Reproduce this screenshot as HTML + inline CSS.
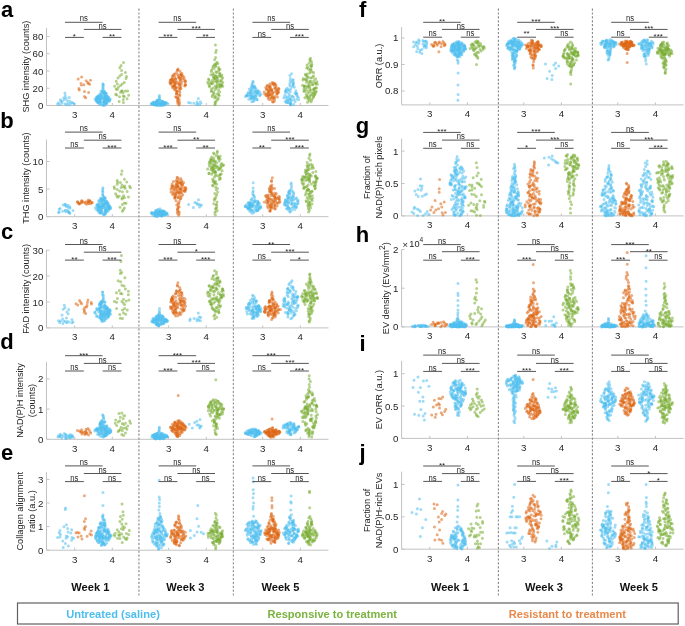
<!DOCTYPE html>
<html><head><meta charset="utf-8"><style>
html,body{margin:0;padding:0;background:#fff;width:685px;height:626px;overflow:hidden}
svg{display:block;filter:blur(0.3px)}
text{font-family:"Liberation Sans", sans-serif}
.t{font-size:9.2px;fill:#262626}
.s{font-size:8px;fill:#262626}
.k{font-size:9.7px;fill:#262626}
.L{font-size:22px;font-weight:bold;fill:#000}
.W{font-size:11.1px;font-weight:bold;fill:#111}
</style></head><body>
<svg width="685" height="626" viewBox="0 0 685 626">
<path d="M46.5 27.8V105.5H328.5" fill="none" stroke="#c2c2c2" stroke-width="1"/>
<path d="M46.5 105.5h3" stroke="#c2c2c2" stroke-width="1"/>
<text x="43.3" y="109" text-anchor="end" class="k">0</text>
<path d="M46.5 88.25h3" stroke="#c2c2c2" stroke-width="1"/>
<text x="43.3" y="91.75" text-anchor="end" class="k">20</text>
<path d="M46.5 71h3" stroke="#c2c2c2" stroke-width="1"/>
<text x="43.3" y="74.5" text-anchor="end" class="k">40</text>
<path d="M46.5 53.75h3" stroke="#c2c2c2" stroke-width="1"/>
<text x="43.3" y="57.25" text-anchor="end" class="k">60</text>
<path d="M46.5 36.5h3" stroke="#c2c2c2" stroke-width="1"/>
<text x="43.3" y="40" text-anchor="end" class="k">80</text>
<path d="M74.7 105.5v-2.5" stroke="#c2c2c2" stroke-width="1"/>
<text x="74.7" y="117.9" text-anchor="middle" class="k">3</text>
<path d="M112.3 105.5v-2.5" stroke="#c2c2c2" stroke-width="1"/>
<text x="112.3" y="117.9" text-anchor="middle" class="k">4</text>
<path d="M168.7 105.5v-2.5" stroke="#c2c2c2" stroke-width="1"/>
<text x="168.7" y="117.9" text-anchor="middle" class="k">3</text>
<path d="M206.3 105.5v-2.5" stroke="#c2c2c2" stroke-width="1"/>
<text x="206.3" y="117.9" text-anchor="middle" class="k">4</text>
<path d="M262.7 105.5v-2.5" stroke="#c2c2c2" stroke-width="1"/>
<text x="262.7" y="117.9" text-anchor="middle" class="k">3</text>
<path d="M300.3 105.5v-2.5" stroke="#c2c2c2" stroke-width="1"/>
<text x="300.3" y="117.9" text-anchor="middle" class="k">4</text>
<text transform="translate(29.1 66.65) rotate(-90)" text-anchor="middle" class="t">SHG intensity (counts)</text>
<path d="M69.9 101.2h0M70.5 103.8h0M62.0 103.2h0M69.6 104.7h0" stroke="#4DBEEE" stroke-opacity="0.55" stroke-width="3.0" stroke-linecap="round"/>
<path d="M67.3 100.6h0M58.5 103.0h0M59.7 104.4h0M64.3 99.4h0" stroke="#4DBEEE" stroke-opacity="0.55" stroke-width="3.0" stroke-linecap="round"/>
<path d="M73.1 103.0h0M57.6 104.1h0M60.8 101.2h0" stroke="#4DBEEE" stroke-opacity="0.55" stroke-width="3.0" stroke-linecap="round"/>
<path d="M65.2 95.4h0M69.3 97.4h0" stroke="#4DBEEE" stroke-opacity="0.55" stroke-width="3.0" stroke-linecap="round"/>
<path d="M63.8 97.7h0M60.5 99.7h0M74.3 104.1h0M66.7 104.7h0M71.9 102.4h0" stroke="#4DBEEE" stroke-opacity="0.55" stroke-width="3.0" stroke-linecap="round"/>
<path d="M64.9 93.0h0M66.1 98.0h0M62.3 101.2h0M65.2 103.8h0M68.1 103.0h0" stroke="#4DBEEE" stroke-opacity="0.55" stroke-width="3.0" stroke-linecap="round"/>
<path d="M81.6 77.0h0M86.2 80.8h0" stroke="#DD6410" stroke-opacity="0.55" stroke-width="3.0" stroke-linecap="round"/>
<path d="M87.7 82.5h0M89.7 84.3h0M85.7 97.7h0" stroke="#DD6410" stroke-opacity="0.55" stroke-width="3.0" stroke-linecap="round"/>
<path d="M81.0 83.4h0M81.3 85.1h0M83.9 84.8h0M88.3 83.4h0M84.5 96.5h0" stroke="#DD6410" stroke-opacity="0.55" stroke-width="3.0" stroke-linecap="round"/>
<path d="M78.2 78.9h0M79.2 90.1h0M84.5 91.6h0M88.6 92.4h0" stroke="#DD6410" stroke-opacity="0.55" stroke-width="3.0" stroke-linecap="round"/>
<path d="M90.5 80.2h0M78.9 88.4h0" stroke="#DD6410" stroke-opacity="0.55" stroke-width="3.0" stroke-linecap="round"/>
<path d="M103.5 104.9h0M103.6 104.8h0M104.9 103.7h0M105.4 103.7h0M98.4 102.9h0M97.9 102.6h0M99.4 102.3h0M103.7 102.2h0M108.2 100.6h0M96.1 100.6h0M96.9 100.4h0M104.9 100.3h0M107.5 100.3h0M105.2 99.8h0M109.0 99.3h0M98.2 99.0h0M110.3 98.9h0M105.5 98.6h0M98.4 98.0h0M105.5 96.4h0M105.7 96.3h0M106.3 93.5h0M101.1 92.4h0M100.9 91.3h0" stroke="#4DBEEE" stroke-opacity="0.55" stroke-width="3.0" stroke-linecap="round"/>
<path d="M106.9 103.0h0M97.5 102.1h0M104.0 102.0h0M105.1 101.3h0M96.2 100.8h0M100.4 100.5h0M100.0 100.2h0M107.6 100.1h0M109.0 99.9h0M105.5 99.6h0M108.2 99.5h0M106.6 99.3h0M95.0 99.1h0M96.4 98.5h0M100.9 98.5h0M103.5 98.0h0M102.2 97.8h0M96.5 97.7h0M99.9 97.5h0M104.5 96.7h0M107.8 96.5h0M101.3 96.5h0M98.2 95.7h0M103.1 95.5h0M103.2 94.8h0M105.1 93.1h0M104.3 92.0h0M103.3 84.5h0" stroke="#4DBEEE" stroke-opacity="0.55" stroke-width="3.0" stroke-linecap="round"/>
<path d="M104.8 103.6h0M106.3 103.2h0M98.2 102.8h0M100.5 101.6h0M104.4 101.1h0M100.1 100.4h0M108.6 100.2h0M97.0 100.1h0M98.0 99.9h0M109.4 99.2h0M104.0 98.9h0M100.9 98.2h0M97.6 97.1h0M99.7 96.9h0M102.1 96.6h0M97.9 96.3h0M99.9 94.3h0M100.5 94.2h0M104.6 92.9h0M102.6 91.7h0" stroke="#4DBEEE" stroke-opacity="0.55" stroke-width="3.0" stroke-linecap="round"/>
<path d="M98.8 101.9h0M105.1 101.9h0M100.0 99.3h0M105.4 99.0h0M98.8 98.7h0M96.9 98.4h0M108.3 98.3h0M106.8 97.6h0M106.8 97.4h0M97.6 97.2h0M97.0 97.1h0M106.2 96.2h0M106.1 94.5h0M105.1 93.9h0M102.3 92.8h0M104.3 92.2h0" stroke="#4DBEEE" stroke-opacity="0.55" stroke-width="3.0" stroke-linecap="round"/>
<path d="M102.8 105.2h0M101.1 104.5h0M99.7 103.5h0M105.5 103.3h0M100.3 102.6h0M103.4 101.5h0M104.0 101.0h0M109.8 100.7h0M107.2 100.0h0M104.1 99.8h0M97.3 99.1h0M98.9 97.9h0M104.1 97.6h0M96.6 97.4h0M97.5 97.3h0M107.4 96.8h0M105.5 95.4h0M100.8 95.0h0M105.0 94.6h0M104.4 93.6h0M105.8 93.3h0M104.3 91.1h0M103.0 90.5h0M102.6 89.6h0M103.2 87.7h0M103.2 85.6h0" stroke="#4DBEEE" stroke-opacity="0.55" stroke-width="3.0" stroke-linecap="round"/>
<path d="M104.5 105.4h0M100.1 104.2h0M102.3 104.0h0M106.4 103.4h0M103.1 103.0h0M100.2 102.5h0M96.9 101.7h0M108.6 101.5h0M107.1 101.3h0M98.5 101.0h0M107.4 100.7h0M104.7 99.7h0M96.3 99.6h0M105.1 99.5h0M107.9 99.4h0M100.9 98.8h0M102.2 98.7h0M105.5 98.3h0M100.8 98.1h0M100.2 97.8h0M108.6 97.0h0M100.3 96.8h0M98.8 96.6h0M106.7 96.1h0M104.9 96.0h0M101.4 95.9h0M100.0 95.1h0M103.9 93.8h0M103.7 92.5h0M104.0 91.8h0M102.3 91.6h0M102.5 91.4h0M103.0 89.1h0M102.8 86.7h0M102.8 83.8h0" stroke="#4DBEEE" stroke-opacity="0.55" stroke-width="3.0" stroke-linecap="round"/>
<path d="M126.0 78.6h0M124.3 82.4h0M127.6 90.9h0M116.7 94.9h0M119.1 101.4h0" stroke="#77AC30" stroke-opacity="0.55" stroke-width="3.0" stroke-linecap="round"/>
<path d="M121.6 74.6h0M119.8 75.9h0M126.5 76.4h0M116.2 88.9h0M120.5 92.2h0M115.7 94.3h0M128.7 95.2h0M123.5 102.5h0" stroke="#77AC30" stroke-opacity="0.55" stroke-width="3.0" stroke-linecap="round"/>
<path d="M125.4 72.6h0M122.2 84.0h0M119.5 96.7h0M127.1 98.7h0" stroke="#77AC30" stroke-opacity="0.55" stroke-width="3.0" stroke-linecap="round"/>
<path d="M114.6 86.2h0M125.4 91.1h0M123.0 92.7h0M124.3 96.5h0M121.6 91.1h0" stroke="#77AC30" stroke-opacity="0.55" stroke-width="3.0" stroke-linecap="round"/>
<path d="M123.5 62.5h0M121.1 65.5h0M121.6 70.4h0M118.0 78.0h0M116.2 81.3h0M123.3 99.6h0" stroke="#77AC30" stroke-opacity="0.55" stroke-width="3.0" stroke-linecap="round"/>
<path d="M119.8 67.7h0M117.3 84.0h0M120.5 85.4h0M118.4 87.3h0M117.3 89.5h0M122.2 91.1h0M123.3 96.0h0" stroke="#77AC30" stroke-opacity="0.55" stroke-width="3.0" stroke-linecap="round"/>
<path d="M163.0 104.5h0M157.1 104.5h0M155.8 104.4h0M153.9 104.0h0M157.8 103.7h0M162.0 103.5h0M167.2 103.1h0M166.4 103.0h0M156.7 102.9h0M156.9 102.7h0M156.2 102.5h0M164.6 102.4h0M162.2 101.6h0M157.5 100.3h0M159.4 97.3h0M159.2 96.7h0" stroke="#4DBEEE" stroke-opacity="0.55" stroke-width="3.0" stroke-linecap="round"/>
<path d="M156.6 105.0h0M155.6 104.8h0M157.0 104.8h0M161.4 104.6h0M158.4 104.4h0M161.4 104.2h0M153.7 104.2h0M166.6 104.1h0M155.5 103.8h0M154.1 103.8h0M164.6 103.7h0M166.3 103.6h0M165.8 103.6h0M162.1 103.5h0M166.8 103.4h0M166.0 103.2h0M158.1 102.1h0M156.8 101.5h0M157.4 101.3h0M159.6 100.5h0M159.4 95.6h0" stroke="#4DBEEE" stroke-opacity="0.55" stroke-width="3.0" stroke-linecap="round"/>
<path d="M160.5 105.4h0M156.5 105.3h0M162.7 104.8h0M159.1 104.7h0M162.8 104.5h0M155.9 104.1h0M154.3 104.0h0M151.4 103.9h0M158.6 103.9h0M153.8 103.9h0M163.8 103.4h0M154.6 103.4h0M165.7 103.3h0M161.0 103.0h0M162.2 102.8h0M163.1 102.7h0M154.8 102.6h0M161.7 102.3h0M153.5 102.0h0M161.0 101.5h0M157.5 101.2h0M160.7 101.0h0M161.3 100.9h0M160.9 100.4h0M159.6 98.4h0" stroke="#4DBEEE" stroke-opacity="0.55" stroke-width="3.0" stroke-linecap="round"/>
<path d="M161.8 104.9h0M154.0 104.3h0M164.1 103.8h0M161.2 103.7h0M153.7 103.6h0M164.7 103.2h0M161.1 103.1h0M162.0 103.1h0M162.1 103.1h0M160.4 103.0h0M154.0 102.6h0M163.7 102.2h0M162.5 101.9h0" stroke="#4DBEEE" stroke-opacity="0.55" stroke-width="3.0" stroke-linecap="round"/>
<path d="M159.5 105.4h0M163.8 105.2h0M154.4 105.0h0M158.4 105.0h0M154.8 104.8h0M164.9 104.7h0M161.0 104.6h0M158.4 104.3h0M154.2 104.1h0M151.8 103.5h0M161.0 103.5h0M153.0 103.3h0M162.7 102.8h0M158.1 102.8h0M164.6 102.8h0M156.6 101.8h0M155.7 101.7h0M162.8 101.3h0M157.0 100.8h0M158.9 99.1h0" stroke="#4DBEEE" stroke-opacity="0.55" stroke-width="3.0" stroke-linecap="round"/>
<path d="M157.1 105.2h0M157.2 105.1h0M162.5 104.9h0M159.1 104.3h0M153.7 104.2h0M151.7 104.0h0M158.9 104.0h0M157.9 103.7h0M156.3 103.3h0M151.7 103.2h0M159.5 102.9h0M151.9 102.9h0M153.1 102.7h0M156.5 102.6h0M158.6 102.5h0M165.3 102.5h0M156.8 100.9h0M159.4 100.7h0M156.8 100.6h0" stroke="#4DBEEE" stroke-opacity="0.55" stroke-width="3.0" stroke-linecap="round"/>
<path d="M179.0 105.0h0M177.7 103.2h0M176.7 90.8h0M179.2 90.3h0M174.3 89.2h0M176.9 87.5h0M176.2 87.0h0M173.7 85.4h0M174.9 84.9h0M170.5 83.0h0M171.0 82.3h0M175.1 80.4h0M171.8 79.6h0M175.6 79.0h0" stroke="#DD6410" stroke-opacity="0.55" stroke-width="3.0" stroke-linecap="round"/>
<path d="M179.2 99.8h0M178.0 99.3h0M179.8 94.8h0M176.5 93.4h0M175.4 90.0h0M174.5 85.5h0M179.7 84.8h0M178.9 82.9h0M173.2 81.6h0M181.6 81.5h0M171.5 80.5h0M170.5 80.0h0M180.2 79.7h0M184.3 79.2h0M179.2 77.2h0M178.3 76.4h0M173.2 75.7h0M181.9 73.5h0M177.4 69.9h0" stroke="#DD6410" stroke-opacity="0.55" stroke-width="3.0" stroke-linecap="round"/>
<path d="M179.2 103.8h0M177.8 101.5h0M179.9 92.0h0M180.2 88.6h0M173.5 86.5h0M184.7 85.9h0M185.6 84.7h0M171.1 82.7h0M175.3 82.4h0M170.3 82.1h0M170.0 81.4h0M173.9 81.2h0M184.6 80.9h0M170.5 80.2h0M173.6 80.1h0M178.8 78.0h0M181.3 74.9h0M177.7 74.4h0" stroke="#DD6410" stroke-opacity="0.55" stroke-width="3.0" stroke-linecap="round"/>
<path d="M177.8 97.9h0M176.2 97.2h0M177.2 91.4h0M179.7 87.9h0M179.0 87.4h0M175.0 87.2h0M179.5 86.8h0M179.3 86.6h0M185.4 85.2h0M179.7 84.0h0M170.0 83.1h0M180.3 80.7h0M172.2 79.8h0M172.7 79.4h0M182.5 78.5h0M172.5 77.7h0M182.2 76.8h0M172.4 76.0h0M175.2 74.1h0M176.5 72.3h0M177.7 70.3h0" stroke="#DD6410" stroke-opacity="0.55" stroke-width="3.0" stroke-linecap="round"/>
<path d="M179.6 102.2h0M177.6 100.5h0M177.9 98.7h0M177.5 98.3h0M176.5 94.1h0M175.8 88.1h0M172.6 87.7h0M185.1 84.4h0M175.5 83.6h0M173.2 82.6h0M185.2 81.9h0M175.6 79.0h0M171.9 78.7h0M180.7 78.4h0M180.9 74.6h0M181.0 73.7h0M180.0 71.3h0M178.1 68.9h0" stroke="#DD6410" stroke-opacity="0.55" stroke-width="3.0" stroke-linecap="round"/>
<path d="M175.8 96.7h0M179.5 96.3h0M178.5 95.6h0M179.1 95.0h0M176.7 93.1h0M176.8 92.6h0M180.9 88.4h0M180.9 86.3h0M172.3 86.1h0M173.8 85.7h0M170.9 84.3h0M178.4 84.0h0M181.4 83.7h0M175.3 83.4h0M177.0 81.8h0M185.7 81.0h0M179.8 77.8h0M174.9 77.3h0M184.0 77.0h0M179.8 76.4h0M182.6 75.8h0M174.1 75.3h0M180.1 75.1h0M174.0 74.1h0" stroke="#DD6410" stroke-opacity="0.55" stroke-width="3.0" stroke-linecap="round"/>
<path d="M196.7 104.4h0" stroke="#4DBEEE" stroke-opacity="0.55" stroke-width="3.0" stroke-linecap="round"/>
<path d="M200.3 101.7h0M201.1 103.0h0" stroke="#4DBEEE" stroke-opacity="0.55" stroke-width="3.0" stroke-linecap="round"/>
<path d="M190.5 103.1h0" stroke="#4DBEEE" stroke-opacity="0.55" stroke-width="3.0" stroke-linecap="round"/>
<path d="M188.5 102.4h0M193.8 103.3h0M197.0 101.9h0M199.6 104.6h0" stroke="#4DBEEE" stroke-opacity="0.55" stroke-width="3.0" stroke-linecap="round"/>
<path d="M198.3 98.4h0" stroke="#4DBEEE" stroke-opacity="0.55" stroke-width="3.0" stroke-linecap="round"/>
<path d="M197.8 103.7h0" stroke="#4DBEEE" stroke-opacity="0.55" stroke-width="3.0" stroke-linecap="round"/>
<path d="M217.0 93.9h0M218.3 92.8h0M213.6 92.3h0M219.7 91.8h0M218.6 90.2h0M215.1 89.8h0M215.9 88.8h0M221.4 85.4h0M211.9 83.5h0M221.8 79.5h0M213.9 78.3h0M221.2 76.4h0M211.7 70.1h0M219.9 69.6h0M215.6 66.5h0M214.1 65.0h0M215.6 57.6h0M215.7 52.6h0M215.4 45.1h0" stroke="#77AC30" stroke-opacity="0.55" stroke-width="3.0" stroke-linecap="round"/>
<path d="M218.3 98.4h0M212.2 96.6h0M218.7 94.7h0M211.3 91.3h0M213.0 87.9h0M215.1 86.0h0M219.8 85.8h0M217.0 85.1h0M214.3 77.0h0M221.8 75.1h0M219.7 73.2h0M211.4 71.5h0M214.1 68.5h0M212.8 67.9h0M218.6 67.4h0" stroke="#77AC30" stroke-opacity="0.55" stroke-width="3.0" stroke-linecap="round"/>
<path d="M216.1 101.3h0M214.7 98.0h0M220.7 87.1h0M221.8 84.9h0M208.6 84.1h0M212.8 83.2h0M213.4 81.9h0M208.9 80.1h0M217.3 79.2h0M217.0 77.9h0M212.9 74.9h0M216.9 72.6h0M216.5 63.5h0" stroke="#77AC30" stroke-opacity="0.55" stroke-width="3.0" stroke-linecap="round"/>
<path d="M215.0 102.3h0M219.2 95.5h0M212.7 95.0h0M209.6 85.6h0M210.8 83.7h0M207.6 82.3h0M216.5 81.4h0M214.8 78.8h0M217.4 76.8h0M218.6 76.3h0M215.2 64.1h0" stroke="#77AC30" stroke-opacity="0.55" stroke-width="3.0" stroke-linecap="round"/>
<path d="M214.9 104.8h0M216.2 97.2h0M211.6 90.9h0M211.4 89.3h0M216.4 87.4h0M219.2 84.0h0M217.2 83.0h0M217.8 82.8h0M221.0 81.5h0M208.6 79.0h0M217.0 78.1h0M222.6 77.7h0M215.5 75.4h0M219.8 74.1h0M215.8 71.8h0M218.5 70.7h0M213.1 66.2h0M217.9 63.4h0M217.1 62.2h0M214.6 59.7h0" stroke="#77AC30" stroke-opacity="0.55" stroke-width="3.0" stroke-linecap="round"/>
<path d="M215.3 103.6h0M217.4 99.7h0M214.8 96.0h0M213.9 93.6h0M219.1 87.3h0M209.4 86.8h0M217.0 86.6h0M222.8 86.3h0M220.2 84.7h0M221.6 84.4h0M222.8 82.5h0M210.6 82.1h0M215.9 81.1h0M220.0 80.7h0M218.3 80.7h0M212.2 80.4h0M215.1 79.8h0M213.3 77.3h0M215.3 76.0h0M220.0 75.8h0M210.9 74.7h0M213.3 73.6h0M218.9 68.9h0M215.7 65.4h0M216.3 50.3h0" stroke="#77AC30" stroke-opacity="0.55" stroke-width="3.0" stroke-linecap="round"/>
<path d="M257.1 99.4h0M255.6 98.7h0M259.8 95.1h0M248.3 92.5h0M259.7 91.9h0M254.7 91.8h0M259.2 91.4h0M250.1 90.9h0M253.2 82.2h0" stroke="#4DBEEE" stroke-opacity="0.55" stroke-width="3.0" stroke-linecap="round"/>
<path d="M251.8 101.7h0M253.2 98.3h0M251.6 97.4h0M253.3 96.5h0M246.3 96.0h0M246.7 95.5h0M255.3 95.4h0M256.8 92.7h0M254.5 85.9h0M252.1 83.8h0M252.9 81.3h0" stroke="#4DBEEE" stroke-opacity="0.55" stroke-width="3.0" stroke-linecap="round"/>
<path d="M250.9 97.1h0M250.9 95.6h0M247.1 95.0h0M251.0 94.9h0M247.1 94.6h0M249.7 94.4h0M256.7 94.2h0M251.2 93.8h0M247.8 93.5h0M257.9 92.8h0M257.9 91.6h0M251.4 87.7h0M254.4 87.1h0M253.1 86.8h0M252.1 84.8h0" stroke="#4DBEEE" stroke-opacity="0.55" stroke-width="3.0" stroke-linecap="round"/>
<path d="M254.1 100.4h0M251.9 98.6h0M251.1 98.4h0M252.7 96.9h0M245.5 96.5h0M248.7 96.3h0M255.9 95.9h0M259.8 95.8h0M252.3 93.1h0M250.5 92.2h0M257.6 92.2h0M249.2 89.0h0M255.6 88.1h0M254.4 87.5h0M251.5 86.4h0" stroke="#4DBEEE" stroke-opacity="0.55" stroke-width="3.0" stroke-linecap="round"/>
<path d="M253.5 101.3h0M257.1 99.7h0M256.2 99.1h0M255.9 98.0h0M255.2 97.8h0M255.9 97.6h0M256.0 97.2h0M255.0 97.0h0M254.3 96.7h0M251.4 96.2h0M253.2 94.7h0M257.8 93.6h0M254.5 93.3h0M255.0 91.1h0M251.9 90.7h0M254.6 90.4h0M257.5 90.0h0M252.3 89.5h0M254.9 88.7h0M252.9 88.4h0M252.8 86.2h0" stroke="#4DBEEE" stroke-opacity="0.55" stroke-width="3.0" stroke-linecap="round"/>
<path d="M248.7 99.2h0M250.7 98.9h0M253.7 98.0h0M247.1 95.2h0M250.4 94.5h0M261.0 94.1h0M250.2 93.0h0M256.1 91.2h0M251.4 89.8h0" stroke="#4DBEEE" stroke-opacity="0.55" stroke-width="3.0" stroke-linecap="round"/>
<path d="M272.5 101.7h0M273.4 98.0h0M271.7 96.5h0M270.9 94.7h0M276.9 93.8h0M268.3 90.4h0M271.5 89.1h0M275.3 88.3h0M270.0 86.3h0M270.2 86.0h0M267.1 85.3h0M275.3 84.6h0" stroke="#DD6410" stroke-opacity="0.55" stroke-width="3.0" stroke-linecap="round"/>
<path d="M269.1 99.6h0M268.2 98.5h0M274.8 96.4h0M268.6 95.6h0M266.1 95.3h0M266.0 93.9h0M278.0 92.7h0M277.0 91.3h0M277.3 89.7h0M267.0 89.3h0M272.6 84.0h0M274.6 83.4h0" stroke="#DD6410" stroke-opacity="0.55" stroke-width="3.0" stroke-linecap="round"/>
<path d="M274.5 99.0h0M273.5 98.7h0M271.6 97.5h0M277.4 96.9h0M272.5 96.0h0M266.6 95.8h0M267.8 95.0h0M276.9 94.3h0M272.8 93.0h0M267.6 92.8h0M269.2 92.2h0M278.5 92.0h0M276.3 89.9h0M278.8 88.9h0M278.5 88.7h0M274.6 88.2h0M270.4 87.6h0M267.2 86.5h0M272.2 82.6h0" stroke="#DD6410" stroke-opacity="0.55" stroke-width="3.0" stroke-linecap="round"/>
<path d="M274.4 100.9h0M271.1 99.4h0M271.2 98.3h0M269.5 94.6h0M268.4 93.1h0M271.8 90.3h0M266.5 89.6h0M270.3 89.3h0M269.0 87.9h0M274.4 85.6h0M275.8 84.9h0M273.6 83.0h0" stroke="#DD6410" stroke-opacity="0.55" stroke-width="3.0" stroke-linecap="round"/>
<path d="M274.0 97.8h0M267.8 95.1h0M270.1 94.4h0M264.7 94.0h0M272.6 93.5h0M271.1 93.4h0M277.4 92.5h0M264.2 92.1h0M278.0 91.5h0M278.1 91.1h0M271.9 90.9h0M277.7 90.7h0M269.5 90.1h0M278.8 88.5h0M265.7 87.4h0M269.4 86.7h0M273.2 84.3h0" stroke="#DD6410" stroke-opacity="0.55" stroke-width="3.0" stroke-linecap="round"/>
<path d="M273.2 102.1h0M268.7 97.2h0M268.8 91.8h0M274.7 91.7h0M271.5 90.5h0M276.2 87.0h0M269.5 85.1h0M270.0 83.8h0" stroke="#DD6410" stroke-opacity="0.55" stroke-width="3.0" stroke-linecap="round"/>
<path d="M290.7 105.0h0M288.1 102.5h0M287.3 102.1h0M285.1 101.5h0M287.9 100.8h0M283.8 97.8h0M289.5 96.3h0M296.7 95.3h0M296.1 93.9h0M287.9 89.7h0M289.9 86.0h0M290.3 78.4h0" stroke="#4DBEEE" stroke-opacity="0.55" stroke-width="3.0" stroke-linecap="round"/>
<path d="M290.9 103.7h0M286.4 102.7h0M286.4 101.3h0M286.7 100.5h0M290.9 100.1h0M298.7 99.5h0M296.7 99.3h0M298.3 97.9h0M293.5 97.3h0M292.3 97.1h0M289.4 94.3h0M285.4 91.9h0M295.9 90.7h0M286.2 89.0h0M287.1 88.2h0M292.4 86.5h0M289.9 75.6h0M291.5 73.7h0" stroke="#4DBEEE" stroke-opacity="0.55" stroke-width="3.0" stroke-linecap="round"/>
<path d="M295.1 101.7h0M288.9 100.3h0M290.1 98.8h0M289.5 98.6h0M295.0 92.9h0M286.0 91.2h0M289.1 90.1h0M294.3 87.3h0M293.5 82.2h0M291.6 81.9h0M293.0 79.8h0" stroke="#4DBEEE" stroke-opacity="0.55" stroke-width="3.0" stroke-linecap="round"/>
<path d="M293.7 104.5h0M290.3 103.2h0M291.3 101.0h0M297.7 96.4h0M296.2 93.4h0M287.6 92.4h0M285.6 90.6h0M293.0 84.6h0" stroke="#4DBEEE" stroke-opacity="0.55" stroke-width="3.0" stroke-linecap="round"/>
<path d="M290.7 103.5h0M289.7 103.1h0M289.7 99.1h0M287.4 96.7h0M296.8 93.6h0M290.3 91.6h0M293.2 83.3h0M290.1 80.9h0M292.9 80.2h0" stroke="#4DBEEE" stroke-opacity="0.55" stroke-width="3.0" stroke-linecap="round"/>
<path d="M290.5 104.2h0M287.6 102.2h0M293.8 99.8h0M286.6 98.4h0M286.1 97.5h0M292.4 96.0h0M284.8 95.7h0M285.2 94.8h0M290.9 88.7h0M293.4 85.0h0M289.7 83.7h0" stroke="#4DBEEE" stroke-opacity="0.55" stroke-width="3.0" stroke-linecap="round"/>
<path d="M311.2 101.8h0M309.4 98.4h0M312.8 98.3h0M313.6 96.0h0M307.2 95.5h0M306.2 93.7h0M308.0 92.9h0M315.8 92.0h0M315.8 87.7h0M312.9 84.7h0M314.4 82.7h0M313.9 81.0h0M307.0 80.6h0M314.4 80.3h0M305.3 79.4h0M315.6 78.8h0M308.3 76.9h0M305.8 75.0h0M309.6 72.9h0M313.6 72.5h0M311.5 65.5h0M310.5 58.3h0" stroke="#77AC30" stroke-opacity="0.55" stroke-width="3.0" stroke-linecap="round"/>
<path d="M311.7 99.7h0M315.0 94.1h0M304.4 91.0h0M309.7 89.8h0M313.9 89.3h0M308.8 86.8h0M302.5 85.3h0M309.2 85.1h0M312.2 84.4h0M315.9 84.0h0M311.8 83.5h0M306.4 82.3h0M317.0 81.8h0M303.5 78.5h0M312.2 77.5h0M313.0 77.3h0M311.6 72.0h0M310.2 71.1h0M309.9 70.4h0M310.6 69.1h0M309.1 63.3h0M311.5 61.8h0" stroke="#77AC30" stroke-opacity="0.55" stroke-width="3.0" stroke-linecap="round"/>
<path d="M307.5 102.2h0M313.7 96.7h0M311.7 94.9h0M311.7 93.0h0M313.8 92.5h0M303.9 91.3h0M304.0 89.6h0M303.9 88.8h0M304.1 85.9h0M307.7 85.7h0M306.6 76.1h0M311.5 66.6h0M311.9 64.3h0" stroke="#77AC30" stroke-opacity="0.55" stroke-width="3.0" stroke-linecap="round"/>
<path d="M309.5 100.8h0M307.5 97.4h0M310.4 95.2h0M314.8 94.5h0M313.9 90.6h0M306.6 90.5h0M305.7 88.5h0M316.5 88.0h0M305.2 86.0h0M308.8 82.9h0M309.8 81.2h0M313.5 75.7h0M305.4 74.3h0M307.1 73.9h0M308.5 68.9h0M307.7 67.3h0M307.0 65.0h0" stroke="#77AC30" stroke-opacity="0.55" stroke-width="3.0" stroke-linecap="round"/>
<path d="M308.0 99.3h0M309.6 97.1h0M307.0 96.4h0M306.6 95.9h0M313.2 93.6h0M311.1 90.1h0M314.7 88.3h0M310.1 82.0h0M311.2 81.5h0M302.9 80.1h0M306.1 79.6h0M306.5 79.1h0M307.2 78.1h0M311.2 69.9h0M306.8 68.1h0M310.6 66.1h0M310.1 60.7h0" stroke="#77AC30" stroke-opacity="0.55" stroke-width="3.0" stroke-linecap="round"/>
<path d="M304.9 97.8h0M309.4 91.7h0M316.2 91.4h0M313.7 89.1h0M309.7 87.5h0M307.5 87.3h0M304.3 86.6h0M309.6 86.5h0M317.4 84.2h0M316.0 83.2h0M310.6 77.9h0M309.9 59.6h0" stroke="#77AC30" stroke-opacity="0.55" stroke-width="3.0" stroke-linecap="round"/>
<path d="M65 22.3H102.6" stroke="#555" stroke-width="1"/>
<text transform="translate(83.8 21.4) scale(0.96 1.2)" text-anchor="middle" class="s">ns</text>
<path d="M83.8 29.4H121.4" stroke="#555" stroke-width="1"/>
<text transform="translate(102.6 28.5) scale(0.96 1.2)" text-anchor="middle" class="s">ns</text>
<path d="M65 37.4H83.8" stroke="#555" stroke-width="1"/>
<text x="74.4" y="39.4" text-anchor="middle" class="s">*</text>
<path d="M102.6 37.4H121.4" stroke="#555" stroke-width="1"/>
<text x="112" y="39.4" text-anchor="middle" class="s">**</text>
<path d="M158.6 22.3H196.2" stroke="#555" stroke-width="1"/>
<text transform="translate(177.4 21.4) scale(0.96 1.2)" text-anchor="middle" class="s">ns</text>
<path d="M177.4 29.4H215" stroke="#555" stroke-width="1"/>
<text x="196.2" y="31.4" text-anchor="middle" class="s">***</text>
<path d="M158.6 37.4H177.4" stroke="#555" stroke-width="1"/>
<text x="168" y="39.4" text-anchor="middle" class="s">***</text>
<path d="M196.2 37.4H215" stroke="#555" stroke-width="1"/>
<text x="205.6" y="39.4" text-anchor="middle" class="s">**</text>
<path d="M252.4 22.3H290" stroke="#555" stroke-width="1"/>
<text transform="translate(271.2 21.4) scale(0.96 1.2)" text-anchor="middle" class="s">ns</text>
<path d="M271.2 29.4H308.8" stroke="#555" stroke-width="1"/>
<text transform="translate(290 28.5) scale(0.96 1.2)" text-anchor="middle" class="s">ns</text>
<path d="M252.4 37.4H271.2" stroke="#555" stroke-width="1"/>
<text transform="translate(261.8 36.5) scale(0.96 1.2)" text-anchor="middle" class="s">ns</text>
<path d="M290 37.4H308.8" stroke="#555" stroke-width="1"/>
<text x="299.4" y="39.4" text-anchor="middle" class="s">***</text>
<path d="M46.5 139.6V216.7H328.5" fill="none" stroke="#c2c2c2" stroke-width="1"/>
<path d="M46.5 216.7h3" stroke="#c2c2c2" stroke-width="1"/>
<text x="43.3" y="220.2" text-anchor="end" class="k">0</text>
<path d="M46.5 189.1h3" stroke="#c2c2c2" stroke-width="1"/>
<text x="43.3" y="192.6" text-anchor="end" class="k">5</text>
<path d="M46.5 161.5h3" stroke="#c2c2c2" stroke-width="1"/>
<text x="43.3" y="165" text-anchor="end" class="k">10</text>
<path d="M74.7 216.7v-2.5" stroke="#c2c2c2" stroke-width="1"/>
<text x="74.7" y="229.1" text-anchor="middle" class="k">3</text>
<path d="M112.3 216.7v-2.5" stroke="#c2c2c2" stroke-width="1"/>
<text x="112.3" y="229.1" text-anchor="middle" class="k">4</text>
<path d="M168.7 216.7v-2.5" stroke="#c2c2c2" stroke-width="1"/>
<text x="168.7" y="229.1" text-anchor="middle" class="k">3</text>
<path d="M206.3 216.7v-2.5" stroke="#c2c2c2" stroke-width="1"/>
<text x="206.3" y="229.1" text-anchor="middle" class="k">4</text>
<path d="M262.7 216.7v-2.5" stroke="#c2c2c2" stroke-width="1"/>
<text x="262.7" y="229.1" text-anchor="middle" class="k">3</text>
<path d="M300.3 216.7v-2.5" stroke="#c2c2c2" stroke-width="1"/>
<text x="300.3" y="229.1" text-anchor="middle" class="k">4</text>
<text transform="translate(29.1 178.15) rotate(-90)" text-anchor="middle" class="t">THG intensity (counts)</text>
<path d="M59.2 211.9h0M68.4 211.4h0M73.0 210.6h0M66.3 206.0h0M63.2 205.1h0" stroke="#4DBEEE" stroke-opacity="0.55" stroke-width="3.0" stroke-linecap="round"/>
<path d="M69.1 212.4h0M65.7 211.7h0M65.4 210.9h0" stroke="#4DBEEE" stroke-opacity="0.55" stroke-width="3.0" stroke-linecap="round"/>
<path d="M62.6 211.2h0M69.8 206.8h0M68.3 205.2h0" stroke="#4DBEEE" stroke-opacity="0.55" stroke-width="3.0" stroke-linecap="round"/>
<path d="M69.3 212.8h0M58.5 212.6h0M65.3 210.2h0M60.2 208.6h0" stroke="#4DBEEE" stroke-opacity="0.55" stroke-width="3.0" stroke-linecap="round"/>
<path d="M59.1 209.3h0M70.0 208.3h0M68.5 207.5h0M65.0 204.2h0" stroke="#4DBEEE" stroke-opacity="0.55" stroke-width="3.0" stroke-linecap="round"/>
<path d="M69.8 213.2h0M68.4 212.1h0M67.4 210.2h0M66.4 206.3h0M65.7 205.6h0M65.3 204.6h0" stroke="#4DBEEE" stroke-opacity="0.55" stroke-width="3.0" stroke-linecap="round"/>
<path d="M90.6 203.8h0M80.2 203.3h0M88.3 203.0h0M83.9 202.2h0M89.9 200.8h0M81.5 200.7h0" stroke="#DD6410" stroke-opacity="0.55" stroke-width="3.0" stroke-linecap="round"/>
<path d="M79.3 204.0h0M86.2 201.7h0" stroke="#DD6410" stroke-opacity="0.55" stroke-width="3.0" stroke-linecap="round"/>
<path d="M77.5 201.8h0" stroke="#DD6410" stroke-opacity="0.55" stroke-width="3.0" stroke-linecap="round"/>
<path d="M86.7 204.3h0M88.4 203.6h0M92.3 202.5h0M88.3 202.4h0M81.8 202.0h0M90.3 201.4h0" stroke="#DD6410" stroke-opacity="0.55" stroke-width="3.0" stroke-linecap="round"/>
<path d="M85.3 203.2h0M78.4 202.9h0M89.2 200.4h0M88.3 200.1h0" stroke="#DD6410" stroke-opacity="0.55" stroke-width="3.0" stroke-linecap="round"/>
<path d="M78.8 203.5h0M91.7 202.7h0M81.6 202.6h0M77.5 201.9h0M88.3 201.5h0M82.2 201.0h0" stroke="#DD6410" stroke-opacity="0.55" stroke-width="3.0" stroke-linecap="round"/>
<path d="M104.0 214.9h0M103.4 214.7h0M105.3 213.8h0M105.3 211.9h0M105.6 210.2h0M96.6 209.8h0M109.5 208.6h0M95.2 208.0h0M99.0 206.9h0M109.1 206.8h0M107.7 206.7h0M102.0 205.9h0M99.1 205.5h0M96.6 205.4h0M103.7 204.6h0M98.2 204.0h0M99.2 203.6h0M105.0 203.3h0M106.5 202.7h0M99.1 200.4h0M105.1 200.2h0M104.9 199.1h0M104.2 198.6h0M102.7 194.0h0M102.6 190.9h0" stroke="#4DBEEE" stroke-opacity="0.55" stroke-width="3.0" stroke-linecap="round"/>
<path d="M105.3 213.5h0M102.0 212.7h0M100.5 211.6h0M107.5 211.6h0M108.3 210.8h0M105.4 210.5h0M101.4 210.3h0M100.3 210.1h0M107.1 208.6h0M102.4 208.2h0M107.2 207.9h0M97.3 207.7h0M102.4 207.4h0M104.5 207.2h0M99.4 206.5h0M109.0 206.3h0M97.4 204.9h0M107.7 204.2h0M103.6 204.2h0M102.5 203.9h0M105.6 203.8h0M106.9 203.7h0M107.2 203.4h0M107.3 203.2h0M101.7 203.1h0M106.6 200.9h0M101.0 200.5h0M100.7 199.6h0M104.0 198.9h0M104.9 198.1h0M105.2 197.9h0M103.8 197.4h0M103.2 196.0h0M102.9 187.8h0" stroke="#4DBEEE" stroke-opacity="0.55" stroke-width="3.0" stroke-linecap="round"/>
<path d="M103.7 214.0h0M99.9 213.2h0M102.4 211.3h0M97.9 210.6h0M102.0 208.7h0M110.5 208.5h0M102.3 208.1h0M110.0 207.5h0M109.0 207.1h0M100.7 206.2h0M101.0 206.0h0M104.0 205.8h0M99.1 205.7h0M107.3 205.2h0M102.7 200.8h0M103.7 199.5h0M100.5 198.3h0M103.6 197.8h0" stroke="#4DBEEE" stroke-opacity="0.55" stroke-width="3.0" stroke-linecap="round"/>
<path d="M104.4 214.4h0M101.2 212.9h0M106.1 212.3h0M100.1 212.1h0M100.3 211.7h0M107.8 209.6h0M108.3 209.5h0M98.5 209.1h0M100.8 209.0h0M99.8 208.5h0M110.5 207.2h0M101.4 207.0h0M109.8 206.3h0M103.1 205.4h0M97.8 205.2h0M97.4 204.4h0M107.5 203.0h0M101.5 202.6h0M104.7 201.2h0M102.2 199.2h0M102.9 191.9h0M102.8 189.2h0" stroke="#4DBEEE" stroke-opacity="0.55" stroke-width="3.0" stroke-linecap="round"/>
<path d="M101.0 212.6h0M100.2 212.4h0M98.8 212.2h0M105.6 211.4h0M99.0 211.2h0M106.4 209.2h0M105.3 208.4h0M99.4 208.0h0M106.1 207.8h0M108.4 207.8h0M98.6 207.6h0M109.5 207.0h0M101.1 206.6h0M102.0 205.0h0M105.1 205.0h0M101.5 204.8h0M103.9 204.7h0M108.7 204.5h0M105.4 204.1h0M108.0 203.0h0M103.0 199.8h0M101.4 198.4h0M104.9 197.6h0" stroke="#4DBEEE" stroke-opacity="0.55" stroke-width="3.0" stroke-linecap="round"/>
<path d="M100.4 211.0h0M106.3 210.7h0M98.2 210.0h0M100.2 209.7h0M105.5 209.4h0M108.8 208.9h0M110.1 208.8h0M101.2 208.3h0M104.5 207.5h0M98.0 207.3h0M108.7 206.7h0M98.6 206.4h0M109.1 206.1h0M98.4 205.8h0M99.2 205.6h0M107.1 204.4h0M107.0 203.6h0M103.8 203.4h0M103.2 202.4h0M99.4 202.2h0M105.6 202.1h0M106.8 201.8h0M99.6 201.6h0M105.2 201.4h0M98.8 201.0h0M101.7 199.9h0M102.7 195.2h0" stroke="#4DBEEE" stroke-opacity="0.55" stroke-width="3.0" stroke-linecap="round"/>
<path d="M117.2 189.4h0M126.0 203.3h0M120.0 207.3h0M123.2 209.7h0" stroke="#77AC30" stroke-opacity="0.55" stroke-width="3.0" stroke-linecap="round"/>
<path d="M122.0 171.0h0M124.4 179.2h0M114.2 186.7h0M125.2 188.2h0M119.6 191.0h0M122.4 191.8h0" stroke="#77AC30" stroke-opacity="0.55" stroke-width="3.0" stroke-linecap="round"/>
<path d="M120.4 182.4h0M130.4 187.8h0M116.8 195.8h0M124.4 197.7h0M124.4 202.9h0" stroke="#77AC30" stroke-opacity="0.55" stroke-width="3.0" stroke-linecap="round"/>
<path d="M121.4 174.2h0M121.2 187.4h0M114.4 188.6h0M127.2 191.4h0M115.6 193.8h0M117.6 197.3h0M122.4 197.7h0" stroke="#77AC30" stroke-opacity="0.55" stroke-width="3.0" stroke-linecap="round"/>
<path d="M117.2 180.6h0M126.8 181.9h0M117.2 184.2h0M122.0 185.0h0M124.8 185.9h0M119.2 196.2h0M123.6 195.8h0M122.0 198.9h0M122.4 204.5h0M122.4 211.3h0" stroke="#77AC30" stroke-opacity="0.55" stroke-width="3.0" stroke-linecap="round"/>
<path d="M117.6 182.2h0M129.6 186.2h0M123.6 187.0h0M128.4 197.1h0M124.4 208.1h0" stroke="#77AC30" stroke-opacity="0.55" stroke-width="3.0" stroke-linecap="round"/>
<path d="M156.4 216.4h0M156.2 216.2h0M157.6 216.1h0M159.9 215.5h0M156.0 215.1h0M158.3 215.1h0M164.1 215.0h0M155.9 214.8h0M158.4 214.7h0M166.8 214.5h0M164.1 214.0h0M162.9 213.9h0M158.8 213.8h0M164.7 213.2h0M152.7 213.1h0M152.4 212.9h0M155.3 212.7h0M155.3 212.4h0M156.6 212.2h0M164.0 211.9h0M160.1 211.8h0M155.5 211.4h0M155.3 211.0h0M160.9 210.8h0" stroke="#4DBEEE" stroke-opacity="0.55" stroke-width="3.0" stroke-linecap="round"/>
<path d="M157.6 216.2h0M161.3 216.0h0M161.2 215.7h0M162.5 215.3h0M161.7 214.7h0M164.8 214.3h0M158.9 214.1h0M161.0 214.1h0M152.1 214.1h0M166.5 213.9h0M151.2 213.0h0M154.9 212.4h0M161.2 212.3h0M158.8 212.1h0M159.2 211.6h0M163.9 211.1h0" stroke="#4DBEEE" stroke-opacity="0.55" stroke-width="3.0" stroke-linecap="round"/>
<path d="M161.0 215.7h0M161.7 215.7h0M154.0 215.4h0M159.7 215.1h0M161.9 214.5h0M160.1 214.4h0M162.7 214.3h0M152.7 214.2h0M166.1 213.7h0M158.0 213.6h0M153.7 213.3h0M152.0 213.1h0M154.5 212.7h0M162.3 212.6h0M160.3 212.5h0M156.9 212.2h0M165.2 212.1h0M161.6 211.7h0M163.0 211.2h0M160.1 211.1h0M162.5 210.7h0M156.0 210.4h0" stroke="#4DBEEE" stroke-opacity="0.55" stroke-width="3.0" stroke-linecap="round"/>
<path d="M154.9 215.8h0M161.9 215.6h0M161.6 214.9h0M158.5 214.9h0M165.0 214.6h0M162.3 214.6h0M165.7 214.4h0M157.2 213.8h0M157.8 213.6h0M156.6 213.5h0M155.6 213.4h0M166.3 213.0h0M156.2 212.8h0M151.8 212.6h0M164.9 212.5h0M161.6 212.3h0M159.8 212.0h0M157.2 211.4h0M163.6 211.3h0M159.2 210.6h0M157.0 209.9h0M159.6 209.1h0M160.0 208.8h0" stroke="#4DBEEE" stroke-opacity="0.55" stroke-width="3.0" stroke-linecap="round"/>
<path d="M155.2 215.8h0M161.2 215.6h0M155.1 215.2h0M164.9 213.6h0M162.2 212.9h0M162.1 211.5h0M158.1 211.2h0M161.8 210.9h0M157.4 210.8h0M158.1 209.6h0" stroke="#4DBEEE" stroke-opacity="0.55" stroke-width="3.0" stroke-linecap="round"/>
<path d="M162.3 215.4h0M155.5 215.3h0M163.9 214.8h0M154.6 213.4h0M158.2 213.3h0M167.1 213.2h0M161.2 211.8h0M159.2 211.7h0" stroke="#4DBEEE" stroke-opacity="0.55" stroke-width="3.0" stroke-linecap="round"/>
<path d="M179.1 214.1h0M177.8 208.9h0M178.8 203.8h0M176.0 200.7h0M174.7 198.2h0M182.8 194.8h0M179.2 193.6h0M179.0 193.0h0M177.2 191.5h0M184.9 190.5h0M180.4 188.4h0M171.8 187.7h0M177.6 186.8h0M181.3 186.5h0M172.9 186.2h0M182.3 185.4h0M181.0 184.0h0M181.6 182.0h0M177.4 181.8h0" stroke="#DD6410" stroke-opacity="0.55" stroke-width="3.0" stroke-linecap="round"/>
<path d="M179.3 212.1h0M178.3 197.3h0M175.2 196.4h0M176.2 195.4h0M180.9 192.6h0M173.5 191.2h0M173.9 190.3h0M176.2 188.8h0M176.1 188.6h0M174.9 188.0h0M184.3 187.8h0M176.9 187.4h0M177.2 187.0h0M176.9 186.6h0M177.1 186.1h0M176.6 185.0h0M180.0 182.5h0M178.6 182.3h0M178.9 181.1h0M181.7 180.6h0M178.9 180.0h0M176.7 179.7h0" stroke="#DD6410" stroke-opacity="0.55" stroke-width="3.0" stroke-linecap="round"/>
<path d="M178.0 211.6h0M178.2 206.3h0M175.2 197.5h0M181.5 196.6h0M173.0 193.3h0M181.2 192.9h0M175.4 192.4h0M180.0 191.8h0M182.9 191.1h0M181.5 190.9h0M179.7 189.5h0M179.7 189.1h0M185.5 187.6h0M178.0 185.6h0M182.7 184.3h0M181.4 183.3h0M178.4 183.1h0M177.1 177.2h0" stroke="#DD6410" stroke-opacity="0.55" stroke-width="3.0" stroke-linecap="round"/>
<path d="M177.2 213.0h0M177.7 208.3h0M180.3 199.1h0M179.7 196.1h0M179.6 195.7h0M172.7 194.5h0M171.0 192.1h0M178.6 191.9h0M181.0 189.8h0M186.0 188.5h0M180.1 182.9h0M173.4 181.5h0" stroke="#DD6410" stroke-opacity="0.55" stroke-width="3.0" stroke-linecap="round"/>
<path d="M178.5 215.2h0M179.2 206.9h0M176.8 205.1h0M177.9 197.8h0M175.0 195.2h0M176.0 193.9h0M176.4 193.3h0M184.4 190.7h0M176.5 190.1h0M185.5 189.7h0M179.5 189.3h0M171.0 189.2h0M173.8 188.9h0M172.7 188.1h0M174.6 186.4h0M177.3 185.8h0M172.4 185.2h0M182.0 184.7h0M175.9 184.5h0M172.1 183.9h0" stroke="#DD6410" stroke-opacity="0.55" stroke-width="3.0" stroke-linecap="round"/>
<path d="M177.3 210.3h0M178.1 203.0h0M179.3 201.6h0M180.7 198.5h0M174.7 197.0h0M175.2 194.3h0M178.0 192.4h0M185.0 191.5h0M184.9 190.2h0M181.8 188.2h0M176.3 187.2h0M178.3 187.1h0M171.8 186.0h0M176.7 183.5h0M183.6 182.6h0M176.0 181.3h0M180.7 178.6h0M177.7 178.0h0" stroke="#DD6410" stroke-opacity="0.55" stroke-width="3.0" stroke-linecap="round"/>
<path d="M194.9 202.5h0M199.2 204.3h0M193.4 207.6h0" stroke="#4DBEEE" stroke-opacity="0.55" stroke-width="3.0" stroke-linecap="round"/>
<path d="M196.7 203.0h0" stroke="#4DBEEE" stroke-opacity="0.55" stroke-width="3.0" stroke-linecap="round"/>
<path d="M198.5 199.7h0M199.6 207.0h0M200.3 205.9h0" stroke="#4DBEEE" stroke-opacity="0.55" stroke-width="3.0" stroke-linecap="round"/>
<path d="M197.4 204.5h0M201.4 204.9h0M188.6 204.5h0" stroke="#4DBEEE" stroke-opacity="0.55" stroke-width="3.0" stroke-linecap="round"/>
<path d="M216.3 211.2h0M217.3 210.4h0M216.2 208.5h0M213.8 203.7h0M212.6 185.3h0M213.1 181.7h0M215.3 175.3h0M212.8 172.4h0M222.0 171.1h0M222.2 170.7h0M207.6 168.9h0M209.6 166.2h0M223.5 164.9h0M221.0 164.4h0M215.5 161.3h0M210.6 158.9h0M213.7 158.0h0M218.4 157.9h0M213.5 152.9h0" stroke="#77AC30" stroke-opacity="0.55" stroke-width="3.0" stroke-linecap="round"/>
<path d="M215.4 214.9h0M214.9 214.1h0M214.9 212.2h0M214.4 200.2h0M213.0 185.7h0M214.4 182.5h0M219.4 179.6h0M212.6 179.3h0M214.4 177.2h0M221.2 173.9h0M215.2 171.5h0M213.3 170.5h0M218.2 169.8h0M219.5 168.5h0M214.5 161.9h0" stroke="#77AC30" stroke-opacity="0.55" stroke-width="3.0" stroke-linecap="round"/>
<path d="M215.5 208.8h0M216.3 204.5h0M215.5 172.7h0M212.5 166.9h0M214.3 166.0h0M209.8 161.6h0M213.0 160.7h0M218.6 158.4h0M218.7 157.4h0M214.3 154.0h0" stroke="#77AC30" stroke-opacity="0.55" stroke-width="3.0" stroke-linecap="round"/>
<path d="M216.7 207.1h0M216.4 205.3h0M216.7 194.5h0M214.8 193.5h0M216.7 184.3h0M215.2 183.8h0M219.6 177.6h0M218.9 176.5h0M216.7 175.5h0M220.1 174.4h0M220.1 168.7h0M213.8 168.3h0M211.5 168.0h0M221.0 167.4h0M215.5 165.8h0M211.4 162.6h0M209.5 162.3h0M211.4 159.4h0M217.2 152.4h0" stroke="#77AC30" stroke-opacity="0.55" stroke-width="3.0" stroke-linecap="round"/>
<path d="M214.5 198.8h0M217.6 191.9h0M216.3 189.7h0M217.5 188.4h0M215.5 181.3h0M220.5 178.5h0M219.7 174.9h0M208.8 173.2h0M214.6 172.0h0M212.3 170.2h0M219.2 169.1h0M216.4 167.8h0M212.3 167.5h0M217.2 167.2h0M214.9 165.0h0M214.5 164.6h0M214.0 164.0h0M219.0 160.9h0M211.7 157.1h0M218.4 156.7h0M220.2 156.2h0" stroke="#77AC30" stroke-opacity="0.55" stroke-width="3.0" stroke-linecap="round"/>
<path d="M217.1 201.9h0M215.7 198.0h0M216.0 196.5h0M215.6 187.3h0M215.3 183.1h0M213.5 180.6h0M211.7 174.2h0M209.2 173.4h0M215.4 171.9h0M210.9 169.6h0M214.1 169.3h0M220.8 166.6h0M217.5 166.4h0M223.0 165.6h0M212.8 165.3h0M209.2 164.2h0M210.6 163.8h0M221.8 163.5h0M216.5 163.0h0M211.1 160.2h0M213.8 160.0h0M220.1 159.1h0M216.3 155.8h0M217.0 155.3h0M217.4 151.3h0" stroke="#77AC30" stroke-opacity="0.55" stroke-width="3.0" stroke-linecap="round"/>
<path d="M253.9 212.2h0M257.0 210.6h0M249.5 208.7h0M260.5 207.2h0M250.4 205.6h0M258.0 205.3h0M249.7 204.9h0M252.1 204.0h0M259.5 203.4h0M250.1 203.3h0M254.5 197.8h0M253.5 195.0h0" stroke="#4DBEEE" stroke-opacity="0.55" stroke-width="3.0" stroke-linecap="round"/>
<path d="M257.3 210.3h0M252.4 210.0h0M255.9 209.8h0M258.9 209.3h0M259.3 208.1h0M248.3 207.8h0M257.3 207.1h0M249.5 207.0h0M253.5 207.0h0M245.6 206.7h0M254.8 206.5h0M250.4 206.0h0M253.9 205.6h0M249.6 204.3h0M249.3 203.6h0M257.9 203.5h0M252.8 194.2h0M252.8 192.5h0" stroke="#4DBEEE" stroke-opacity="0.55" stroke-width="3.0" stroke-linecap="round"/>
<path d="M256.1 211.1h0M257.8 210.4h0M255.3 209.0h0M249.9 208.9h0M248.0 208.2h0M250.7 207.8h0M251.8 206.8h0M245.4 206.0h0M250.6 205.1h0M250.5 204.5h0M249.9 202.7h0M258.2 202.2h0M254.2 196.2h0M253.2 188.1h0" stroke="#4DBEEE" stroke-opacity="0.55" stroke-width="3.0" stroke-linecap="round"/>
<path d="M251.9 213.3h0M252.7 212.9h0M252.7 211.8h0M249.7 211.2h0M252.5 210.8h0M249.9 209.6h0M248.4 209.2h0M258.9 207.4h0M249.5 206.4h0M245.3 206.3h0M260.6 206.2h0M251.7 205.7h0M249.2 205.5h0M252.1 204.4h0M258.5 204.2h0M252.8 203.9h0M258.1 203.7h0M257.1 203.0h0M248.2 202.6h0M257.4 202.0h0M254.2 201.8h0M252.7 201.6h0M257.2 201.0h0M254.8 200.8h0" stroke="#4DBEEE" stroke-opacity="0.55" stroke-width="3.0" stroke-linecap="round"/>
<path d="M251.1 210.9h0M257.2 209.6h0M248.9 207.6h0M247.8 206.8h0M249.7 205.2h0M253.2 205.0h0M256.9 204.8h0M248.8 203.2h0M254.8 201.3h0M254.8 200.7h0M254.8 200.5h0M251.8 198.4h0M253.2 191.1h0M253.2 182.8h0" stroke="#4DBEEE" stroke-opacity="0.55" stroke-width="3.0" stroke-linecap="round"/>
<path d="M248.3 208.5h0M259.5 208.4h0M260.8 207.5h0M247.0 207.5h0M250.2 207.3h0M256.3 206.6h0M247.1 206.1h0M251.4 205.8h0M246.7 204.6h0M251.1 204.0h0M250.9 202.9h0M254.6 202.3h0M257.9 201.5h0M250.7 200.3h0M251.9 199.8h0" stroke="#4DBEEE" stroke-opacity="0.55" stroke-width="3.0" stroke-linecap="round"/>
<path d="M270.7 207.3h0M275.4 199.2h0M278.3 198.1h0M278.3 196.8h0M279.3 196.5h0M266.5 195.2h0M268.2 195.1h0M275.4 194.6h0M272.0 192.7h0M272.4 188.1h0M269.8 187.7h0M270.9 186.8h0M271.5 181.5h0" stroke="#DD6410" stroke-opacity="0.55" stroke-width="3.0" stroke-linecap="round"/>
<path d="M269.9 210.2h0M270.4 207.1h0M267.4 206.3h0M274.6 205.3h0M271.0 204.4h0M267.6 203.8h0M267.8 203.6h0M275.6 200.7h0M278.8 198.9h0M277.3 198.6h0M269.6 198.3h0M266.9 197.7h0M269.4 189.1h0M271.2 187.3h0M270.6 185.9h0M271.5 180.5h0M272.3 177.8h0" stroke="#DD6410" stroke-opacity="0.55" stroke-width="3.0" stroke-linecap="round"/>
<path d="M270.1 210.9h0M271.4 208.4h0M275.0 208.3h0M274.9 206.5h0M277.1 206.0h0M271.8 205.8h0M270.4 205.5h0M277.4 203.4h0M273.9 201.8h0M268.3 201.6h0M279.5 200.5h0M269.0 199.5h0M275.5 197.9h0M274.6 196.6h0M270.8 192.1h0M270.9 190.9h0" stroke="#DD6410" stroke-opacity="0.55" stroke-width="3.0" stroke-linecap="round"/>
<path d="M270.0 211.1h0M268.2 207.7h0M271.6 206.9h0M275.0 204.6h0M276.3 202.8h0M279.9 202.2h0M268.1 201.5h0M272.2 199.3h0M279.4 198.8h0M279.3 197.7h0M268.1 197.4h0M275.1 197.1h0M265.6 196.3h0M265.4 196.1h0M273.1 194.9h0M276.3 193.6h0M274.8 192.9h0M269.5 191.6h0M269.7 190.0h0M272.0 184.9h0" stroke="#DD6410" stroke-opacity="0.55" stroke-width="3.0" stroke-linecap="round"/>
<path d="M275.1 209.1h0M273.9 207.9h0M269.2 205.0h0M271.8 204.1h0M270.9 203.0h0M273.8 201.1h0M266.6 200.3h0M273.9 199.9h0M271.7 193.8h0M270.3 191.4h0M271.0 190.4h0M271.9 189.5h0" stroke="#DD6410" stroke-opacity="0.55" stroke-width="3.0" stroke-linecap="round"/>
<path d="M273.2 203.1h0M278.4 202.6h0M266.8 202.4h0M264.4 202.0h0M272.0 201.3h0M271.1 200.9h0M267.8 200.1h0M270.6 199.7h0M274.9 197.2h0M267.8 195.9h0M273.2 195.7h0M271.1 195.5h0M270.9 194.8h0M274.5 188.6h0" stroke="#DD6410" stroke-opacity="0.55" stroke-width="3.0" stroke-linecap="round"/>
<path d="M288.3 207.4h0M296.5 206.3h0M296.8 204.8h0M295.6 204.7h0M294.6 203.2h0M284.4 203.1h0M297.4 200.8h0M285.4 199.9h0M286.3 199.4h0M287.0 198.7h0M293.1 195.0h0M293.8 193.8h0M288.5 191.9h0M291.1 188.9h0" stroke="#4DBEEE" stroke-opacity="0.55" stroke-width="3.0" stroke-linecap="round"/>
<path d="M291.9 209.9h0M289.8 208.8h0M291.9 208.0h0M295.9 206.9h0M285.0 205.0h0M292.0 200.1h0M291.4 199.7h0M292.1 198.3h0M288.6 198.0h0M287.3 195.9h0M290.0 192.4h0M292.3 191.0h0M291.6 186.8h0" stroke="#4DBEEE" stroke-opacity="0.55" stroke-width="3.0" stroke-linecap="round"/>
<path d="M290.1 211.9h0M294.2 206.2h0M286.5 205.5h0M292.1 203.7h0M288.8 202.9h0M286.7 201.7h0M285.2 201.5h0M285.4 200.3h0M295.5 198.8h0M291.5 198.4h0M288.7 197.5h0M293.3 197.3h0M289.0 193.0h0M289.4 191.2h0" stroke="#4DBEEE" stroke-opacity="0.55" stroke-width="3.0" stroke-linecap="round"/>
<path d="M289.4 208.5h0M287.7 205.3h0M286.4 204.0h0M298.0 203.5h0M288.8 202.3h0M285.7 202.1h0M288.3 201.3h0M286.8 201.2h0M291.1 200.9h0M298.3 200.6h0M296.7 197.9h0M293.4 196.3h0M288.8 193.7h0M291.2 183.0h0" stroke="#4DBEEE" stroke-opacity="0.55" stroke-width="3.0" stroke-linecap="round"/>
<path d="M286.6 208.4h0M293.6 207.3h0M292.9 205.8h0M291.4 204.3h0M295.1 203.9h0M287.3 201.9h0M293.7 200.1h0M288.8 199.3h0M288.3 199.0h0M288.7 197.7h0M287.4 195.5h0M289.7 190.6h0" stroke="#4DBEEE" stroke-opacity="0.55" stroke-width="3.0" stroke-linecap="round"/>
<path d="M290.0 211.3h0M288.9 210.4h0M294.7 209.4h0M287.1 209.1h0M296.2 207.8h0M288.0 206.7h0M284.6 204.5h0M292.2 202.7h0M297.7 202.5h0M290.8 196.7h0M289.9 194.4h0M293.4 192.6h0M291.1 184.4h0" stroke="#4DBEEE" stroke-opacity="0.55" stroke-width="3.0" stroke-linecap="round"/>
<path d="M308.5 209.0h0M309.6 204.7h0M309.9 202.6h0M306.1 200.8h0M312.2 191.2h0M303.8 188.5h0M308.1 185.0h0M313.4 182.0h0M309.7 180.5h0M308.7 180.1h0M307.4 179.8h0M302.4 178.8h0M317.4 177.9h0M306.2 176.6h0M306.2 175.4h0M305.4 172.1h0M311.4 168.4h0M313.4 168.0h0M308.9 158.2h0M310.0 154.1h0" stroke="#77AC30" stroke-opacity="0.55" stroke-width="3.0" stroke-linecap="round"/>
<path d="M308.6 212.1h0M309.4 210.5h0M309.3 202.2h0M315.0 188.8h0M305.9 187.0h0M302.8 184.6h0M314.7 182.9h0M317.1 178.6h0M309.5 178.3h0M304.9 178.2h0M302.7 176.4h0M309.7 174.3h0M306.8 174.0h0M307.1 170.5h0M312.3 166.9h0M307.0 165.6h0" stroke="#77AC30" stroke-opacity="0.55" stroke-width="3.0" stroke-linecap="round"/>
<path d="M308.3 207.0h0M308.4 203.4h0M312.3 200.5h0M308.5 199.5h0M309.0 198.6h0M309.6 196.7h0M309.5 193.9h0M306.1 192.7h0M310.1 192.1h0M308.4 189.5h0M314.5 186.0h0M305.5 180.4h0M308.2 179.6h0M307.7 177.5h0M315.9 177.3h0M308.4 169.1h0M307.5 167.5h0M312.5 165.2h0M308.8 164.8h0M307.2 162.5h0M309.6 155.4h0" stroke="#77AC30" stroke-opacity="0.55" stroke-width="3.0" stroke-linecap="round"/>
<path d="M310.6 207.8h0M312.0 204.0h0M312.5 198.1h0M307.1 197.4h0M312.3 195.7h0M308.1 189.2h0M304.3 187.1h0M314.4 185.7h0M309.6 181.9h0M316.3 181.4h0M301.5 179.4h0M305.0 176.9h0M315.2 176.3h0M309.6 175.4h0M310.2 174.9h0M305.5 170.1h0M308.6 169.5h0M308.2 166.5h0M309.0 166.2h0M310.5 160.2h0" stroke="#77AC30" stroke-opacity="0.55" stroke-width="3.0" stroke-linecap="round"/>
<path d="M307.8 205.3h0M306.6 201.8h0M311.2 199.3h0M305.4 194.8h0M310.6 193.1h0M311.7 191.5h0M307.4 189.9h0M311.5 184.0h0M302.0 182.6h0M302.3 180.7h0M309.3 179.2h0M309.3 177.8h0M308.7 177.7h0M303.7 177.1h0M309.5 176.1h0" stroke="#77AC30" stroke-opacity="0.55" stroke-width="3.0" stroke-linecap="round"/>
<path d="M310.0 205.5h0M310.1 196.2h0M308.4 194.2h0M306.7 190.6h0M309.0 190.5h0M315.2 188.1h0M303.9 187.7h0M306.9 186.5h0M315.7 185.3h0M315.6 183.8h0M303.8 183.4h0M315.8 181.0h0M302.5 179.9h0M316.3 179.0h0M311.3 175.9h0M315.7 175.7h0M306.0 173.2h0M307.8 172.9h0M312.8 172.4h0M315.8 171.5h0M306.6 170.9h0M311.0 164.3h0" stroke="#77AC30" stroke-opacity="0.55" stroke-width="3.0" stroke-linecap="round"/>
<path d="M65 132.1H102.6" stroke="#555" stroke-width="1"/>
<text transform="translate(83.8 131.2) scale(0.96 1.2)" text-anchor="middle" class="s">ns</text>
<path d="M83.8 140.2H121.4" stroke="#555" stroke-width="1"/>
<text transform="translate(102.6 139.3) scale(0.96 1.2)" text-anchor="middle" class="s">ns</text>
<path d="M65 148H83.8" stroke="#555" stroke-width="1"/>
<text transform="translate(74.4 147.1) scale(0.96 1.2)" text-anchor="middle" class="s">ns</text>
<path d="M102.6 148H121.4" stroke="#555" stroke-width="1"/>
<text x="112" y="150" text-anchor="middle" class="s">***</text>
<path d="M158.6 132.1H196.2" stroke="#555" stroke-width="1"/>
<text transform="translate(177.4 131.2) scale(0.96 1.2)" text-anchor="middle" class="s">ns</text>
<path d="M177.4 140.2H215" stroke="#555" stroke-width="1"/>
<text x="196.2" y="142.2" text-anchor="middle" class="s">**</text>
<path d="M158.6 148H177.4" stroke="#555" stroke-width="1"/>
<text x="168" y="150" text-anchor="middle" class="s">***</text>
<path d="M196.2 148H215" stroke="#555" stroke-width="1"/>
<text x="205.6" y="150" text-anchor="middle" class="s">**</text>
<path d="M252.4 132.1H290" stroke="#555" stroke-width="1"/>
<text transform="translate(271.2 131.2) scale(0.96 1.2)" text-anchor="middle" class="s">ns</text>
<path d="M271.2 140.2H308.8" stroke="#555" stroke-width="1"/>
<text x="290" y="142.2" text-anchor="middle" class="s">***</text>
<path d="M252.4 148H271.2" stroke="#555" stroke-width="1"/>
<text x="261.8" y="150" text-anchor="middle" class="s">**</text>
<path d="M290 148H308.8" stroke="#555" stroke-width="1"/>
<text x="299.4" y="150" text-anchor="middle" class="s">***</text>
<path d="M46.5 249.9V327.9H328.5" fill="none" stroke="#c2c2c2" stroke-width="1"/>
<path d="M46.5 327.9h3" stroke="#c2c2c2" stroke-width="1"/>
<text x="43.3" y="331.4" text-anchor="end" class="k">0</text>
<path d="M46.5 302h3" stroke="#c2c2c2" stroke-width="1"/>
<text x="43.3" y="305.5" text-anchor="end" class="k">10</text>
<path d="M46.5 276.1h3" stroke="#c2c2c2" stroke-width="1"/>
<text x="43.3" y="279.6" text-anchor="end" class="k">20</text>
<path d="M46.5 250.2h3" stroke="#c2c2c2" stroke-width="1"/>
<text x="43.3" y="253.7" text-anchor="end" class="k">30</text>
<path d="M74.7 327.9v-2.5" stroke="#c2c2c2" stroke-width="1"/>
<text x="74.7" y="340.3" text-anchor="middle" class="k">3</text>
<path d="M112.3 327.9v-2.5" stroke="#c2c2c2" stroke-width="1"/>
<text x="112.3" y="340.3" text-anchor="middle" class="k">4</text>
<path d="M168.7 327.9v-2.5" stroke="#c2c2c2" stroke-width="1"/>
<text x="168.7" y="340.3" text-anchor="middle" class="k">3</text>
<path d="M206.3 327.9v-2.5" stroke="#c2c2c2" stroke-width="1"/>
<text x="206.3" y="340.3" text-anchor="middle" class="k">4</text>
<path d="M262.7 327.9v-2.5" stroke="#c2c2c2" stroke-width="1"/>
<text x="262.7" y="340.3" text-anchor="middle" class="k">3</text>
<path d="M300.3 327.9v-2.5" stroke="#c2c2c2" stroke-width="1"/>
<text x="300.3" y="340.3" text-anchor="middle" class="k">4</text>
<text transform="translate(29.1 288.9) rotate(-90)" text-anchor="middle" class="t">FAD intensity (counts)</text>
<path d="M64.3 305.2h0M63.2 309.3h0M68.7 309.6h0M65.5 321.6h0M67.6 321.6h0M69.0 321.9h0M71.9 319.5h0" stroke="#4DBEEE" stroke-opacity="0.55" stroke-width="3.0" stroke-linecap="round"/>
<path d="M62.0 315.1h0M59.7 322.4h0M66.7 322.7h0" stroke="#4DBEEE" stroke-opacity="0.55" stroke-width="3.0" stroke-linecap="round"/>
<path d="M60.5 321.0h0M62.9 323.6h0" stroke="#4DBEEE" stroke-opacity="0.55" stroke-width="3.0" stroke-linecap="round"/>
<path d="M71.9 322.7h0" stroke="#4DBEEE" stroke-opacity="0.55" stroke-width="3.0" stroke-linecap="round"/>
<path d="M64.9 307.8h0M62.6 318.9h0M63.8 321.0h0" stroke="#4DBEEE" stroke-opacity="0.55" stroke-width="3.0" stroke-linecap="round"/>
<path d="M67.0 311.9h0M68.1 313.7h0M66.4 318.1h0M58.5 320.7h0M73.1 321.9h0" stroke="#4DBEEE" stroke-opacity="0.55" stroke-width="3.0" stroke-linecap="round"/>
<path d="M79.5 300.5h0M91.2 302.6h0" stroke="#DD6410" stroke-opacity="0.55" stroke-width="3.0" stroke-linecap="round"/>
<path d="M80.7 302.3h0M91.5 304.1h0M87.1 305.2h0M84.2 312.2h0" stroke="#DD6410" stroke-opacity="0.55" stroke-width="3.0" stroke-linecap="round"/>
<path d="M88.0 300.0h0M84.5 310.5h0" stroke="#DD6410" stroke-opacity="0.55" stroke-width="3.0" stroke-linecap="round"/>
<path d="M87.4 302.6h0M84.8 307.6h0M83.9 309.0h0" stroke="#DD6410" stroke-opacity="0.55" stroke-width="3.0" stroke-linecap="round"/>
<path d="M81.6 303.8h0M76.0 303.8h0M77.8 304.9h0M86.5 307.0h0M85.7 313.4h0" stroke="#DD6410" stroke-opacity="0.55" stroke-width="3.0" stroke-linecap="round"/>
<path d="M102.1 321.6h0M104.8 320.5h0M105.9 318.9h0M106.2 318.7h0M105.5 316.1h0M100.8 315.4h0M102.8 315.0h0M103.7 314.0h0M105.2 313.3h0M101.3 313.2h0M108.8 312.5h0M94.9 312.4h0M105.1 312.2h0M101.1 312.0h0M100.0 310.7h0M108.3 310.2h0M109.2 309.8h0M106.3 309.1h0M100.1 308.8h0M99.5 308.4h0M99.6 305.7h0M104.4 305.2h0M99.4 304.8h0M100.7 303.3h0M101.1 302.6h0M104.9 302.0h0M103.7 300.9h0M103.1 299.4h0" stroke="#4DBEEE" stroke-opacity="0.55" stroke-width="3.0" stroke-linecap="round"/>
<path d="M104.4 319.1h0M104.6 318.1h0M106.4 317.9h0M100.9 317.6h0M107.9 317.2h0M104.3 317.0h0M100.2 316.5h0M101.3 315.9h0M107.5 315.9h0M101.1 315.0h0M109.5 314.8h0M108.2 314.5h0M102.1 314.4h0M110.2 313.6h0M108.3 312.9h0M109.8 312.6h0M108.8 311.4h0M100.4 311.0h0M110.3 310.8h0M108.9 310.8h0M100.8 310.3h0M108.8 310.0h0M99.4 308.5h0M102.2 308.1h0M107.0 308.1h0M103.7 306.5h0M101.1 305.0h0M101.0 304.3h0M101.9 303.1h0M102.5 302.4h0M103.4 298.6h0M102.4 294.6h0M102.5 291.9h0" stroke="#4DBEEE" stroke-opacity="0.55" stroke-width="3.0" stroke-linecap="round"/>
<path d="M101.6 319.6h0M103.2 318.4h0M99.4 317.7h0M102.4 317.2h0M108.6 316.6h0M96.6 316.4h0M104.2 315.3h0M96.2 314.6h0M110.3 314.3h0M109.1 313.8h0M106.9 312.9h0M107.6 312.6h0M105.0 311.7h0M109.5 311.6h0M103.5 311.2h0M96.7 309.9h0M106.4 308.2h0M104.9 307.9h0M106.2 307.7h0M101.4 307.0h0M105.8 306.1h0M104.9 305.3h0M101.3 303.9h0M101.8 301.3h0M102.5 300.8h0" stroke="#4DBEEE" stroke-opacity="0.55" stroke-width="3.0" stroke-linecap="round"/>
<path d="M102.1 320.6h0M101.3 320.0h0M97.6 316.2h0M107.1 314.2h0M100.8 314.1h0M101.2 313.5h0M98.7 311.7h0M100.7 311.4h0M109.9 310.4h0M107.4 310.1h0M110.0 309.7h0M99.1 309.6h0M104.8 309.5h0M104.4 309.3h0M107.0 307.8h0M105.5 306.3h0M101.2 305.8h0M99.3 304.5h0M100.4 302.8h0" stroke="#4DBEEE" stroke-opacity="0.55" stroke-width="3.0" stroke-linecap="round"/>
<path d="M103.8 321.1h0M102.1 318.3h0M105.1 317.8h0M108.2 316.8h0M103.4 315.7h0M105.6 315.6h0M105.8 315.2h0M108.5 314.0h0M106.3 313.8h0M100.9 313.4h0M104.0 312.7h0M100.1 312.2h0M109.1 312.0h0M105.8 310.5h0M97.0 309.4h0M105.8 309.2h0M107.8 309.0h0M96.7 308.6h0M99.8 303.5h0M104.9 302.2h0M102.4 301.7h0M103.1 296.8h0" stroke="#4DBEEE" stroke-opacity="0.55" stroke-width="3.0" stroke-linecap="round"/>
<path d="M101.0 318.6h0M100.2 318.0h0M101.1 317.4h0M101.6 316.7h0M108.1 314.9h0M100.6 314.7h0M104.2 313.7h0M106.3 313.2h0M103.4 313.0h0M94.9 312.3h0M106.9 311.9h0M102.6 311.3h0M102.6 311.0h0M97.7 308.8h0M107.1 308.7h0M107.3 307.6h0M100.4 307.3h0M104.2 306.9h0M100.9 303.7h0M101.0 301.4h0M103.4 295.3h0M102.7 292.3h0" stroke="#4DBEEE" stroke-opacity="0.55" stroke-width="3.0" stroke-linecap="round"/>
<path d="M120.3 270.2h0M126.2 301.1h0M122.5 309.9h0M123.5 312.9h0" stroke="#77AC30" stroke-opacity="0.55" stroke-width="3.0" stroke-linecap="round"/>
<path d="M121.7 272.4h0M120.6 281.8h0M119.3 290.4h0M128.9 300.0h0M123.5 303.2h0M124.6 304.5h0" stroke="#77AC30" stroke-opacity="0.55" stroke-width="3.0" stroke-linecap="round"/>
<path d="M118.2 280.7h0M116.4 292.7h0M120.6 293.6h0M128.4 294.7h0M123.5 299.2h0M121.9 301.6h0M116.6 308.4h0M124.6 308.4h0M122.5 318.5h0" stroke="#77AC30" stroke-opacity="0.55" stroke-width="3.0" stroke-linecap="round"/>
<path d="M120.3 273.4h0M124.1 286.1h0M125.4 289.1h0M127.3 309.9h0" stroke="#77AC30" stroke-opacity="0.55" stroke-width="3.0" stroke-linecap="round"/>
<path d="M124.9 277.7h0M121.9 285.2h0M116.6 302.2h0M125.7 314.2h0M120.3 318.2h0" stroke="#77AC30" stroke-opacity="0.55" stroke-width="3.0" stroke-linecap="round"/>
<path d="M121.4 255.5h0M120.9 261.6h0M128.4 291.2h0M121.9 293.8h0M117.4 298.4h0M114.4 301.6h0M119.8 314.5h0" stroke="#77AC30" stroke-opacity="0.55" stroke-width="3.0" stroke-linecap="round"/>
<path d="M158.4 325.5h0M157.3 324.8h0M160.6 324.4h0M156.2 323.4h0M153.7 322.7h0M153.6 321.9h0M165.3 321.8h0M151.8 321.7h0M166.5 321.5h0M152.0 320.8h0M153.7 320.2h0M153.9 320.1h0M165.0 318.9h0M158.2 318.8h0M156.1 318.5h0M161.3 318.3h0M155.4 317.4h0M156.0 316.8h0M162.3 316.1h0M159.9 315.6h0M159.9 315.1h0M158.3 314.8h0" stroke="#4DBEEE" stroke-opacity="0.55" stroke-width="3.0" stroke-linecap="round"/>
<path d="M158.8 324.1h0M156.1 324.0h0M155.4 322.3h0M157.2 322.2h0M154.4 322.0h0M156.9 321.6h0M153.0 321.1h0M163.5 320.9h0M167.1 320.5h0M161.9 317.6h0" stroke="#4DBEEE" stroke-opacity="0.55" stroke-width="3.0" stroke-linecap="round"/>
<path d="M156.6 325.1h0M158.3 324.3h0M157.9 324.0h0M161.7 323.2h0M161.6 323.1h0M163.0 323.0h0M156.9 322.5h0M156.9 322.0h0M153.4 321.4h0M158.5 320.7h0M160.5 320.3h0M163.7 320.0h0M154.5 319.7h0M154.2 319.4h0M156.4 319.1h0M152.9 318.6h0M156.5 316.5h0M158.8 315.4h0M159.3 313.2h0" stroke="#4DBEEE" stroke-opacity="0.55" stroke-width="3.0" stroke-linecap="round"/>
<path d="M158.8 325.7h0M161.2 324.2h0M156.1 322.9h0M162.3 322.8h0M161.5 322.4h0M161.8 322.1h0M165.8 322.1h0M161.9 321.8h0M154.1 321.5h0M152.4 321.4h0M163.6 321.3h0M163.7 321.2h0M157.8 321.1h0M160.0 320.6h0M162.1 320.5h0M164.9 320.4h0M165.9 319.8h0M164.3 319.3h0M155.9 318.8h0M163.1 318.4h0M159.0 318.1h0M156.9 317.8h0M160.5 315.7h0M160.6 315.3h0M159.5 312.4h0" stroke="#4DBEEE" stroke-opacity="0.55" stroke-width="3.0" stroke-linecap="round"/>
<path d="M158.8 326.0h0M163.3 323.7h0M165.9 320.9h0M163.9 320.7h0M167.2 320.4h0M156.1 320.2h0M165.1 319.9h0M156.7 319.7h0M157.8 319.0h0M160.5 318.9h0M158.3 317.9h0M160.4 317.1h0M163.3 317.0h0M157.4 315.8h0" stroke="#4DBEEE" stroke-opacity="0.55" stroke-width="3.0" stroke-linecap="round"/>
<path d="M157.6 324.6h0M156.7 323.8h0M158.8 323.6h0M157.3 323.6h0M163.5 323.4h0M161.5 322.6h0M167.4 321.2h0M159.6 321.0h0M161.6 320.0h0M155.9 319.8h0M160.0 319.6h0M166.2 319.5h0M163.2 319.4h0M158.3 319.4h0M165.1 319.2h0M163.2 319.2h0M153.6 318.7h0M159.2 317.5h0M163.0 316.7h0M158.0 316.4h0M162.4 316.1h0M159.4 310.4h0M159.3 310.1h0M159.5 308.6h0" stroke="#4DBEEE" stroke-opacity="0.55" stroke-width="3.0" stroke-linecap="round"/>
<path d="M175.7 316.1h0M177.7 315.7h0M178.7 314.9h0M180.6 314.4h0M179.6 312.6h0M175.1 309.3h0M172.0 308.7h0M174.2 306.3h0M184.5 303.7h0M172.5 302.6h0M175.1 302.5h0M180.2 300.3h0M171.7 300.1h0M172.3 297.0h0M182.0 295.1h0M175.5 293.8h0M176.3 290.9h0" stroke="#DD6410" stroke-opacity="0.55" stroke-width="3.0" stroke-linecap="round"/>
<path d="M179.7 313.5h0M176.6 313.2h0M173.5 312.4h0M174.0 310.0h0M175.9 308.1h0M177.7 307.3h0M176.5 306.5h0M183.5 305.7h0M173.3 304.3h0M181.0 303.2h0M181.7 301.1h0M182.5 299.9h0M172.7 299.7h0M185.2 299.3h0M184.6 298.5h0M172.8 296.6h0M173.3 296.1h0M175.8 293.4h0M180.2 291.9h0M179.6 291.6h0M177.2 285.2h0" stroke="#DD6410" stroke-opacity="0.55" stroke-width="3.0" stroke-linecap="round"/>
<path d="M173.6 313.1h0M176.0 311.4h0M184.6 308.4h0M175.4 306.1h0M181.4 305.0h0M173.8 304.5h0M170.7 302.1h0M181.3 300.9h0M172.1 298.7h0M180.5 298.1h0M180.8 295.9h0M180.3 289.3h0M179.7 287.5h0" stroke="#DD6410" stroke-opacity="0.55" stroke-width="3.0" stroke-linecap="round"/>
<path d="M182.0 312.1h0M174.9 311.5h0M183.6 310.2h0M175.8 309.6h0M177.0 307.7h0M170.4 306.8h0M181.5 305.4h0M182.2 305.0h0M174.4 303.9h0M183.8 301.5h0M171.4 300.5h0M173.4 299.1h0M182.5 297.8h0M181.9 293.0h0M176.7 291.1h0M179.5 290.4h0" stroke="#DD6410" stroke-opacity="0.55" stroke-width="3.0" stroke-linecap="round"/>
<path d="M182.7 309.7h0M170.7 308.5h0M172.9 307.1h0M171.4 306.9h0M173.9 305.4h0M177.5 303.4h0M184.7 303.1h0M185.0 302.2h0M180.0 301.6h0M171.7 298.3h0M175.6 297.3h0M178.4 295.5h0M179.4 294.7h0M179.0 294.3h0M177.6 292.3h0M177.9 282.7h0" stroke="#DD6410" stroke-opacity="0.55" stroke-width="3.0" stroke-linecap="round"/>
<path d="M174.5 314.2h0M176.4 312.8h0M172.8 311.8h0M172.6 311.1h0M183.6 310.8h0M184.2 310.5h0M180.9 309.1h0M182.6 307.9h0M171.8 307.6h0M185.6 305.9h0M178.6 304.8h0M176.8 304.1h0M180.1 302.9h0M173.6 302.0h0M183.2 301.3h0M176.1 300.7h0M171.3 299.4h0M179.2 298.8h0M181.6 292.7h0M177.7 285.9h0" stroke="#DD6410" stroke-opacity="0.55" stroke-width="3.0" stroke-linecap="round"/>
<path d="M198.3 312.9h0M200.3 320.8h0" stroke="#4DBEEE" stroke-opacity="0.55" stroke-width="3.0" stroke-linecap="round"/>
<path d="M190.1 319.1h0M200.7 317.5h0M198.5 320.0h0" stroke="#4DBEEE" stroke-opacity="0.55" stroke-width="3.0" stroke-linecap="round"/>
<path d="M189.9 320.6h0M197.0 318.9h0M197.0 320.8h0" stroke="#4DBEEE" stroke-opacity="0.55" stroke-width="3.0" stroke-linecap="round"/>
<path d="M194.1 318.4h0M199.2 317.1h0" stroke="#4DBEEE" stroke-opacity="0.55" stroke-width="3.0" stroke-linecap="round"/>
<path d="M216.8 317.2h0M213.9 316.0h0M217.3 311.0h0M218.7 310.0h0M217.0 308.1h0M219.9 307.0h0M219.0 306.2h0M211.1 304.5h0M217.4 300.2h0M213.4 299.3h0M209.8 296.2h0M220.5 295.1h0M222.6 290.0h0M217.2 289.5h0M211.3 288.3h0M212.6 287.6h0M216.7 285.0h0M217.6 284.2h0M220.2 282.1h0" stroke="#77AC30" stroke-opacity="0.55" stroke-width="3.0" stroke-linecap="round"/>
<path d="M214.9 314.7h0M218.9 312.8h0M213.0 309.1h0M209.9 300.8h0M211.1 300.0h0M218.7 299.7h0M216.6 298.7h0M222.3 295.4h0M218.2 293.6h0M218.4 293.1h0M218.5 292.4h0M221.7 291.5h0M222.5 288.9h0M209.2 286.3h0M219.2 286.1h0M213.9 284.7h0M217.8 280.2h0M217.6 278.6h0M213.5 275.5h0M216.5 271.9h0M214.6 270.7h0" stroke="#77AC30" stroke-opacity="0.55" stroke-width="3.0" stroke-linecap="round"/>
<path d="M214.7 318.8h0M218.8 312.1h0M215.5 311.7h0M218.6 305.0h0M209.3 301.4h0M210.1 294.0h0M214.1 279.6h0M215.6 279.2h0M218.2 277.6h0M216.4 274.2h0" stroke="#77AC30" stroke-opacity="0.55" stroke-width="3.0" stroke-linecap="round"/>
<path d="M214.1 309.5h0M212.3 308.6h0M213.6 303.3h0M210.9 302.1h0M218.2 301.2h0M220.0 300.5h0M220.2 298.0h0M221.3 297.3h0M208.2 295.8h0M223.3 294.2h0M207.5 293.4h0M208.4 292.8h0M214.1 291.8h0M223.3 290.8h0M210.3 289.7h0M222.6 289.1h0M215.7 287.9h0M211.4 286.6h0M209.1 285.4h0M219.0 282.7h0" stroke="#77AC30" stroke-opacity="0.55" stroke-width="3.0" stroke-linecap="round"/>
<path d="M214.8 310.6h0M216.3 307.6h0M220.7 305.7h0M211.5 304.2h0M212.1 298.4h0M214.4 298.1h0M221.7 296.7h0M223.6 295.9h0M213.9 294.8h0M220.5 294.6h0M207.9 292.1h0M215.2 290.6h0M213.0 287.0h0M215.4 283.3h0M216.5 282.5h0M216.6 281.6h0M219.7 281.0h0M219.5 280.8h0M216.9 278.0h0M212.9 276.5h0" stroke="#77AC30" stroke-opacity="0.55" stroke-width="3.0" stroke-linecap="round"/>
<path d="M212.0 306.7h0M210.5 303.7h0M219.2 302.4h0M215.0 301.7h0M216.1 299.1h0M221.5 297.7h0M216.8 297.0h0M212.6 291.1h0M210.6 290.4h0M216.6 288.5h0M213.0 287.4h0M216.7 283.8h0M212.0 278.8h0" stroke="#77AC30" stroke-opacity="0.55" stroke-width="3.0" stroke-linecap="round"/>
<path d="M252.0 318.6h0M250.0 313.7h0M256.8 313.6h0M246.7 311.6h0M248.8 310.4h0M259.1 309.8h0M256.5 308.7h0M248.2 308.1h0M255.1 307.3h0M257.8 306.1h0M248.7 304.8h0M249.5 303.8h0M254.3 302.7h0M254.0 299.6h0M252.0 298.7h0" stroke="#4DBEEE" stroke-opacity="0.55" stroke-width="3.0" stroke-linecap="round"/>
<path d="M254.0 318.3h0M253.6 315.9h0M256.9 315.0h0M258.3 314.7h0M251.8 314.4h0M252.1 314.1h0M251.1 311.9h0M252.8 311.0h0M259.3 309.5h0M256.1 309.2h0M247.9 307.8h0M259.1 306.3h0M255.5 305.7h0M255.2 305.2h0" stroke="#4DBEEE" stroke-opacity="0.55" stroke-width="3.0" stroke-linecap="round"/>
<path d="M252.7 317.7h0M257.9 315.6h0M255.7 314.6h0M247.3 314.0h0M255.6 312.9h0M254.2 312.6h0M253.3 312.3h0M260.7 311.4h0M252.6 310.5h0M253.3 310.0h0M256.3 307.9h0M257.3 307.6h0M258.6 306.8h0M258.6 305.5h0M250.8 301.8h0M256.4 300.8h0M250.3 300.5h0M253.8 300.2h0M253.5 299.5h0M254.6 297.5h0M253.4 295.9h0" stroke="#4DBEEE" stroke-opacity="0.55" stroke-width="3.0" stroke-linecap="round"/>
<path d="M253.6 317.0h0M258.1 313.1h0M257.3 311.7h0M260.6 311.2h0M258.2 310.2h0M249.8 309.6h0M261.2 309.3h0M261.0 309.1h0M252.9 308.6h0M247.2 308.4h0M258.6 308.2h0M246.3 307.2h0M256.8 307.1h0M248.3 306.5h0M250.2 306.5h0M249.7 304.3h0M248.4 304.0h0M256.1 300.9h0" stroke="#4DBEEE" stroke-opacity="0.55" stroke-width="3.0" stroke-linecap="round"/>
<path d="M257.0 316.5h0M254.9 316.1h0M253.4 315.4h0M252.8 315.2h0M257.7 312.5h0M253.1 311.9h0M252.5 310.9h0M259.6 310.1h0M246.1 308.5h0M252.9 306.8h0M253.6 305.9h0M252.3 303.2h0M256.2 302.5h0M252.6 302.1h0M256.2 301.4h0" stroke="#4DBEEE" stroke-opacity="0.55" stroke-width="3.0" stroke-linecap="round"/>
<path d="M253.2 313.3h0M255.8 312.1h0M258.5 311.1h0M251.7 310.6h0M257.0 308.9h0M260.3 307.5h0M258.7 305.9h0M249.1 303.3h0M252.5 295.3h0" stroke="#4DBEEE" stroke-opacity="0.55" stroke-width="3.0" stroke-linecap="round"/>
<path d="M271.6 319.4h0M272.1 318.6h0M268.4 316.0h0M268.3 315.6h0M275.6 315.3h0M274.7 313.9h0M265.0 311.8h0M264.4 311.4h0M270.3 310.5h0M272.2 309.6h0M280.4 309.4h0M265.0 309.0h0M272.7 308.2h0M265.5 306.4h0M273.6 306.0h0M269.2 305.9h0M274.1 304.6h0M273.5 299.8h0M273.2 298.9h0" stroke="#DD6410" stroke-opacity="0.55" stroke-width="3.0" stroke-linecap="round"/>
<path d="M274.2 314.9h0M275.3 311.5h0M270.3 311.3h0M275.4 310.8h0M278.1 310.1h0M270.6 308.6h0M265.8 308.5h0M267.0 308.4h0M274.8 307.6h0M267.9 307.3h0M269.7 307.2h0M270.5 306.9h0M275.1 302.0h0M269.3 301.0h0M272.3 298.5h0M271.4 295.0h0" stroke="#DD6410" stroke-opacity="0.55" stroke-width="3.0" stroke-linecap="round"/>
<path d="M275.1 313.7h0M268.0 312.0h0M276.9 311.1h0M270.2 309.8h0M269.7 309.0h0M274.8 307.8h0M268.5 307.1h0M278.1 306.2h0M276.9 305.3h0M272.1 302.5h0M269.2 301.3h0M270.2 300.2h0M272.6 299.4h0M272.9 296.2h0" stroke="#DD6410" stroke-opacity="0.55" stroke-width="3.0" stroke-linecap="round"/>
<path d="M273.3 315.8h0M273.3 315.4h0M268.0 314.8h0M271.3 314.6h0M278.1 313.0h0M278.3 312.7h0M265.2 312.4h0M275.4 312.1h0M264.9 311.0h0M269.7 310.2h0M278.6 309.2h0M271.6 308.8h0M270.7 306.8h0M273.2 305.0h0M269.5 300.6h0M272.0 292.1h0" stroke="#DD6410" stroke-opacity="0.55" stroke-width="3.0" stroke-linecap="round"/>
<path d="M272.8 317.7h0M275.1 317.0h0M274.5 316.5h0M273.4 313.3h0M268.1 313.1h0M271.0 310.7h0M271.8 310.4h0M274.9 310.0h0M275.5 307.8h0M269.9 306.6h0M269.0 302.9h0M271.9 293.4h0" stroke="#DD6410" stroke-opacity="0.55" stroke-width="3.0" stroke-linecap="round"/>
<path d="M268.6 314.3h0M274.0 314.1h0M270.2 313.5h0M273.0 312.3h0M264.4 311.7h0M265.8 309.6h0M275.6 308.0h0M264.6 307.5h0M277.0 306.3h0M271.5 305.7h0M274.0 304.2h0M276.6 303.9h0M273.4 303.4h0M269.6 301.8h0M271.6 297.7h0" stroke="#DD6410" stroke-opacity="0.55" stroke-width="3.0" stroke-linecap="round"/>
<path d="M290.8 318.7h0M287.5 312.2h0M288.8 308.9h0M286.8 308.0h0M291.8 304.9h0M286.2 304.5h0M293.8 301.3h0M295.5 301.0h0M297.5 296.3h0M293.8 295.7h0M295.2 294.1h0M289.9 290.4h0M291.7 287.3h0M291.3 286.3h0M288.9 284.4h0" stroke="#4DBEEE" stroke-opacity="0.55" stroke-width="3.0" stroke-linecap="round"/>
<path d="M292.1 317.7h0M294.4 313.5h0M291.1 313.1h0M291.1 309.9h0M293.1 307.3h0M284.7 306.9h0M297.6 305.4h0M294.2 302.9h0M283.5 300.5h0M284.0 299.0h0M287.1 294.9h0M287.7 293.1h0M293.6 289.9h0" stroke="#4DBEEE" stroke-opacity="0.55" stroke-width="3.0" stroke-linecap="round"/>
<path d="M285.3 312.6h0M293.1 311.7h0M293.9 311.4h0M290.0 308.3h0M289.9 307.8h0M283.1 306.0h0M298.3 305.7h0M294.0 303.5h0M285.0 300.8h0M284.8 298.0h0M297.9 297.1h0M294.7 296.8h0M289.6 292.7h0M290.2 291.7h0M287.4 289.2h0M289.8 283.0h0M291.0 282.4h0" stroke="#4DBEEE" stroke-opacity="0.55" stroke-width="3.0" stroke-linecap="round"/>
<path d="M287.9 317.1h0M293.7 315.8h0M288.0 314.3h0M288.0 312.9h0M291.0 310.4h0M289.4 309.7h0M289.5 309.3h0M284.4 305.2h0M288.7 303.2h0M296.1 302.7h0M292.1 302.4h0M284.9 301.9h0M293.4 301.6h0M284.4 299.5h0M291.7 298.4h0M292.5 296.0h0M293.0 295.4h0M287.1 292.3h0M295.9 291.5h0M287.7 289.1h0M292.8 288.2h0" stroke="#4DBEEE" stroke-opacity="0.55" stroke-width="3.0" stroke-linecap="round"/>
<path d="M293.8 315.2h0M288.0 313.9h0M289.0 311.0h0M296.5 310.7h0M295.7 308.6h0M287.2 304.1h0M288.3 302.1h0M292.6 300.0h0M294.2 299.4h0M293.0 298.8h0M294.2 298.3h0M297.0 297.6h0M288.3 296.5h0" stroke="#4DBEEE" stroke-opacity="0.55" stroke-width="3.0" stroke-linecap="round"/>
<path d="M295.1 314.6h0M297.5 307.4h0M289.6 306.6h0M290.4 306.3h0M287.8 304.7h0M283.5 303.8h0M297.0 300.1h0M297.3 297.3h0M292.7 293.9h0M289.8 290.8h0M288.1 288.1h0M293.1 287.0h0M292.0 280.7h0" stroke="#4DBEEE" stroke-opacity="0.55" stroke-width="3.0" stroke-linecap="round"/>
<path d="M309.1 321.0h0M308.7 314.2h0M312.4 310.2h0M314.6 301.0h0M307.3 300.5h0M304.7 299.9h0M304.7 299.2h0M309.9 297.3h0M303.5 296.9h0M305.6 295.6h0M310.6 295.4h0M312.2 295.3h0M305.2 294.8h0M312.2 292.6h0M309.8 278.8h0" stroke="#77AC30" stroke-opacity="0.55" stroke-width="3.0" stroke-linecap="round"/>
<path d="M309.3 322.0h0M310.1 317.8h0M309.7 314.6h0M308.2 308.5h0M312.7 306.2h0M304.3 301.5h0M305.5 298.2h0M310.7 297.6h0M306.6 296.6h0M313.0 296.5h0M310.8 296.2h0M316.6 293.7h0M314.2 292.9h0M304.1 290.4h0M314.3 289.0h0M313.9 286.9h0M313.3 285.9h0M310.0 277.2h0" stroke="#77AC30" stroke-opacity="0.55" stroke-width="3.0" stroke-linecap="round"/>
<path d="M310.2 319.5h0M308.2 311.0h0M309.6 309.9h0M311.1 308.0h0M311.0 302.9h0M312.6 299.1h0M317.5 297.4h0M312.7 296.0h0M305.7 294.1h0M316.1 292.4h0M307.8 292.2h0M308.5 291.8h0M310.6 291.6h0M312.4 290.1h0M311.4 282.5h0M309.6 274.8h0" stroke="#77AC30" stroke-opacity="0.55" stroke-width="3.0" stroke-linecap="round"/>
<path d="M310.4 306.4h0M309.4 305.4h0M310.4 303.6h0M303.9 301.9h0M311.7 301.2h0M311.9 300.8h0M311.2 298.9h0M314.9 298.6h0M317.5 298.4h0M301.7 295.9h0M306.7 294.6h0M302.7 293.7h0M308.8 293.2h0M305.3 292.0h0M305.1 290.8h0M315.2 289.6h0M312.8 287.6h0M310.5 281.6h0" stroke="#77AC30" stroke-opacity="0.55" stroke-width="3.0" stroke-linecap="round"/>
<path d="M312.0 311.7h0M310.6 309.0h0M313.9 304.3h0M310.9 302.0h0M314.2 300.6h0M308.4 300.0h0M314.1 297.8h0M301.9 297.0h0M305.7 293.3h0M308.5 288.4h0M309.3 288.0h0M311.2 285.4h0M307.1 285.1h0M306.4 283.9h0M309.8 283.0h0" stroke="#77AC30" stroke-opacity="0.55" stroke-width="3.0" stroke-linecap="round"/>
<path d="M308.7 316.4h0M311.3 313.5h0M309.0 313.0h0M310.3 312.3h0M311.4 307.4h0M305.0 304.5h0M306.9 301.6h0M302.9 300.3h0M306.7 299.6h0M305.7 299.4h0M316.8 298.0h0M308.6 294.9h0M313.8 294.3h0M313.1 294.3h0M310.7 292.8h0M308.5 286.6h0M309.4 284.4h0M309.1 283.3h0M308.8 281.8h0M310.4 279.7h0M309.9 273.9h0" stroke="#77AC30" stroke-opacity="0.55" stroke-width="3.0" stroke-linecap="round"/>
<path d="M65 244.5H102.6" stroke="#555" stroke-width="1"/>
<text transform="translate(83.8 243.6) scale(0.96 1.2)" text-anchor="middle" class="s">ns</text>
<path d="M83.8 252.2H121.4" stroke="#555" stroke-width="1"/>
<text transform="translate(102.6 251.3) scale(0.96 1.2)" text-anchor="middle" class="s">ns</text>
<path d="M65 260.1H83.8" stroke="#555" stroke-width="1"/>
<text x="74.4" y="262.1" text-anchor="middle" class="s">**</text>
<path d="M102.6 260.1H121.4" stroke="#555" stroke-width="1"/>
<text x="112" y="262.1" text-anchor="middle" class="s">***</text>
<path d="M158.6 244.5H196.2" stroke="#555" stroke-width="1"/>
<text transform="translate(177.4 243.6) scale(0.96 1.2)" text-anchor="middle" class="s">ns</text>
<path d="M177.4 252.2H215" stroke="#555" stroke-width="1"/>
<text x="196.2" y="254.2" text-anchor="middle" class="s">*</text>
<path d="M158.6 260.1H177.4" stroke="#555" stroke-width="1"/>
<text x="168" y="262.1" text-anchor="middle" class="s">***</text>
<path d="M196.2 260.1H215" stroke="#555" stroke-width="1"/>
<text x="205.6" y="262.1" text-anchor="middle" class="s">***</text>
<path d="M252.4 244.5H290" stroke="#555" stroke-width="1"/>
<text x="271.2" y="246.5" text-anchor="middle" class="s">**</text>
<path d="M271.2 252.2H308.8" stroke="#555" stroke-width="1"/>
<text x="290" y="254.2" text-anchor="middle" class="s">***</text>
<path d="M252.4 260.1H271.2" stroke="#555" stroke-width="1"/>
<text transform="translate(261.8 259.2) scale(0.96 1.2)" text-anchor="middle" class="s">ns</text>
<path d="M290 260.1H308.8" stroke="#555" stroke-width="1"/>
<text x="299.4" y="262.1" text-anchor="middle" class="s">*</text>
<path d="M46.5 361.8V439.3H328.5" fill="none" stroke="#c2c2c2" stroke-width="1"/>
<path d="M46.5 439.3h3" stroke="#c2c2c2" stroke-width="1"/>
<text x="43.3" y="442.8" text-anchor="end" class="k">0</text>
<path d="M46.5 409.1h3" stroke="#c2c2c2" stroke-width="1"/>
<text x="43.3" y="412.6" text-anchor="end" class="k">1</text>
<path d="M46.5 378.9h3" stroke="#c2c2c2" stroke-width="1"/>
<text x="43.3" y="382.4" text-anchor="end" class="k">2</text>
<path d="M74.7 439.3v-2.5" stroke="#c2c2c2" stroke-width="1"/>
<text x="74.7" y="451.7" text-anchor="middle" class="k">3</text>
<path d="M112.3 439.3v-2.5" stroke="#c2c2c2" stroke-width="1"/>
<text x="112.3" y="451.7" text-anchor="middle" class="k">4</text>
<path d="M168.7 439.3v-2.5" stroke="#c2c2c2" stroke-width="1"/>
<text x="168.7" y="451.7" text-anchor="middle" class="k">3</text>
<path d="M206.3 439.3v-2.5" stroke="#c2c2c2" stroke-width="1"/>
<text x="206.3" y="451.7" text-anchor="middle" class="k">4</text>
<path d="M262.7 439.3v-2.5" stroke="#c2c2c2" stroke-width="1"/>
<text x="262.7" y="451.7" text-anchor="middle" class="k">3</text>
<path d="M300.3 439.3v-2.5" stroke="#c2c2c2" stroke-width="1"/>
<text x="300.3" y="451.7" text-anchor="middle" class="k">4</text>
<text transform="translate(23.3 400.55) rotate(-90)" text-anchor="middle" class="t">NAD(P)H intensity</text>
<text transform="translate(34.8 400.55) rotate(-90)" text-anchor="middle" class="t">(counts)</text>
<path d="M66.0 438.4h0M65.3 436.7h0M59.8 436.2h0M68.1 436.0h0" stroke="#4DBEEE" stroke-opacity="0.55" stroke-width="3.0" stroke-linecap="round"/>
<path d="M70.3 437.4h0M64.3 433.4h0" stroke="#4DBEEE" stroke-opacity="0.55" stroke-width="3.0" stroke-linecap="round"/>
<path d="M67.9 437.5h0M58.0 437.1h0M61.4 434.9h0M65.7 434.4h0" stroke="#4DBEEE" stroke-opacity="0.55" stroke-width="3.0" stroke-linecap="round"/>
<path d="M72.8 437.0h0M72.3 436.6h0M63.1 436.3h0M72.2 435.7h0M58.7 435.5h0M69.5 435.5h0M60.0 434.2h0" stroke="#4DBEEE" stroke-opacity="0.55" stroke-width="3.0" stroke-linecap="round"/>
<path d="M61.7 438.0h0M72.2 436.8h0M66.2 435.1h0M70.4 434.6h0" stroke="#4DBEEE" stroke-opacity="0.55" stroke-width="3.0" stroke-linecap="round"/>
<path d="M65.9 437.9h0M70.2 437.7h0M60.0 436.5h0M72.1 435.8h0" stroke="#4DBEEE" stroke-opacity="0.55" stroke-width="3.0" stroke-linecap="round"/>
<path d="M82.9 432.1h0M86.1 431.7h0M79.6 430.9h0M86.1 429.2h0" stroke="#DD6410" stroke-opacity="0.55" stroke-width="3.0" stroke-linecap="round"/>
<path d="M84.9 434.4h0" stroke="#DD6410" stroke-opacity="0.55" stroke-width="3.0" stroke-linecap="round"/>
<path d="M88.5 434.9h0M90.7 433.1h0M81.7 432.3h0M85.6 431.3h0M81.6 429.7h0" stroke="#DD6410" stroke-opacity="0.55" stroke-width="3.0" stroke-linecap="round"/>
<path d="M86.1 433.8h0M86.9 433.4h0M87.9 428.5h0" stroke="#DD6410" stroke-opacity="0.55" stroke-width="3.0" stroke-linecap="round"/>
<path d="M89.9 431.4h0M89.1 430.1h0" stroke="#DD6410" stroke-opacity="0.55" stroke-width="3.0" stroke-linecap="round"/>
<path d="M82.0 434.1h0M86.3 432.9h0M84.5 432.7h0M80.6 432.0h0M77.4 430.6h0" stroke="#DD6410" stroke-opacity="0.55" stroke-width="3.0" stroke-linecap="round"/>
<path d="M106.2 435.6h0M105.8 434.9h0M100.1 433.4h0M101.2 432.9h0M110.0 432.7h0M108.1 432.0h0M110.6 431.8h0M98.3 431.5h0M100.4 431.2h0M94.8 431.0h0M109.0 430.8h0M105.4 430.5h0M100.1 430.3h0M97.0 429.3h0M97.8 428.8h0M102.0 428.7h0M104.1 428.3h0M98.2 428.3h0M106.7 427.2h0M100.8 426.8h0M100.4 422.9h0" stroke="#4DBEEE" stroke-opacity="0.55" stroke-width="3.0" stroke-linecap="round"/>
<path d="M103.9 436.6h0M102.4 435.8h0M103.1 434.7h0M103.4 434.6h0M98.4 434.4h0M97.5 434.2h0M98.9 433.9h0M107.5 433.4h0M106.6 433.2h0M104.0 433.0h0M101.2 432.7h0M103.8 432.5h0M109.4 432.4h0M101.2 432.2h0M106.8 432.2h0M103.8 432.1h0M107.6 431.1h0M107.0 430.4h0M95.2 429.7h0M104.3 429.5h0M102.9 427.1h0M100.7 425.9h0M101.1 425.0h0M103.1 423.9h0M104.7 422.0h0M103.6 417.9h0M103.3 415.8h0" stroke="#4DBEEE" stroke-opacity="0.55" stroke-width="3.0" stroke-linecap="round"/>
<path d="M105.1 436.1h0M106.2 434.9h0M108.3 434.1h0M102.2 433.8h0M104.4 433.6h0M104.1 433.1h0M104.1 432.3h0M106.2 431.9h0M105.3 431.7h0M107.3 431.4h0M110.7 430.8h0M103.7 430.5h0M101.5 429.9h0M97.7 429.2h0M103.4 428.0h0M102.5 427.3h0M103.9 425.5h0M99.7 424.6h0M101.7 424.1h0M102.3 423.7h0M100.8 423.3h0M103.6 422.4h0M101.2 422.3h0M102.6 414.8h0" stroke="#4DBEEE" stroke-opacity="0.55" stroke-width="3.0" stroke-linecap="round"/>
<path d="M101.0 436.5h0M100.6 436.3h0M100.7 435.9h0M99.7 435.5h0M100.5 435.3h0M104.1 435.2h0M99.2 434.5h0M105.9 434.3h0M109.6 432.4h0M108.3 431.9h0M105.4 431.6h0M105.0 431.5h0M109.2 430.9h0M107.9 430.7h0M106.1 430.2h0M104.6 430.1h0M110.8 430.0h0M96.9 429.8h0M110.1 429.4h0M99.9 429.1h0M108.5 428.9h0M100.3 427.7h0M105.8 427.4h0M106.8 425.8h0M105.0 421.7h0M101.8 420.8h0" stroke="#4DBEEE" stroke-opacity="0.55" stroke-width="3.0" stroke-linecap="round"/>
<path d="M104.5 435.4h0M105.8 433.8h0M98.9 432.6h0M98.0 431.0h0M106.7 430.6h0M98.1 430.3h0M101.5 429.9h0M105.6 429.1h0M97.4 428.2h0M99.7 427.9h0M98.7 427.8h0M101.2 427.6h0M101.2 427.5h0M107.0 426.5h0M105.9 426.1h0M100.1 424.8h0M100.2 423.0h0M103.4 421.5h0M102.9 419.7h0M103.7 418.8h0M103.2 416.8h0" stroke="#4DBEEE" stroke-opacity="0.55" stroke-width="3.0" stroke-linecap="round"/>
<path d="M103.2 436.9h0M106.1 435.0h0M106.4 433.5h0M110.7 431.7h0M101.6 431.3h0M97.4 431.2h0M97.2 429.6h0M96.2 429.0h0M106.5 428.6h0M106.8 428.5h0M109.2 428.5h0M104.8 428.1h0M101.1 427.8h0M104.3 426.4h0M102.0 425.3h0M100.9 424.3h0M100.2 423.5h0M101.8 422.6h0M101.1 421.3h0" stroke="#4DBEEE" stroke-opacity="0.55" stroke-width="3.0" stroke-linecap="round"/>
<path d="M120.3 417.2h0M127.7 425.9h0M122.3 430.8h0M126.9 429.2h0M125.4 433.1h0" stroke="#77AC30" stroke-opacity="0.55" stroke-width="3.0" stroke-linecap="round"/>
<path d="M115.7 420.0h0M115.2 423.3h0M123.3 428.2h0" stroke="#77AC30" stroke-opacity="0.55" stroke-width="3.0" stroke-linecap="round"/>
<path d="M119.8 420.8h0M129.7 421.0h0M125.4 423.3h0M123.8 424.6h0M116.7 425.6h0" stroke="#77AC30" stroke-opacity="0.55" stroke-width="3.0" stroke-linecap="round"/>
<path d="M121.8 412.9h0M118.2 422.1h0M122.3 423.6h0M120.3 429.5h0M121.8 434.6h0" stroke="#77AC30" stroke-opacity="0.55" stroke-width="3.0" stroke-linecap="round"/>
<path d="M123.8 415.4h0M124.6 415.7h0M130.5 423.3h0M125.6 427.7h0M123.6 435.6h0M118.2 431.5h0" stroke="#77AC30" stroke-opacity="0.55" stroke-width="3.0" stroke-linecap="round"/>
<path d="M119.0 413.6h0M123.1 418.5h0M121.0 427.2h0M119.0 430.5h0" stroke="#77AC30" stroke-opacity="0.55" stroke-width="3.0" stroke-linecap="round"/>
<path d="M160.0 438.7h0M154.3 438.1h0M155.6 437.0h0M156.0 436.7h0M164.4 436.6h0M164.0 436.4h0M154.3 436.0h0M152.9 436.0h0M155.6 435.9h0M153.1 435.3h0M153.9 435.1h0M162.2 435.1h0M161.0 435.1h0M155.6 435.0h0M154.2 434.7h0M163.3 433.9h0M161.2 433.3h0" stroke="#4DBEEE" stroke-opacity="0.55" stroke-width="3.0" stroke-linecap="round"/>
<path d="M159.6 438.8h0M163.8 438.5h0M154.5 438.1h0M157.0 438.0h0M154.5 437.8h0M155.9 437.7h0M160.4 437.5h0M155.5 437.2h0M163.3 437.1h0M151.8 437.1h0M159.4 437.0h0M158.9 436.6h0M158.4 436.2h0M158.0 436.1h0M160.3 435.4h0M164.4 435.3h0M152.3 435.2h0M159.9 434.4h0M157.4 433.7h0M157.6 433.5h0M156.8 433.3h0M159.4 431.8h0" stroke="#4DBEEE" stroke-opacity="0.55" stroke-width="3.0" stroke-linecap="round"/>
<path d="M163.3 438.8h0M160.2 438.4h0M158.1 438.2h0M158.0 438.2h0M163.7 437.8h0M161.0 437.7h0M154.0 437.3h0M163.6 437.3h0M153.1 437.1h0M160.6 436.9h0M157.4 436.5h0M156.6 436.4h0M166.8 436.3h0M160.3 436.3h0M162.0 436.2h0M157.8 436.0h0M153.8 435.9h0M162.4 435.8h0M153.1 435.4h0M154.6 434.3h0M156.3 434.0h0" stroke="#4DBEEE" stroke-opacity="0.55" stroke-width="3.0" stroke-linecap="round"/>
<path d="M158.5 438.3h0M155.4 438.2h0M155.0 437.9h0M163.9 437.4h0M167.5 436.8h0M165.7 436.5h0M166.9 435.7h0M153.3 435.7h0M165.1 435.6h0M154.7 435.5h0M153.7 435.2h0M164.9 434.8h0M155.8 434.7h0M161.0 434.6h0M160.9 434.2h0M157.5 433.6h0M158.8 431.2h0" stroke="#4DBEEE" stroke-opacity="0.55" stroke-width="3.0" stroke-linecap="round"/>
<path d="M155.8 438.9h0M162.1 438.3h0M159.4 438.0h0M159.2 437.6h0M157.0 437.4h0M160.5 437.2h0M156.2 436.9h0M163.0 436.7h0M166.8 436.5h0M156.6 436.4h0M160.4 436.1h0M166.6 435.8h0M157.6 435.8h0M166.3 435.5h0M156.7 434.4h0M161.6 434.1h0M159.1 429.7h0M159.3 427.3h0" stroke="#4DBEEE" stroke-opacity="0.55" stroke-width="3.0" stroke-linecap="round"/>
<path d="M156.2 438.4h0M154.4 438.1h0M162.5 437.9h0M160.8 437.8h0M158.5 437.6h0M160.5 437.6h0M165.6 437.5h0M161.2 437.5h0M161.4 436.9h0M167.2 436.8h0M157.0 435.6h0M163.6 435.5h0M158.2 434.9h0M154.9 434.5h0M157.6 434.0h0M157.3 433.8h0M158.3 433.6h0M162.0 433.4h0M159.4 428.2h0" stroke="#4DBEEE" stroke-opacity="0.55" stroke-width="3.0" stroke-linecap="round"/>
<path d="M177.8 436.6h0M176.8 434.5h0M175.8 432.9h0M181.8 430.0h0M183.4 429.8h0M185.1 429.6h0M173.7 428.4h0M171.9 427.8h0M171.3 427.4h0M178.7 427.3h0M170.5 427.1h0M185.3 426.0h0M177.2 425.5h0M173.9 425.3h0M182.7 425.2h0M177.2 424.8h0M178.4 422.4h0M177.6 421.0h0" stroke="#DD6410" stroke-opacity="0.55" stroke-width="3.0" stroke-linecap="round"/>
<path d="M176.5 434.9h0M177.2 433.3h0M180.1 431.8h0M184.5 430.1h0M180.2 428.9h0M172.8 428.2h0M177.2 427.5h0M181.4 427.0h0M178.2 426.9h0M184.7 426.5h0M184.3 426.1h0M178.2 425.0h0M177.3 423.6h0M179.9 423.4h0M182.3 423.0h0M178.6 422.8h0M174.6 422.6h0" stroke="#DD6410" stroke-opacity="0.55" stroke-width="3.0" stroke-linecap="round"/>
<path d="M176.9 436.2h0M179.8 435.4h0M179.1 434.7h0M175.2 433.8h0M175.9 433.1h0M182.2 432.6h0M181.9 432.5h0M177.8 432.3h0M172.7 431.2h0M172.0 429.9h0M175.3 429.4h0M182.2 428.6h0M180.7 428.5h0M181.5 428.3h0M178.2 428.0h0M172.7 428.0h0M186.0 427.6h0M174.8 425.8h0M175.5 425.8h0M175.4 423.1h0M180.9 421.7h0M178.9 421.2h0" stroke="#DD6410" stroke-opacity="0.55" stroke-width="3.0" stroke-linecap="round"/>
<path d="M173.6 431.7h0M172.9 431.0h0M175.3 430.1h0M177.6 429.7h0M175.5 429.5h0M177.9 429.2h0M183.2 428.8h0M179.3 426.8h0M177.1 426.6h0M183.2 424.8h0M181.1 424.6h0M183.5 424.2h0M177.6 424.0h0M174.9 422.1h0" stroke="#DD6410" stroke-opacity="0.55" stroke-width="3.0" stroke-linecap="round"/>
<path d="M177.7 435.9h0M177.6 430.6h0M171.6 430.2h0M182.0 428.7h0M172.2 428.1h0M179.6 427.8h0M170.7 427.6h0M179.3 427.2h0M177.9 427.2h0M184.6 426.7h0M176.1 426.2h0M177.7 425.9h0M183.9 425.6h0M172.4 424.3h0M182.3 423.7h0M180.4 423.3h0M178.2 395.5h0" stroke="#DD6410" stroke-opacity="0.55" stroke-width="3.0" stroke-linecap="round"/>
<path d="M178.2 434.2h0M178.4 434.1h0M180.2 433.7h0M176.0 432.0h0M181.9 431.3h0M176.1 430.8h0M180.8 429.3h0M174.7 429.2h0M178.5 429.0h0M175.2 428.9h0M180.8 426.7h0M173.0 426.5h0M177.4 426.3h0M173.1 426.2h0M174.7 423.9h0M179.1 420.5h0" stroke="#DD6410" stroke-opacity="0.55" stroke-width="3.0" stroke-linecap="round"/>
<path d="M196.9 421.2h0M199.6 428.0h0" stroke="#4DBEEE" stroke-opacity="0.55" stroke-width="3.0" stroke-linecap="round"/>
<path d="M200.0 419.4h0M194.7 422.5h0M200.3 426.7h0" stroke="#4DBEEE" stroke-opacity="0.55" stroke-width="3.0" stroke-linecap="round"/>
<path d="M189.2 424.3h0M192.3 428.0h0" stroke="#4DBEEE" stroke-opacity="0.55" stroke-width="3.0" stroke-linecap="round"/>
<path d="M198.7 425.0h0" stroke="#4DBEEE" stroke-opacity="0.55" stroke-width="3.0" stroke-linecap="round"/>
<path d="M197.0 425.0h0M201.2 426.0h0" stroke="#4DBEEE" stroke-opacity="0.55" stroke-width="3.0" stroke-linecap="round"/>
<path d="M215.8 419.0h0M215.9 416.8h0M218.0 416.5h0M217.6 415.2h0M219.9 414.4h0M216.9 413.7h0M217.0 411.4h0M208.3 410.7h0M217.7 410.5h0M221.4 409.1h0M223.6 408.7h0M208.8 407.9h0M212.5 407.6h0M219.8 407.1h0M208.3 406.6h0M215.5 406.4h0M209.4 405.2h0M213.7 404.0h0M220.3 403.5h0M210.7 401.8h0M217.6 400.9h0M213.5 399.7h0M215.8 379.8h0" stroke="#77AC30" stroke-opacity="0.55" stroke-width="3.0" stroke-linecap="round"/>
<path d="M215.2 431.9h0M214.9 430.0h0M215.9 428.7h0M215.9 427.6h0M214.5 422.8h0M214.1 419.8h0M222.4 413.9h0M212.4 412.8h0M212.8 412.5h0M214.6 410.2h0M217.3 409.7h0M208.6 407.0h0M210.7 403.3h0M212.6 400.7h0" stroke="#77AC30" stroke-opacity="0.55" stroke-width="3.0" stroke-linecap="round"/>
<path d="M216.4 434.6h0M216.3 423.5h0M212.4 420.7h0M213.2 420.2h0M210.6 416.0h0M217.3 413.0h0M217.2 412.0h0M211.2 411.4h0M217.3 410.9h0M212.1 408.4h0M208.5 405.9h0M221.9 404.5h0M219.1 403.0h0M211.1 402.2h0" stroke="#77AC30" stroke-opacity="0.55" stroke-width="3.0" stroke-linecap="round"/>
<path d="M215.4 433.7h0M216.2 424.4h0M214.6 421.5h0M220.1 414.9h0M217.0 413.4h0M222.2 409.4h0M216.4 408.1h0M216.3 407.4h0M215.4 405.8h0M220.5 405.0h0M212.0 404.8h0M209.8 403.8h0" stroke="#77AC30" stroke-opacity="0.55" stroke-width="3.0" stroke-linecap="round"/>
<path d="M217.6 428.3h0M216.9 426.9h0M216.2 424.6h0M214.2 422.0h0M215.1 416.3h0M209.7 414.1h0M221.3 412.4h0M223.7 408.9h0M219.0 408.6h0M211.2 406.2h0M212.1 405.5h0M216.0 402.7h0M215.2 402.5h0M218.3 401.6h0" stroke="#77AC30" stroke-opacity="0.55" stroke-width="3.0" stroke-linecap="round"/>
<path d="M215.8 426.1h0M213.5 425.7h0M219.4 418.2h0M217.6 417.6h0M217.9 415.7h0M218.1 415.6h0M219.3 414.6h0M222.8 411.8h0M213.8 410.3h0M210.6 409.9h0M218.6 409.6h0M216.8 407.7h0M221.8 406.8h0M217.2 404.3h0M214.8 402.0h0M215.8 400.1h0" stroke="#77AC30" stroke-opacity="0.55" stroke-width="3.0" stroke-linecap="round"/>
<path d="M255.1 436.2h0M255.5 436.0h0M255.9 435.3h0M255.6 435.0h0M250.0 432.9h0M259.2 432.7h0M254.9 432.5h0M256.6 432.2h0M249.5 432.1h0M257.8 431.9h0M256.3 431.5h0M256.1 431.3h0M249.7 431.1h0M259.2 431.0h0M250.6 430.0h0M252.9 428.9h0" stroke="#4DBEEE" stroke-opacity="0.55" stroke-width="3.0" stroke-linecap="round"/>
<path d="M255.6 435.1h0M256.7 434.9h0M248.6 434.6h0M248.8 434.4h0M259.1 434.0h0M256.8 433.3h0M252.8 433.2h0M250.3 433.0h0M257.6 432.6h0M252.7 432.2h0M257.4 432.0h0M258.5 431.6h0M253.7 431.5h0M255.4 430.4h0" stroke="#4DBEEE" stroke-opacity="0.55" stroke-width="3.0" stroke-linecap="round"/>
<path d="M255.0 436.6h0M256.3 434.7h0M249.9 434.5h0M260.0 433.9h0M250.6 433.5h0M245.7 433.5h0M255.8 433.4h0M248.7 433.4h0M260.4 433.2h0M261.3 433.1h0M251.3 431.7h0M248.6 430.7h0M250.4 430.4h0M257.7 430.2h0M256.4 430.1h0M251.6 429.3h0M254.8 429.1h0" stroke="#4DBEEE" stroke-opacity="0.55" stroke-width="3.0" stroke-linecap="round"/>
<path d="M254.0 436.7h0M251.1 435.7h0M256.5 435.6h0M251.9 435.4h0M257.3 435.2h0M252.9 434.3h0M247.7 434.2h0M254.0 434.1h0M255.9 433.8h0M248.1 433.7h0M245.2 432.9h0M258.5 432.5h0M250.2 432.2h0M255.7 431.4h0M255.6 431.2h0M247.0 431.0h0M258.3 430.9h0M255.5 429.7h0" stroke="#4DBEEE" stroke-opacity="0.55" stroke-width="3.0" stroke-linecap="round"/>
<path d="M255.8 435.5h0M257.3 434.8h0M246.3 433.6h0M252.8 433.1h0M259.6 433.0h0M256.8 433.0h0M257.0 432.8h0M245.8 432.7h0M258.4 432.4h0M251.8 432.3h0M252.3 432.0h0M248.5 431.6h0M252.8 430.6h0M249.3 430.3h0" stroke="#4DBEEE" stroke-opacity="0.55" stroke-width="3.0" stroke-linecap="round"/>
<path d="M246.7 433.8h0M258.6 433.7h0M247.3 433.6h0M260.1 432.6h0M252.8 432.3h0M251.4 432.0h0M258.0 431.9h0M258.7 431.8h0M251.2 431.8h0M253.4 430.9h0M255.2 430.8h0M254.2 430.5h0M255.9 429.9h0" stroke="#4DBEEE" stroke-opacity="0.55" stroke-width="3.0" stroke-linecap="round"/>
<path d="M271.1 437.3h0M271.4 436.0h0M269.0 435.0h0M274.8 434.3h0M274.9 433.8h0M276.2 433.5h0M266.1 432.9h0M274.2 431.7h0M267.1 431.3h0M265.5 431.2h0M266.6 430.8h0M276.2 430.7h0M267.1 430.2h0" stroke="#DD6410" stroke-opacity="0.55" stroke-width="3.0" stroke-linecap="round"/>
<path d="M270.0 436.8h0M273.1 435.5h0M270.8 435.4h0M269.1 434.9h0M276.7 434.0h0M279.1 433.0h0M269.3 432.1h0M276.4 431.3h0M268.9 429.8h0M268.9 429.7h0M272.1 419.1h0" stroke="#DD6410" stroke-opacity="0.55" stroke-width="3.0" stroke-linecap="round"/>
<path d="M271.3 435.9h0M268.0 435.3h0M273.0 434.5h0M265.9 433.3h0M270.8 432.3h0M267.0 431.9h0M273.3 431.7h0M279.1 431.5h0M277.8 430.9h0M270.2 429.4h0M272.0 429.2h0M271.0 428.4h0M272.5 427.6h0" stroke="#DD6410" stroke-opacity="0.55" stroke-width="3.0" stroke-linecap="round"/>
<path d="M271.6 434.7h0M267.5 434.2h0M278.6 433.8h0M278.4 433.6h0M267.0 433.6h0M266.7 433.1h0M277.1 432.9h0M268.8 432.7h0M268.1 432.7h0M269.7 432.6h0M279.9 432.3h0M275.5 432.2h0M264.4 431.6h0M272.9 431.5h0M274.5 430.4h0M275.9 429.6h0M272.6 429.5h0M272.6 428.3h0" stroke="#DD6410" stroke-opacity="0.55" stroke-width="3.0" stroke-linecap="round"/>
<path d="M272.9 436.3h0M269.4 435.7h0M274.4 434.1h0M273.5 433.7h0M275.4 433.4h0M270.0 433.3h0M269.9 432.5h0M267.5 432.4h0M268.7 432.0h0M275.7 431.5h0M279.0 431.2h0M272.2 431.1h0M268.1 431.0h0M268.3 430.6h0M275.2 430.3h0M268.2 430.0h0M268.4 429.9h0" stroke="#DD6410" stroke-opacity="0.55" stroke-width="3.0" stroke-linecap="round"/>
<path d="M273.5 437.1h0M274.0 436.5h0M273.3 436.1h0M269.6 435.8h0M269.1 435.1h0M276.4 434.6h0M275.2 433.4h0M274.8 433.1h0M269.2 433.0h0M271.7 432.8h0M267.6 432.4h0M274.1 432.2h0M279.3 432.1h0M264.6 431.9h0M268.2 431.9h0M264.9 431.8h0M279.3 431.6h0M272.6 431.4h0M273.9 430.5h0M271.9 430.1h0M269.6 428.9h0" stroke="#DD6410" stroke-opacity="0.55" stroke-width="3.0" stroke-linecap="round"/>
<path d="M290.1 434.5h0M286.9 432.6h0M295.0 432.1h0M289.1 432.0h0M294.0 431.2h0M296.0 430.3h0M291.4 430.0h0M283.0 428.1h0M294.1 427.8h0M285.0 425.2h0M287.7 425.2h0M286.4 425.0h0M293.6 423.8h0M292.4 423.6h0M288.3 423.1h0M290.1 422.8h0" stroke="#4DBEEE" stroke-opacity="0.55" stroke-width="3.0" stroke-linecap="round"/>
<path d="M289.6 429.5h0M287.8 427.5h0M287.9 425.8h0M290.3 422.6h0" stroke="#4DBEEE" stroke-opacity="0.55" stroke-width="3.0" stroke-linecap="round"/>
<path d="M291.2 433.9h0M289.3 430.5h0M296.1 429.6h0M286.8 427.6h0M291.1 427.3h0M298.7 427.1h0M290.5 424.7h0M294.1 424.1h0" stroke="#4DBEEE" stroke-opacity="0.55" stroke-width="3.0" stroke-linecap="round"/>
<path d="M290.2 432.8h0M289.3 431.0h0M289.6 430.6h0M295.3 428.2h0M292.6 427.0h0M284.4 426.9h0M298.8 426.7h0M284.2 426.4h0M293.6 426.2h0M293.1 425.4h0M286.8 423.9h0" stroke="#4DBEEE" stroke-opacity="0.55" stroke-width="3.0" stroke-linecap="round"/>
<path d="M290.9 434.8h0M288.4 433.2h0M294.3 433.0h0M289.8 431.7h0M295.8 431.5h0M297.6 429.7h0M293.6 429.1h0M295.8 428.9h0M296.6 428.0h0M285.1 427.7h0M298.5 426.6h0M293.6 426.4h0M294.5 426.0h0M283.2 425.8h0M284.8 424.8h0M287.2 424.5h0" stroke="#4DBEEE" stroke-opacity="0.55" stroke-width="3.0" stroke-linecap="round"/>
<path d="M289.1 432.3h0M286.9 430.8h0M296.6 430.0h0M289.3 429.3h0M291.6 429.3h0M296.2 428.9h0M288.0 428.6h0M294.6 428.5h0M288.9 428.4h0M297.6 427.3h0M293.5 426.1h0M288.4 425.5h0M290.7 424.3h0M287.5 424.2h0" stroke="#4DBEEE" stroke-opacity="0.55" stroke-width="3.0" stroke-linecap="round"/>
<path d="M313.4 427.9h0M315.9 422.4h0M310.5 419.5h0M315.9 416.0h0M306.8 415.6h0M311.3 415.2h0M306.7 414.9h0M304.7 414.0h0M304.8 411.9h0M307.1 411.3h0M309.3 410.4h0M310.0 407.2h0M307.2 405.9h0M312.0 403.1h0M304.9 401.6h0M313.2 399.9h0M306.4 399.3h0M308.5 396.8h0M309.8 391.3h0" stroke="#77AC30" stroke-opacity="0.55" stroke-width="3.0" stroke-linecap="round"/>
<path d="M309.3 434.6h0M308.7 432.1h0M312.9 431.7h0M309.1 429.2h0M308.2 428.7h0M307.9 428.2h0M314.4 425.8h0M311.6 421.1h0M302.2 417.2h0M303.1 416.6h0M312.8 410.2h0M312.0 409.3h0M305.8 407.7h0M313.8 405.0h0M304.0 402.0h0M314.4 398.4h0M307.8 397.8h0M307.6 393.7h0M309.2 384.5h0M309.1 378.9h0" stroke="#77AC30" stroke-opacity="0.55" stroke-width="3.0" stroke-linecap="round"/>
<path d="M312.4 434.0h0M306.1 429.7h0M312.8 426.5h0M305.4 424.0h0M315.5 421.8h0M316.4 418.1h0M302.7 412.8h0M307.9 412.4h0M301.8 411.7h0M316.1 411.4h0M311.6 410.7h0M308.0 409.1h0M305.2 408.4h0M316.4 406.2h0M307.2 404.1h0" stroke="#77AC30" stroke-opacity="0.55" stroke-width="3.0" stroke-linecap="round"/>
<path d="M311.7 436.9h0M307.6 433.2h0M308.4 430.1h0M314.8 425.3h0M314.7 424.4h0M310.9 418.9h0M305.7 417.5h0M317.5 414.6h0M307.6 413.5h0M307.4 409.9h0M315.8 408.7h0M305.5 407.5h0M307.7 406.9h0M317.0 406.7h0M314.9 401.1h0M306.3 397.6h0M310.0 393.1h0M312.1 392.8h0M309.0 392.0h0" stroke="#77AC30" stroke-opacity="0.55" stroke-width="3.0" stroke-linecap="round"/>
<path d="M311.8 432.5h0M310.1 430.9h0M310.3 420.6h0M310.2 420.1h0M310.9 419.7h0M303.5 417.8h0M305.0 413.0h0M303.8 409.6h0M306.9 408.6h0M304.6 408.0h0M305.1 406.5h0M309.5 405.6h0M316.5 405.4h0M312.1 403.0h0M312.2 400.6h0M308.4 396.4h0M306.0 395.8h0M312.5 394.4h0M308.4 389.8h0M310.4 381.5h0" stroke="#77AC30" stroke-opacity="0.55" stroke-width="3.0" stroke-linecap="round"/>
<path d="M308.9 436.5h0M309.3 435.4h0M309.2 433.0h0M305.8 430.7h0M314.2 427.4h0M312.7 427.0h0M305.7 425.2h0M306.8 423.8h0M313.5 423.3h0M305.0 422.6h0M302.9 421.6h0M315.6 420.8h0M312.3 418.5h0M305.1 416.3h0M308.0 413.9h0M301.6 410.9h0M316.2 404.9h0M310.2 404.4h0M312.4 395.0h0M309.6 387.3h0M309.2 375.7h0" stroke="#77AC30" stroke-opacity="0.55" stroke-width="3.0" stroke-linecap="round"/>
<path d="M65 355.7H102.6" stroke="#555" stroke-width="1"/>
<text x="83.8" y="357.7" text-anchor="middle" class="s">***</text>
<path d="M83.8 363.4H121.4" stroke="#555" stroke-width="1"/>
<text transform="translate(102.6 362.5) scale(0.96 1.2)" text-anchor="middle" class="s">ns</text>
<path d="M65 371H83.8" stroke="#555" stroke-width="1"/>
<text transform="translate(74.4 370.1) scale(0.96 1.2)" text-anchor="middle" class="s">ns</text>
<path d="M102.6 371H121.4" stroke="#555" stroke-width="1"/>
<text transform="translate(112 370.1) scale(0.96 1.2)" text-anchor="middle" class="s">ns</text>
<path d="M158.6 355.7H196.2" stroke="#555" stroke-width="1"/>
<text x="177.4" y="357.7" text-anchor="middle" class="s">***</text>
<path d="M177.4 363.4H215" stroke="#555" stroke-width="1"/>
<text x="196.2" y="365.4" text-anchor="middle" class="s">***</text>
<path d="M158.6 371H177.4" stroke="#555" stroke-width="1"/>
<text x="168" y="373" text-anchor="middle" class="s">***</text>
<path d="M196.2 371H215" stroke="#555" stroke-width="1"/>
<text transform="translate(205.6 370.1) scale(0.96 1.2)" text-anchor="middle" class="s">ns</text>
<path d="M252.4 355.7H290" stroke="#555" stroke-width="1"/>
<text x="271.2" y="357.7" text-anchor="middle" class="s">***</text>
<path d="M271.2 363.4H308.8" stroke="#555" stroke-width="1"/>
<text x="290" y="365.4" text-anchor="middle" class="s">***</text>
<path d="M252.4 371H271.2" stroke="#555" stroke-width="1"/>
<text transform="translate(261.8 370.1) scale(0.96 1.2)" text-anchor="middle" class="s">ns</text>
<path d="M290 371H308.8" stroke="#555" stroke-width="1"/>
<text x="299.4" y="373" text-anchor="middle" class="s">***</text>
<path d="M46.5 472.2V550.2H328.5" fill="none" stroke="#c2c2c2" stroke-width="1"/>
<path d="M46.5 550.2h3" stroke="#c2c2c2" stroke-width="1"/>
<text x="43.3" y="553.7" text-anchor="end" class="k">0</text>
<path d="M46.5 526.6h3" stroke="#c2c2c2" stroke-width="1"/>
<text x="43.3" y="530.1" text-anchor="end" class="k">1</text>
<path d="M46.5 503h3" stroke="#c2c2c2" stroke-width="1"/>
<text x="43.3" y="506.5" text-anchor="end" class="k">2</text>
<path d="M46.5 479.4h3" stroke="#c2c2c2" stroke-width="1"/>
<text x="43.3" y="482.9" text-anchor="end" class="k">3</text>
<path d="M74.7 550.2v-2.5" stroke="#c2c2c2" stroke-width="1"/>
<text x="74.7" y="562.6" text-anchor="middle" class="k">3</text>
<path d="M112.3 550.2v-2.5" stroke="#c2c2c2" stroke-width="1"/>
<text x="112.3" y="562.6" text-anchor="middle" class="k">4</text>
<path d="M168.7 550.2v-2.5" stroke="#c2c2c2" stroke-width="1"/>
<text x="168.7" y="562.6" text-anchor="middle" class="k">3</text>
<path d="M206.3 550.2v-2.5" stroke="#c2c2c2" stroke-width="1"/>
<text x="206.3" y="562.6" text-anchor="middle" class="k">4</text>
<path d="M262.7 550.2v-2.5" stroke="#c2c2c2" stroke-width="1"/>
<text x="262.7" y="562.6" text-anchor="middle" class="k">3</text>
<path d="M300.3 550.2v-2.5" stroke="#c2c2c2" stroke-width="1"/>
<text x="300.3" y="562.6" text-anchor="middle" class="k">4</text>
<text transform="translate(23.3 511.2) rotate(-90)" text-anchor="middle" class="t">Collagen alignment</text>
<text transform="translate(34.8 511.2) rotate(-90)" text-anchor="middle" class="t">ratio (a.u.)</text>
<path d="M65.6 508.0h0M68.0 532.0h0M72.0 537.5h0M71.6 540.3h0M68.4 545.9h0" stroke="#4DBEEE" stroke-opacity="0.55" stroke-width="3.0" stroke-linecap="round"/>
<path d="M65.2 509.4h0M66.4 524.8h0M60.4 534.5h0" stroke="#4DBEEE" stroke-opacity="0.55" stroke-width="3.0" stroke-linecap="round"/>
<path d="M64.0 526.8h0M67.6 528.4h0M59.2 532.7h0M67.6 536.7h0M73.6 538.3h0M63.2 547.5h0" stroke="#4DBEEE" stroke-opacity="0.55" stroke-width="3.0" stroke-linecap="round"/>
<path d="M60.0 536.9h0M62.8 541.1h0" stroke="#4DBEEE" stroke-opacity="0.55" stroke-width="3.0" stroke-linecap="round"/>
<path d="M71.6 529.7h0M60.0 530.4h0M66.4 535.9h0M57.6 537.5h0M66.0 538.3h0" stroke="#4DBEEE" stroke-opacity="0.55" stroke-width="3.0" stroke-linecap="round"/>
<path d="M70.8 533.1h0M65.4 543.5h0" stroke="#4DBEEE" stroke-opacity="0.55" stroke-width="3.0" stroke-linecap="round"/>
<path d="M84.4 495.8h0M84.7 529.6h0M91.1 531.0h0M81.2 535.9h0M87.1 536.3h0M78.0 536.9h0" stroke="#DD6410" stroke-opacity="0.55" stroke-width="3.0" stroke-linecap="round"/>
<path d="M76.0 532.7h0M91.5 535.0h0" stroke="#DD6410" stroke-opacity="0.55" stroke-width="3.0" stroke-linecap="round"/>
<path d="M84.3 528.0h0M79.2 532.9h0" stroke="#DD6410" stroke-opacity="0.55" stroke-width="3.0" stroke-linecap="round"/>
<path d="M85.5 518.8h0M85.5 526.4h0" stroke="#DD6410" stroke-opacity="0.55" stroke-width="3.0" stroke-linecap="round"/>
<path d="M89.9 533.9h0" stroke="#DD6410" stroke-opacity="0.55" stroke-width="3.0" stroke-linecap="round"/>
<path d="M84.3 521.4h0M77.6 532.6h0M82.0 539.1h0" stroke="#DD6410" stroke-opacity="0.55" stroke-width="3.0" stroke-linecap="round"/>
<path d="M104.3 545.1h0M102.8 542.0h0M102.5 541.9h0M99.6 540.6h0M109.9 538.3h0M107.7 538.1h0M95.6 538.0h0M102.7 537.6h0M105.6 537.1h0M97.4 536.2h0M111.0 536.1h0M103.2 535.8h0M100.4 534.1h0M99.2 533.9h0M98.9 533.5h0M103.0 532.9h0M99.5 532.5h0M109.1 532.3h0M104.7 531.5h0M98.4 531.1h0M107.1 530.4h0M104.0 528.8h0M99.0 527.6h0M100.0 523.9h0M104.8 523.0h0M103.0 519.8h0" stroke="#4DBEEE" stroke-opacity="0.55" stroke-width="3.0" stroke-linecap="round"/>
<path d="M102.6 543.2h0M103.2 542.5h0M102.8 539.0h0M95.9 538.7h0M99.3 538.4h0M100.3 536.6h0M100.5 536.3h0M95.9 536.3h0M102.5 535.5h0M98.9 535.4h0M107.1 533.2h0M108.3 532.8h0M97.2 532.2h0M100.6 531.4h0M103.8 530.9h0M104.1 530.7h0M104.4 529.5h0M104.4 525.0h0M100.4 524.2h0M102.5 516.8h0M103.0 492.4h0" stroke="#4DBEEE" stroke-opacity="0.55" stroke-width="3.0" stroke-linecap="round"/>
<path d="M105.1 544.6h0M103.5 543.5h0M98.2 542.3h0M99.3 542.2h0M98.3 541.6h0M97.3 540.9h0M97.2 539.9h0M100.0 537.2h0M95.6 536.8h0M106.0 536.7h0M101.5 536.0h0M110.4 535.9h0M111.0 535.5h0M109.0 534.7h0M97.3 532.5h0M97.7 531.9h0M98.3 531.8h0M106.5 531.7h0M104.1 529.9h0M100.6 527.1h0M101.1 526.9h0M102.6 524.7h0" stroke="#4DBEEE" stroke-opacity="0.55" stroke-width="3.0" stroke-linecap="round"/>
<path d="M101.4 545.4h0M104.8 544.2h0M106.7 542.9h0M101.2 541.5h0M100.5 541.4h0M100.4 541.2h0M99.5 539.2h0M102.3 537.7h0M103.7 537.4h0M99.1 536.9h0M109.2 536.9h0M103.3 536.4h0M109.5 535.7h0M102.0 535.7h0M95.8 535.2h0M107.6 533.7h0M96.2 533.6h0M96.1 533.3h0M107.7 531.1h0M98.2 530.1h0M100.6 529.8h0M108.0 529.2h0M106.1 528.6h0M101.6 528.2h0M98.9 527.4h0M105.3 525.2h0M104.1 519.4h0" stroke="#4DBEEE" stroke-opacity="0.55" stroke-width="3.0" stroke-linecap="round"/>
<path d="M102.0 543.8h0M102.2 541.1h0M105.7 540.4h0M106.3 540.1h0M107.3 539.8h0M107.3 539.6h0M107.7 539.5h0M105.5 538.2h0M98.9 537.6h0M109.3 537.1h0M97.5 535.2h0M105.9 535.0h0M98.0 534.6h0M109.9 534.5h0M97.9 534.3h0M97.2 533.1h0M100.2 532.7h0M108.4 530.8h0M103.8 530.6h0M103.9 530.3h0M98.5 528.1h0M104.1 526.4h0M104.6 525.5h0M104.9 523.5h0M102.4 522.7h0M100.7 522.4h0M102.9 518.1h0M102.8 516.0h0" stroke="#4DBEEE" stroke-opacity="0.55" stroke-width="3.0" stroke-linecap="round"/>
<path d="M101.6 544.7h0M103.4 542.8h0M99.0 542.6h0M97.2 540.8h0M108.6 540.3h0M106.1 539.3h0M102.0 538.9h0M103.5 538.5h0M106.2 537.9h0M107.7 537.8h0M101.8 537.4h0M96.5 535.0h0M100.7 534.9h0M99.2 534.2h0M101.6 533.9h0M107.9 532.0h0M105.5 531.3h0M101.5 526.5h0M104.7 526.0h0M104.8 525.7h0M102.4 524.4h0M101.0 523.2h0M104.4 522.1h0M103.9 521.9h0M104.8 520.8h0M103.1 515.0h0M103.0 505.6h0" stroke="#4DBEEE" stroke-opacity="0.55" stroke-width="3.0" stroke-linecap="round"/>
<path d="M119.9 521.4h0M126.0 523.7h0M124.5 527.5h0M119.9 538.6h0M126.4 539.4h0" stroke="#77AC30" stroke-opacity="0.55" stroke-width="3.0" stroke-linecap="round"/>
<path d="M123.0 511.8h0M121.4 528.7h0M125.3 538.6h0" stroke="#77AC30" stroke-opacity="0.55" stroke-width="3.0" stroke-linecap="round"/>
<path d="M121.8 524.1h0M123.3 529.4h0M119.5 535.6h0M123.7 537.1h0" stroke="#77AC30" stroke-opacity="0.55" stroke-width="3.0" stroke-linecap="round"/>
<path d="M120.4 516.4h0M123.0 526.4h0M128.7 534.4h0" stroke="#77AC30" stroke-opacity="0.55" stroke-width="3.0" stroke-linecap="round"/>
<path d="M122.0 504.1h0M122.2 519.3h0M117.2 529.8h0M118.7 531.7h0M126.4 533.4h0M114.9 536.0h0M117.6 538.3h0" stroke="#77AC30" stroke-opacity="0.55" stroke-width="3.0" stroke-linecap="round"/>
<path d="M123.3 515.3h0M129.3 530.6h0M115.3 533.3h0M114.1 534.4h0M120.7 533.7h0M121.8 534.0h0M118.7 534.8h0M127.2 537.9h0M122.2 542.5h0" stroke="#77AC30" stroke-opacity="0.55" stroke-width="3.0" stroke-linecap="round"/>
<path d="M158.7 549.2h0M154.3 544.3h0M153.0 542.2h0M158.4 539.4h0M161.4 538.8h0M157.3 538.7h0M154.9 537.5h0M166.3 536.1h0M151.7 536.0h0M163.3 535.6h0M164.8 534.3h0M167.4 534.2h0M165.6 532.4h0M156.4 531.5h0M153.8 531.1h0M157.5 529.5h0M162.8 527.6h0M159.9 525.1h0M157.2 522.6h0M157.6 520.4h0M159.4 506.5h0M159.3 503.0h0" stroke="#4DBEEE" stroke-opacity="0.55" stroke-width="3.0" stroke-linecap="round"/>
<path d="M161.4 547.8h0M160.3 547.4h0M156.5 546.0h0M162.0 541.5h0M152.7 541.2h0M160.2 538.3h0M156.2 536.5h0M159.6 534.7h0M154.7 532.9h0M165.2 531.2h0M156.5 528.9h0M163.9 528.3h0M163.1 527.1h0M161.7 525.5h0M158.4 524.9h0M159.8 521.0h0M160.0 519.8h0" stroke="#4DBEEE" stroke-opacity="0.55" stroke-width="3.0" stroke-linecap="round"/>
<path d="M163.3 545.2h0M163.6 544.0h0M156.1 543.5h0M155.6 542.9h0M161.5 542.6h0M160.0 541.1h0M161.3 540.7h0M164.0 537.6h0M160.5 536.8h0M158.3 536.4h0M165.4 536.2h0M166.7 535.8h0M165.7 535.0h0M161.9 534.0h0M153.9 533.3h0M161.4 531.7h0M159.2 529.4h0M160.3 527.9h0M157.4 526.3h0M159.3 524.3h0M161.6 522.2h0M162.1 520.7h0M161.8 519.2h0M158.0 518.0h0M160.6 516.8h0M159.9 513.4h0" stroke="#4DBEEE" stroke-opacity="0.55" stroke-width="3.0" stroke-linecap="round"/>
<path d="M157.9 546.5h0M164.0 543.9h0M155.7 542.0h0M161.3 540.6h0M161.5 540.2h0M164.6 539.6h0M161.7 539.1h0M156.8 538.9h0M159.3 538.5h0M162.6 538.3h0M162.1 537.9h0M152.3 537.3h0M151.7 537.2h0M156.4 536.8h0M159.4 535.7h0M157.4 535.1h0M152.3 533.9h0M154.3 533.4h0M157.2 533.1h0M161.4 532.5h0M155.7 532.1h0M163.0 530.4h0M155.4 530.2h0M154.4 529.1h0M156.4 522.9h0M160.5 517.5h0M158.9 510.1h0M159.6 499.5h0M159.2 480.3h0" stroke="#4DBEEE" stroke-opacity="0.55" stroke-width="3.0" stroke-linecap="round"/>
<path d="M162.4 544.9h0M160.3 544.5h0M157.5 543.2h0M157.8 542.4h0M161.4 541.7h0M163.5 540.1h0M156.8 539.8h0M166.4 535.4h0M153.7 532.7h0M157.4 531.9h0M159.2 531.4h0M158.3 528.5h0M155.0 526.6h0M162.6 526.0h0M155.1 524.0h0M156.2 523.8h0M158.1 523.4h0M161.3 522.0h0M158.8 519.4h0" stroke="#4DBEEE" stroke-opacity="0.55" stroke-width="3.0" stroke-linecap="round"/>
<path d="M158.4 548.8h0M158.3 545.4h0M156.5 544.7h0M157.0 543.2h0M152.5 539.3h0M156.0 538.1h0M155.0 537.8h0M160.9 537.1h0M154.1 535.3h0M165.8 534.5h0M165.7 533.7h0M159.8 530.8h0M155.3 530.6h0M163.5 530.1h0M158.0 530.0h0M164.9 529.7h0M160.9 521.4h0M158.5 518.5h0M160.1 516.2h0M159.2 497.1h0" stroke="#4DBEEE" stroke-opacity="0.55" stroke-width="3.0" stroke-linecap="round"/>
<path d="M179.2 545.3h0M176.0 543.7h0M177.0 540.8h0M183.2 540.2h0M184.2 539.0h0M184.7 537.2h0M170.4 536.8h0M179.4 536.3h0M185.9 536.0h0M175.1 535.7h0M178.1 534.9h0M173.7 534.8h0M171.6 533.6h0M177.1 533.0h0M179.3 530.2h0M179.6 527.4h0M175.5 524.2h0M175.8 523.3h0" stroke="#DD6410" stroke-opacity="0.55" stroke-width="3.0" stroke-linecap="round"/>
<path d="M176.9 541.9h0M175.0 538.4h0M175.7 536.6h0M181.8 536.1h0M175.8 535.6h0M171.3 535.4h0M183.4 534.3h0M171.8 532.3h0M171.9 530.8h0M180.7 525.3h0M180.4 524.5h0M179.2 523.5h0" stroke="#DD6410" stroke-opacity="0.55" stroke-width="3.0" stroke-linecap="round"/>
<path d="M176.4 544.8h0M174.5 541.6h0M174.7 539.2h0M182.8 538.9h0M182.4 538.1h0M171.0 538.0h0M179.2 537.7h0M177.8 534.5h0M176.8 532.0h0M182.3 531.8h0M181.4 531.4h0M179.4 529.5h0M181.1 529.1h0M179.1 528.5h0M181.4 528.1h0M177.7 526.9h0M174.7 525.0h0M176.1 521.9h0M179.4 520.3h0" stroke="#DD6410" stroke-opacity="0.55" stroke-width="3.0" stroke-linecap="round"/>
<path d="M179.3 545.7h0M180.6 542.7h0M175.3 541.1h0M181.2 539.8h0M176.8 538.5h0M183.7 537.6h0M184.5 537.3h0M177.0 536.9h0M174.4 536.5h0M183.6 535.2h0M178.2 534.0h0M177.2 533.7h0M172.2 533.3h0M173.9 533.1h0M175.6 531.7h0M180.7 531.2h0M174.4 530.4h0M177.0 527.6h0M178.8 517.3h0" stroke="#DD6410" stroke-opacity="0.55" stroke-width="3.0" stroke-linecap="round"/>
<path d="M174.6 542.9h0M175.9 542.2h0M174.2 540.5h0M172.3 540.4h0M181.7 539.6h0M173.6 534.1h0M184.5 532.5h0M185.4 532.2h0M174.1 530.0h0M181.3 526.2h0M175.0 526.0h0M179.6 522.8h0M178.5 515.7h0" stroke="#DD6410" stroke-opacity="0.55" stroke-width="3.0" stroke-linecap="round"/>
<path d="M174.2 543.3h0M174.0 542.4h0M176.4 541.4h0M178.1 534.7h0M179.0 532.9h0M182.0 532.6h0M171.4 531.1h0M183.2 530.9h0M178.0 530.5h0M176.7 522.3h0M178.3 518.9h0" stroke="#DD6410" stroke-opacity="0.55" stroke-width="3.0" stroke-linecap="round"/>
<path d="M197.8 505.4h0M198.6 526.2h0M201.3 532.3h0M194.3 535.5h0" stroke="#4DBEEE" stroke-opacity="0.55" stroke-width="3.0" stroke-linecap="round"/>
<path d="M190.4 538.0h0" stroke="#4DBEEE" stroke-opacity="0.55" stroke-width="3.0" stroke-linecap="round"/>
<path d="M190.4 530.4h0M197.1 532.0h0M203.5 533.8h0" stroke="#4DBEEE" stroke-opacity="0.55" stroke-width="3.0" stroke-linecap="round"/>
<path d="M197.0 518.7h0" stroke="#4DBEEE" stroke-opacity="0.55" stroke-width="3.0" stroke-linecap="round"/>
<path d="M219.0 543.6h0M217.1 541.6h0M216.4 540.3h0M219.3 539.1h0M219.9 538.7h0M213.2 538.4h0M215.9 535.8h0M221.8 534.4h0M210.5 532.4h0M217.0 532.2h0M211.0 531.8h0M212.1 530.6h0M210.3 530.3h0M215.0 529.6h0M211.3 528.7h0M214.8 528.2h0M216.6 525.0h0M217.0 523.6h0M215.3 513.3h0" stroke="#77AC30" stroke-opacity="0.55" stroke-width="3.0" stroke-linecap="round"/>
<path d="M219.7 541.8h0M216.6 541.1h0M222.5 536.5h0M222.2 534.8h0M216.2 531.9h0M213.9 531.6h0M215.1 531.5h0M212.6 530.2h0M212.9 525.6h0M217.0 520.1h0M215.9 517.9h0" stroke="#77AC30" stroke-opacity="0.55" stroke-width="3.0" stroke-linecap="round"/>
<path d="M215.6 548.7h0M213.5 542.8h0M220.1 540.7h0M218.0 539.6h0M212.3 538.0h0M211.3 537.8h0M208.1 534.9h0M208.0 533.3h0M221.7 532.5h0M217.2 531.0h0M216.6 529.9h0M216.2 527.7h0M216.1 524.4h0M215.5 524.2h0M215.5 523.3h0" stroke="#77AC30" stroke-opacity="0.55" stroke-width="3.0" stroke-linecap="round"/>
<path d="M212.3 542.4h0M219.7 542.2h0M216.0 541.3h0M220.0 540.0h0M217.9 539.3h0M217.2 537.1h0M221.5 536.2h0M219.0 535.7h0M213.4 535.2h0M220.3 534.6h0M211.5 534.0h0M222.0 532.8h0M211.3 531.2h0M222.5 530.7h0M219.0 526.7h0M216.3 526.3h0M214.1 526.0h0M216.3 515.1h0" stroke="#77AC30" stroke-opacity="0.55" stroke-width="3.0" stroke-linecap="round"/>
<path d="M213.7 544.5h0M213.3 542.5h0M218.1 539.8h0M220.9 537.7h0M213.8 534.2h0M221.4 533.7h0M209.2 533.2h0M213.3 532.6h0M216.9 531.3h0M217.1 522.8h0M215.0 521.5h0" stroke="#77AC30" stroke-opacity="0.55" stroke-width="3.0" stroke-linecap="round"/>
<path d="M215.8 547.1h0M215.5 545.5h0M214.3 540.8h0M218.2 538.6h0M215.5 537.5h0M208.3 537.3h0M221.2 536.9h0M222.2 536.6h0M210.6 536.0h0M218.0 535.5h0M218.3 533.6h0M218.5 533.5h0M220.1 533.0h0M213.3 532.1h0M211.5 530.9h0M217.6 529.0h0M220.1 527.4h0M214.7 522.1h0" stroke="#77AC30" stroke-opacity="0.55" stroke-width="3.0" stroke-linecap="round"/>
<path d="M252.2 541.7h0M256.9 540.9h0M249.5 540.5h0M256.7 539.9h0M247.8 539.2h0M253.5 538.3h0M256.8 536.2h0M249.5 534.2h0M248.4 533.8h0M260.7 533.2h0M260.7 532.2h0M254.2 531.3h0M246.2 529.8h0M247.5 529.7h0M245.9 529.5h0M258.4 528.8h0M248.0 527.5h0M247.0 524.4h0M255.6 520.8h0M253.2 506.5h0" stroke="#4DBEEE" stroke-opacity="0.55" stroke-width="3.0" stroke-linecap="round"/>
<path d="M255.3 540.3h0M251.3 535.9h0M255.7 535.7h0M253.2 534.9h0M247.5 531.5h0M260.4 531.2h0M254.3 529.3h0M251.7 527.3h0M255.0 526.7h0M257.9 524.5h0M253.2 524.2h0M248.2 523.1h0M253.0 509.1h0M253.6 503.0h0" stroke="#4DBEEE" stroke-opacity="0.55" stroke-width="3.0" stroke-linecap="round"/>
<path d="M253.5 544.6h0M256.4 544.2h0M253.1 543.1h0M248.1 538.7h0M253.7 537.0h0M252.9 536.7h0M259.7 534.5h0M256.5 534.0h0M256.4 532.9h0M250.9 532.1h0M259.1 530.9h0M256.5 530.7h0M251.4 529.2h0M246.5 528.7h0M258.1 528.3h0M258.5 528.1h0M257.6 527.0h0M259.2 526.5h0M260.1 525.3h0M252.6 524.9h0M252.8 523.9h0M253.8 522.4h0M251.7 522.0h0M252.7 521.2h0M252.4 521.0h0" stroke="#4DBEEE" stroke-opacity="0.55" stroke-width="3.0" stroke-linecap="round"/>
<path d="M255.6 543.5h0M251.9 541.6h0M258.2 539.8h0M251.3 539.5h0M251.6 539.1h0M251.0 538.9h0M255.7 538.5h0M255.1 536.8h0M256.1 533.4h0M256.3 532.4h0M248.8 531.9h0M258.4 531.7h0M250.5 525.2h0M252.3 524.7h0M252.7 523.4h0M256.0 522.2h0M253.6 516.2h0M253.4 481.8h0" stroke="#4DBEEE" stroke-opacity="0.55" stroke-width="3.0" stroke-linecap="round"/>
<path d="M256.0 540.2h0M258.9 537.4h0M251.6 536.5h0M254.9 536.0h0M253.9 535.4h0M247.2 535.3h0M257.2 535.1h0M260.1 534.8h0M247.1 534.4h0M255.0 532.6h0M261.2 530.4h0M250.0 529.0h0M252.1 528.4h0M256.6 527.9h0M253.7 527.7h0M258.4 526.2h0M250.5 522.8h0M254.5 522.7h0M249.6 521.9h0M253.0 497.8h0M253.5 493.6h0M253.2 489.8h0M253.1 478.0h0" stroke="#4DBEEE" stroke-opacity="0.55" stroke-width="3.0" stroke-linecap="round"/>
<path d="M250.6 542.7h0M252.2 542.1h0M255.5 541.3h0M256.8 541.2h0M250.0 540.8h0M255.0 538.1h0M258.5 537.9h0M254.4 537.7h0M257.9 537.2h0M258.6 533.7h0M250.9 533.0h0M245.3 530.6h0M252.5 530.2h0M249.9 530.1h0M256.8 527.2h0M254.3 526.4h0M259.2 526.1h0M248.6 525.7h0M248.3 525.5h0M248.4 523.7h0M257.7 523.3h0M252.1 521.7h0M256.4 521.5h0" stroke="#4DBEEE" stroke-opacity="0.55" stroke-width="3.0" stroke-linecap="round"/>
<path d="M274.8 541.7h0M270.3 540.3h0M269.5 540.0h0M270.4 539.6h0M266.8 538.9h0M271.8 537.7h0M278.0 534.3h0M267.0 533.5h0M273.7 531.4h0M266.8 531.3h0M266.7 531.1h0M274.6 530.2h0M273.3 528.8h0M270.4 528.5h0M269.2 523.9h0M275.5 523.7h0M268.9 523.4h0M273.6 522.2h0M272.9 521.4h0M272.0 518.0h0M273.3 516.3h0M271.9 500.6h0M271.9 497.8h0" stroke="#DD6410" stroke-opacity="0.55" stroke-width="3.0" stroke-linecap="round"/>
<path d="M274.4 537.4h0M277.1 536.8h0M270.4 535.5h0M267.9 533.3h0M277.6 533.2h0M266.9 533.0h0M264.7 532.4h0M276.7 530.9h0M273.1 530.6h0M276.0 529.5h0M271.3 527.4h0M267.2 527.1h0M272.0 507.7h0" stroke="#DD6410" stroke-opacity="0.55" stroke-width="3.0" stroke-linecap="round"/>
<path d="M271.0 543.3h0M270.9 542.8h0M274.6 540.8h0M271.3 537.1h0M270.0 535.8h0M266.8 535.6h0M268.1 534.1h0M265.8 533.9h0M278.5 533.6h0M276.2 532.8h0M279.4 532.6h0M269.4 531.9h0M274.0 530.7h0M268.7 529.6h0M272.5 528.5h0M274.4 527.8h0M268.4 526.0h0M276.1 524.9h0M273.9 524.6h0M269.0 522.8h0M272.9 520.8h0M271.2 515.4h0M271.4 513.5h0M272.0 505.4h0" stroke="#DD6410" stroke-opacity="0.55" stroke-width="3.0" stroke-linecap="round"/>
<path d="M273.3 541.5h0M269.2 538.1h0M274.7 537.4h0M278.0 536.6h0M269.1 536.3h0M278.8 536.0h0M273.5 534.8h0M278.0 534.7h0M265.0 534.6h0M265.2 534.5h0M265.0 533.8h0M267.8 533.0h0M276.0 531.8h0M267.7 531.6h0M269.4 529.2h0M274.7 521.9h0M274.3 521.3h0M273.5 519.6h0" stroke="#DD6410" stroke-opacity="0.55" stroke-width="3.0" stroke-linecap="round"/>
<path d="M273.4 540.7h0M272.7 540.2h0M268.0 539.8h0M275.5 539.3h0M269.0 538.8h0M278.1 537.9h0M277.1 535.3h0M272.3 535.1h0M269.1 533.6h0M278.0 532.7h0M273.9 532.0h0M270.3 530.4h0M265.8 529.7h0M268.3 528.9h0M270.6 528.2h0M273.2 528.1h0M274.9 527.9h0M275.4 526.7h0M272.1 519.1h0M273.1 518.7h0M270.6 517.1h0" stroke="#DD6410" stroke-opacity="0.55" stroke-width="3.0" stroke-linecap="round"/>
<path d="M275.0 542.4h0M268.0 539.2h0M275.6 538.5h0M276.9 538.4h0M271.7 536.5h0M275.2 535.9h0M271.2 535.5h0M275.3 535.2h0M278.7 534.9h0M276.0 534.2h0M269.3 532.2h0M278.6 530.1h0M270.3 529.9h0M275.5 529.1h0M271.0 525.7h0M274.6 525.4h0M269.8 520.2h0M272.7 519.9h0M271.4 514.5h0" stroke="#DD6410" stroke-opacity="0.55" stroke-width="3.0" stroke-linecap="round"/>
<path d="M295.0 538.5h0M285.9 537.7h0M288.4 537.1h0M296.3 536.3h0M291.6 535.7h0M284.8 534.4h0M283.1 533.0h0M290.1 532.4h0M285.8 531.5h0M288.2 530.5h0M298.3 530.3h0M297.7 530.0h0M293.1 529.4h0M286.5 529.1h0M290.9 528.7h0M293.5 528.4h0M292.9 523.7h0M288.9 521.9h0M290.7 501.8h0" stroke="#4DBEEE" stroke-opacity="0.55" stroke-width="3.0" stroke-linecap="round"/>
<path d="M293.3 542.2h0M288.8 540.0h0M293.3 539.5h0M286.4 539.2h0M294.6 538.9h0M294.9 538.2h0M297.8 536.3h0M296.9 534.5h0M285.1 534.1h0M294.1 533.3h0M298.3 531.0h0M287.4 530.1h0M284.8 528.5h0M293.9 527.9h0M292.8 526.4h0M293.7 526.0h0M289.0 523.1h0M289.9 516.5h0" stroke="#4DBEEE" stroke-opacity="0.55" stroke-width="3.0" stroke-linecap="round"/>
<path d="M288.6 542.9h0M294.3 540.6h0M294.5 539.9h0M296.4 535.0h0M294.6 533.8h0M290.1 532.2h0M292.6 530.6h0M285.0 528.2h0M295.5 525.5h0M292.7 522.7h0M293.7 520.2h0M289.3 517.5h0" stroke="#4DBEEE" stroke-opacity="0.55" stroke-width="3.0" stroke-linecap="round"/>
<path d="M288.7 543.5h0M289.4 538.8h0M297.0 535.4h0M288.5 534.9h0M287.0 532.8h0M297.7 531.8h0M286.3 526.8h0M292.2 524.4h0M292.3 521.5h0M290.5 518.1h0M290.7 510.1h0M291.2 503.0h0" stroke="#4DBEEE" stroke-opacity="0.55" stroke-width="3.0" stroke-linecap="round"/>
<path d="M292.2 541.6h0M292.3 540.2h0M295.8 537.0h0M292.6 535.6h0M289.4 534.7h0M293.8 534.0h0M288.5 533.1h0M289.0 532.1h0M289.0 531.7h0M298.2 531.3h0M290.1 530.8h0M288.4 529.7h0M295.1 529.3h0M298.3 529.0h0M293.0 528.0h0M286.9 527.5h0M289.1 525.2h0M290.8 523.2h0M293.5 522.2h0M291.1 495.9h0" stroke="#4DBEEE" stroke-opacity="0.55" stroke-width="3.0" stroke-linecap="round"/>
<path d="M291.4 540.9h0M296.0 537.9h0M294.0 537.4h0M285.5 536.7h0M291.1 536.0h0M284.5 535.1h0M286.4 533.5h0M285.3 532.6h0M293.2 531.1h0M295.0 529.6h0M286.0 527.1h0M286.7 525.0h0M294.0 524.0h0M292.6 521.1h0M290.3 519.6h0M291.4 514.8h0" stroke="#4DBEEE" stroke-opacity="0.55" stroke-width="3.0" stroke-linecap="round"/>
<path d="M310.1 538.7h0M310.5 537.2h0M308.6 537.0h0M307.3 534.9h0M307.2 533.8h0M306.5 532.9h0M314.8 531.4h0M313.6 531.2h0M306.2 531.0h0M311.6 530.2h0M308.1 521.3h0M310.8 518.7h0M310.0 516.5h0" stroke="#77AC30" stroke-opacity="0.55" stroke-width="3.0" stroke-linecap="round"/>
<path d="M309.3 543.3h0M309.1 540.5h0M311.4 540.1h0M303.8 536.9h0M307.8 536.7h0M304.8 536.5h0M309.0 536.2h0M302.9 534.2h0M314.0 534.0h0M312.4 533.3h0M305.9 532.0h0M310.5 530.0h0M313.3 528.6h0M311.6 523.7h0M308.9 517.8h0M309.7 507.7h0" stroke="#77AC30" stroke-opacity="0.55" stroke-width="3.0" stroke-linecap="round"/>
<path d="M308.2 541.7h0M313.0 539.9h0M315.1 539.4h0M313.6 539.1h0M314.7 539.0h0M302.2 535.6h0M307.2 535.5h0M308.8 535.2h0M316.3 532.8h0M309.6 532.5h0M309.6 529.3h0M306.7 528.8h0M307.5 523.9h0M311.4 522.3h0M309.5 492.4h0" stroke="#77AC30" stroke-opacity="0.55" stroke-width="3.0" stroke-linecap="round"/>
<path d="M306.4 541.4h0M314.3 540.7h0M309.9 539.6h0M304.7 538.4h0M305.1 538.0h0M309.0 536.4h0M308.0 535.9h0M317.3 534.5h0M311.6 533.9h0M307.9 533.7h0M315.7 533.1h0M308.7 531.8h0M307.6 531.3h0M307.7 530.4h0M312.1 525.0h0M309.5 491.2h0" stroke="#77AC30" stroke-opacity="0.55" stroke-width="3.0" stroke-linecap="round"/>
<path d="M308.5 544.3h0M307.7 542.7h0M312.2 542.0h0M304.6 537.8h0M310.2 537.6h0M316.4 537.4h0M316.7 536.0h0M305.3 534.4h0M308.4 532.7h0M305.8 532.4h0M315.1 530.5h0M305.9 527.8h0M309.7 526.7h0M310.3 526.5h0M310.9 524.4h0M311.7 520.8h0" stroke="#77AC30" stroke-opacity="0.55" stroke-width="3.0" stroke-linecap="round"/>
<path d="M310.5 544.9h0M313.4 541.1h0M308.1 540.9h0M315.9 535.8h0M313.3 535.3h0M302.7 534.9h0M310.6 534.6h0M306.9 533.5h0M303.2 532.2h0M305.1 532.1h0M309.6 531.6h0M309.4 530.8h0M303.8 530.7h0M309.4 528.0h0M305.9 527.2h0M308.0 525.7h0M307.7 525.5h0M307.2 523.2h0M311.5 522.6h0" stroke="#77AC30" stroke-opacity="0.55" stroke-width="3.0" stroke-linecap="round"/>
<path d="M65 465.9H102.6" stroke="#555" stroke-width="1"/>
<text transform="translate(83.8 465) scale(0.96 1.2)" text-anchor="middle" class="s">ns</text>
<path d="M83.8 473.5H121.4" stroke="#555" stroke-width="1"/>
<text transform="translate(102.6 472.6) scale(0.96 1.2)" text-anchor="middle" class="s">ns</text>
<path d="M65 481.6H83.8" stroke="#555" stroke-width="1"/>
<text transform="translate(74.4 480.7) scale(0.96 1.2)" text-anchor="middle" class="s">ns</text>
<path d="M102.6 481.6H121.4" stroke="#555" stroke-width="1"/>
<text transform="translate(112 480.7) scale(0.96 1.2)" text-anchor="middle" class="s">ns</text>
<path d="M158.6 465.9H196.2" stroke="#555" stroke-width="1"/>
<text transform="translate(177.4 465) scale(0.96 1.2)" text-anchor="middle" class="s">ns</text>
<path d="M177.4 473.5H215" stroke="#555" stroke-width="1"/>
<text transform="translate(196.2 472.6) scale(0.96 1.2)" text-anchor="middle" class="s">ns</text>
<path d="M158.6 481.6H177.4" stroke="#555" stroke-width="1"/>
<text transform="translate(168 480.7) scale(0.96 1.2)" text-anchor="middle" class="s">ns</text>
<path d="M196.2 481.6H215" stroke="#555" stroke-width="1"/>
<text transform="translate(205.6 480.7) scale(0.96 1.2)" text-anchor="middle" class="s">ns</text>
<path d="M252.4 465.9H290" stroke="#555" stroke-width="1"/>
<text transform="translate(271.2 465) scale(0.96 1.2)" text-anchor="middle" class="s">ns</text>
<path d="M271.2 473.5H308.8" stroke="#555" stroke-width="1"/>
<text transform="translate(290 472.6) scale(0.96 1.2)" text-anchor="middle" class="s">ns</text>
<path d="M252.4 481.6H271.2" stroke="#555" stroke-width="1"/>
<text transform="translate(261.8 480.7) scale(0.96 1.2)" text-anchor="middle" class="s">ns</text>
<path d="M290 481.6H308.8" stroke="#555" stroke-width="1"/>
<text transform="translate(299.4 480.7) scale(0.96 1.2)" text-anchor="middle" class="s">ns</text>
<path d="M401.6 27V104.9H683.6" fill="none" stroke="#c2c2c2" stroke-width="1"/>
<path d="M401.6 90.99h3" stroke="#c2c2c2" stroke-width="1"/>
<text x="398.4" y="94.49" text-anchor="end" class="k">0.8</text>
<path d="M401.6 64.49h3" stroke="#c2c2c2" stroke-width="1"/>
<text x="398.4" y="67.99" text-anchor="end" class="k">0.9</text>
<path d="M401.6 37.99h3" stroke="#c2c2c2" stroke-width="1"/>
<text x="398.4" y="41.49" text-anchor="end" class="k">1</text>
<path d="M429.8 104.9v-2.5" stroke="#c2c2c2" stroke-width="1"/>
<text x="429.8" y="117.3" text-anchor="middle" class="k">3</text>
<path d="M467.4 104.9v-2.5" stroke="#c2c2c2" stroke-width="1"/>
<text x="467.4" y="117.3" text-anchor="middle" class="k">4</text>
<path d="M523.8 104.9v-2.5" stroke="#c2c2c2" stroke-width="1"/>
<text x="523.8" y="117.3" text-anchor="middle" class="k">3</text>
<path d="M561.4 104.9v-2.5" stroke="#c2c2c2" stroke-width="1"/>
<text x="561.4" y="117.3" text-anchor="middle" class="k">4</text>
<path d="M617.8 104.9v-2.5" stroke="#c2c2c2" stroke-width="1"/>
<text x="617.8" y="117.3" text-anchor="middle" class="k">3</text>
<path d="M655.4 104.9v-2.5" stroke="#c2c2c2" stroke-width="1"/>
<text x="655.4" y="117.3" text-anchor="middle" class="k">4</text>
<text transform="translate(381.7 65.95) rotate(-90)" text-anchor="middle" class="t">ORR (a.u.)</text>
<path d="M424.1 47.2h0M416.7 41.9h0M419.2 41.3h0" stroke="#4DBEEE" stroke-opacity="0.55" stroke-width="3.0" stroke-linecap="round"/>
<path d="M420.2 50.3h0M417.8 48.6h0M426.3 47.7h0M417.4 46.2h0M423.0 44.1h0M423.4 43.4h0M426.9 42.5h0M423.8 41.5h0" stroke="#4DBEEE" stroke-opacity="0.55" stroke-width="3.0" stroke-linecap="round"/>
<path d="M419.7 52.2h0M416.7 51.5h0M425.2 45.2h0M422.8 40.4h0" stroke="#4DBEEE" stroke-opacity="0.55" stroke-width="3.0" stroke-linecap="round"/>
<path d="M421.9 53.6h0M413.6 46.7h0M415.4 44.9h0M416.2 43.0h0M425.2 41.0h0" stroke="#4DBEEE" stroke-opacity="0.55" stroke-width="3.0" stroke-linecap="round"/>
<path d="M421.9 49.6h0M424.2 45.5h0M418.8 43.6h0" stroke="#4DBEEE" stroke-opacity="0.55" stroke-width="3.0" stroke-linecap="round"/>
<path d="M426.4 45.9h0M426.6 44.3h0M413.6 42.0h0M426.1 41.2h0M418.8 39.7h0" stroke="#4DBEEE" stroke-opacity="0.55" stroke-width="3.0" stroke-linecap="round"/>
<path d="M433.0 46.0h0" stroke="#DD6410" stroke-opacity="0.55" stroke-width="3.0" stroke-linecap="round"/>
<path d="M434.7 42.6h0" stroke="#DD6410" stroke-opacity="0.55" stroke-width="3.0" stroke-linecap="round"/>
<path d="M433.7 46.3h0M445.1 44.3h0M444.3 42.9h0M438.9 51.8h0" stroke="#DD6410" stroke-opacity="0.55" stroke-width="3.0" stroke-linecap="round"/>
<path d="M437.1 45.2h0M435.0 43.3h0M439.5 43.0h0M435.6 42.3h0" stroke="#DD6410" stroke-opacity="0.55" stroke-width="3.0" stroke-linecap="round"/>
<path d="M441.1 46.7h0M433.9 45.5h0M444.7 44.8h0M431.7 44.5h0M441.8 43.8h0M437.3 43.7h0M439.2 42.1h0M442.9 41.6h0" stroke="#DD6410" stroke-opacity="0.55" stroke-width="3.0" stroke-linecap="round"/>
<path d="M444.4 45.8h0" stroke="#DD6410" stroke-opacity="0.55" stroke-width="3.0" stroke-linecap="round"/>
<path d="M457.6 57.0h0M461.3 54.3h0M455.7 53.5h0M457.5 50.1h0M453.3 50.0h0M452.7 48.6h0M465.0 48.5h0M459.1 48.3h0M455.3 48.1h0M464.2 47.9h0M452.8 47.7h0M464.0 47.3h0M456.6 47.2h0M452.4 46.7h0M451.9 46.3h0M451.4 45.9h0M456.5 45.6h0M457.1 45.3h0M459.7 44.9h0M459.7 44.4h0M454.3 44.1h0M456.3 44.0h0M458.4 43.9h0M454.8 43.5h0M458.9 41.6h0M458.0 84.9h0M458.1 94.4h0" stroke="#4DBEEE" stroke-opacity="0.55" stroke-width="3.0" stroke-linecap="round"/>
<path d="M458.6 56.0h0M455.5 54.8h0M455.5 54.1h0M459.0 53.3h0M452.7 51.5h0M454.1 50.8h0M459.0 49.2h0M453.9 49.2h0M465.6 49.1h0M451.9 48.9h0M459.2 47.9h0M453.9 47.2h0M458.3 46.6h0M451.8 46.0h0M458.5 45.1h0M464.3 45.0h0M463.2 44.3h0M452.9 44.2h0M461.6 43.9h0M457.9 100.3h0" stroke="#4DBEEE" stroke-opacity="0.55" stroke-width="3.0" stroke-linecap="round"/>
<path d="M456.4 56.2h0M458.5 55.7h0M458.4 55.3h0M460.9 52.5h0M458.8 52.4h0M455.2 51.0h0M458.9 50.3h0M459.2 49.9h0M451.8 49.7h0M459.5 49.5h0M463.4 49.4h0M464.4 49.3h0M458.0 48.2h0M458.4 47.8h0M455.3 47.6h0M451.7 47.4h0M452.3 47.1h0M464.8 46.5h0M454.5 46.1h0M457.4 45.7h0M462.2 44.7h0M456.4 44.4h0M461.8 43.0h0M456.9 41.8h0" stroke="#4DBEEE" stroke-opacity="0.55" stroke-width="3.0" stroke-linecap="round"/>
<path d="M457.5 56.4h0M455.8 54.7h0M460.3 54.5h0M457.3 54.0h0M454.9 53.0h0M458.5 52.8h0M460.0 51.9h0M460.5 51.7h0M457.2 51.1h0M460.6 50.9h0M460.9 50.9h0M457.4 50.5h0M453.1 50.3h0M459.8 50.2h0M463.6 49.8h0M463.5 49.8h0M456.2 49.5h0M461.1 48.7h0M461.2 48.2h0M459.8 47.7h0M461.6 47.5h0M464.9 47.0h0M461.7 47.0h0M463.6 46.8h0M460.9 46.4h0M453.4 45.4h0M459.1 44.6h0M458.5 42.1h0M457.2 59.7h0" stroke="#4DBEEE" stroke-opacity="0.55" stroke-width="3.0" stroke-linecap="round"/>
<path d="M453.5 53.6h0M454.7 53.2h0M452.7 53.1h0M459.2 52.3h0M458.3 52.2h0M461.8 52.0h0M463.4 51.6h0M458.5 51.2h0M450.7 50.7h0M456.8 50.6h0M453.5 50.6h0M459.0 50.1h0M461.5 49.6h0M460.9 48.4h0M460.1 48.0h0M454.9 46.9h0M453.1 46.8h0M464.3 46.1h0M452.3 44.6h0M460.5 43.8h0M458.5 43.7h0M457.4 43.4h0M460.9 42.7h0M458.9 42.6h0M458.1 61.3h0" stroke="#4DBEEE" stroke-opacity="0.55" stroke-width="3.0" stroke-linecap="round"/>
<path d="M460.0 56.8h0M460.0 55.4h0M454.3 55.1h0M457.9 54.9h0M462.0 54.4h0M461.5 53.9h0M461.4 53.8h0M460.5 52.7h0M451.5 51.3h0M463.9 51.1h0M453.3 50.5h0M455.2 49.7h0M457.7 49.0h0M455.5 49.0h0M465.3 48.8h0M450.9 48.7h0M451.0 48.4h0M459.1 47.4h0M460.6 46.5h0M458.3 46.2h0M463.0 45.9h0M464.4 45.8h0M455.2 45.6h0M457.6 45.3h0M452.7 45.1h0M458.9 44.8h0M458.0 43.5h0M454.3 43.3h0M456.1 42.4h0M458.0 63.2h0M458.1 73.0h0" stroke="#4DBEEE" stroke-opacity="0.55" stroke-width="3.0" stroke-linecap="round"/>
<path d="M475.5 53.4h0M473.3 49.8h0M473.2 44.4h0M478.3 42.4h0M476.5 40.9h0" stroke="#77AC30" stroke-opacity="0.55" stroke-width="3.0" stroke-linecap="round"/>
<path d="M476.5 55.6h0M477.2 52.2h0M476.7 47.4h0M471.1 45.2h0" stroke="#77AC30" stroke-opacity="0.55" stroke-width="3.0" stroke-linecap="round"/>
<path d="M474.5 54.6h0M470.1 48.6h0M472.7 48.3h0M483.3 47.9h0M484.4 47.8h0M474.3 46.2h0M478.2 44.8h0M471.9 44.1h0M472.2 43.7h0M477.4 42.7h0" stroke="#77AC30" stroke-opacity="0.55" stroke-width="3.0" stroke-linecap="round"/>
<path d="M477.5 57.1h0M476.1 56.0h0M480.0 49.5h0M483.2 49.2h0M472.1 46.9h0M479.3 46.6h0M483.7 46.4h0M480.8 45.6h0M473.0 44.9h0M478.0 41.2h0M476.5 64.5h0" stroke="#77AC30" stroke-opacity="0.55" stroke-width="3.0" stroke-linecap="round"/>
<path d="M478.5 52.6h0M475.2 48.7h0M482.6 47.1h0M480.5 43.4h0M475.0 42.1h0" stroke="#77AC30" stroke-opacity="0.55" stroke-width="3.0" stroke-linecap="round"/>
<path d="M477.8 58.2h0M481.2 51.1h0M473.9 50.4h0M474.9 49.1h0M479.1 45.8h0M476.3 43.0h0" stroke="#77AC30" stroke-opacity="0.55" stroke-width="3.0" stroke-linecap="round"/>
<path d="M515.2 63.5h0M514.3 61.5h0M515.2 60.4h0M513.0 55.4h0M516.8 55.2h0M514.7 50.6h0M512.1 49.1h0M519.6 48.6h0M510.4 48.3h0M518.3 47.6h0M520.7 45.9h0M512.5 45.4h0M507.1 44.6h0M519.2 43.8h0M514.3 42.8h0M516.0 41.8h0M510.6 41.6h0M508.6 41.3h0M510.3 41.1h0" stroke="#4DBEEE" stroke-opacity="0.55" stroke-width="3.0" stroke-linecap="round"/>
<path d="M515.0 66.7h0M513.7 65.0h0M514.6 61.7h0M515.7 61.1h0M515.5 60.0h0M514.7 59.3h0M512.9 58.1h0M515.7 57.3h0M512.6 54.8h0M516.8 51.3h0M509.7 49.6h0M508.8 49.0h0M518.0 48.8h0M507.7 47.9h0M510.7 47.7h0M519.0 46.1h0M520.5 44.8h0M519.5 44.7h0M522.7 44.5h0M513.3 44.3h0M520.9 44.1h0M516.7 43.9h0M508.7 43.3h0M509.1 42.9h0M517.6 42.6h0M512.1 42.3h0M520.8 42.1h0M517.5 42.0h0M517.8 41.7h0M520.3 41.5h0M518.6 40.0h0M515.0 39.1h0" stroke="#4DBEEE" stroke-opacity="0.55" stroke-width="3.0" stroke-linecap="round"/>
<path d="M514.2 62.6h0M512.7 58.5h0M512.4 57.8h0M513.2 56.8h0M516.2 56.4h0M513.0 53.6h0M516.5 50.2h0M512.4 48.9h0M520.0 48.4h0M518.7 47.4h0M511.7 46.9h0M516.7 46.4h0M519.9 45.8h0M514.0 44.9h0M514.7 44.4h0M510.9 44.3h0M508.8 43.4h0M512.2 42.5h0M508.9 42.4h0M518.0 40.8h0M510.9 40.2h0M512.4 39.5h0M516.2 38.9h0" stroke="#4DBEEE" stroke-opacity="0.55" stroke-width="3.0" stroke-linecap="round"/>
<path d="M514.7 67.8h0M514.7 60.7h0M512.4 59.7h0M511.9 53.0h0M511.0 50.7h0M510.8 50.4h0M510.9 49.8h0M511.4 49.7h0M510.1 48.6h0M508.1 48.2h0M509.3 48.0h0M514.1 47.5h0M516.4 46.2h0M513.3 46.1h0M506.6 45.5h0M521.7 44.2h0M517.9 43.6h0M511.4 43.5h0M521.9 43.2h0M510.0 43.1h0M510.6 42.7h0M519.0 42.3h0M514.8 41.3h0M511.8 40.9h0M514.5 38.4h0" stroke="#4DBEEE" stroke-opacity="0.55" stroke-width="3.0" stroke-linecap="round"/>
<path d="M514.0 65.6h0M515.2 52.5h0M515.7 52.3h0M513.9 51.9h0M516.9 51.6h0M513.7 50.8h0M514.0 50.5h0M519.2 49.4h0M518.1 47.2h0M508.9 47.0h0M521.1 46.7h0M518.0 46.6h0M518.0 46.5h0M517.2 46.0h0M519.9 45.7h0M521.7 45.3h0M515.7 45.2h0M519.8 45.1h0M516.6 45.0h0M507.5 43.6h0M513.9 43.1h0M512.1 41.9h0M514.3 40.7h0M513.5 38.2h0" stroke="#4DBEEE" stroke-opacity="0.55" stroke-width="3.0" stroke-linecap="round"/>
<path d="M514.4 68.8h0M514.8 58.9h0M514.0 57.5h0M512.2 56.0h0M513.6 55.9h0M516.4 54.4h0M514.5 54.1h0M513.9 53.3h0M516.0 51.1h0M516.8 50.9h0M513.8 50.1h0M516.3 49.9h0M516.7 49.3h0M508.4 47.3h0M512.3 46.3h0M507.8 45.6h0M516.1 45.3h0M508.0 44.9h0M512.0 44.0h0M507.4 43.9h0M519.3 42.8h0M516.4 42.2h0M510.9 41.4h0M514.1 41.2h0M514.2 41.0h0M514.7 40.6h0" stroke="#4DBEEE" stroke-opacity="0.55" stroke-width="3.0" stroke-linecap="round"/>
<path d="M533.9 59.6h0M530.3 52.9h0M537.7 50.4h0M534.9 50.1h0M530.0 50.0h0M537.1 48.5h0M532.7 47.6h0M531.4 47.6h0M533.1 47.2h0M534.1 46.2h0M537.6 45.4h0M532.4 43.8h0M537.2 42.4h0M532.1 42.3h0" stroke="#DD6410" stroke-opacity="0.55" stroke-width="3.0" stroke-linecap="round"/>
<path d="M533.3 67.9h0M533.6 61.8h0M534.7 58.6h0M531.7 58.1h0M531.8 54.6h0M534.8 53.5h0M534.3 53.1h0M530.8 50.3h0M538.1 49.1h0M538.0 47.9h0M534.9 47.1h0M528.0 46.7h0M541.0 46.4h0M541.2 45.3h0M538.3 44.8h0M531.3 40.3h0" stroke="#DD6410" stroke-opacity="0.55" stroke-width="3.0" stroke-linecap="round"/>
<path d="M533.2 65.5h0M535.3 57.3h0M534.3 56.2h0M537.3 51.8h0M529.2 49.7h0M534.0 48.8h0M534.1 48.8h0M534.5 48.0h0M537.0 47.4h0M527.5 45.6h0M532.1 45.5h0M535.4 45.0h0M532.5 43.6h0M538.5 42.1h0M532.1 42.0h0M532.3 41.0h0" stroke="#DD6410" stroke-opacity="0.55" stroke-width="3.0" stroke-linecap="round"/>
<path d="M535.2 55.7h0M530.1 54.1h0M534.4 50.9h0M529.0 50.6h0M530.1 49.5h0M539.3 49.2h0M526.4 48.6h0M528.3 46.8h0M530.4 45.9h0M540.5 45.8h0M525.6 45.1h0M538.7 44.9h0M537.7 43.3h0M531.3 42.8h0M532.3 42.5h0M537.8 41.6h0M532.6 40.7h0" stroke="#DD6410" stroke-opacity="0.55" stroke-width="3.0" stroke-linecap="round"/>
<path d="M532.9 64.7h0M533.2 58.2h0M535.7 55.5h0M539.1 49.6h0M535.9 48.2h0M537.9 46.1h0M526.9 46.1h0M529.8 45.7h0M535.5 44.5h0M538.6 44.4h0M534.6 44.1h0M533.9 44.0h0" stroke="#DD6410" stroke-opacity="0.55" stroke-width="3.0" stroke-linecap="round"/>
<path d="M530.9 57.0h0M531.5 56.6h0M533.8 54.9h0M535.2 52.4h0M530.2 51.6h0M534.2 51.2h0M532.3 50.9h0M527.6 47.0h0M538.2 46.6h0M541.3 46.5h0M539.9 44.7h0M531.7 44.2h0M536.1 43.6h0M528.3 43.4h0M535.9 43.1h0M529.3 43.0h0M537.3 42.6h0" stroke="#DD6410" stroke-opacity="0.55" stroke-width="3.0" stroke-linecap="round"/>
<path d="M555.6 63.0h0M553.9 65.1h0M551.9 79.4h0" stroke="#4DBEEE" stroke-opacity="0.55" stroke-width="3.0" stroke-linecap="round"/>
<path d="M558.7 65.9h0M549.6 71.2h0M547.1 78.5h0" stroke="#4DBEEE" stroke-opacity="0.55" stroke-width="3.0" stroke-linecap="round"/>
<path d="M552.2 75.5h0" stroke="#4DBEEE" stroke-opacity="0.55" stroke-width="3.0" stroke-linecap="round"/>
<path d="M555.6 68.5h0" stroke="#4DBEEE" stroke-opacity="0.55" stroke-width="3.0" stroke-linecap="round"/>
<path d="M545.5 64.1h0" stroke="#4DBEEE" stroke-opacity="0.55" stroke-width="3.0" stroke-linecap="round"/>
<path d="M571.8 67.3h0M570.3 64.3h0M574.6 62.7h0M567.1 61.0h0M572.2 58.9h0M569.2 57.0h0M576.5 56.6h0M568.7 54.6h0M567.6 53.5h0M571.1 52.9h0M577.7 52.2h0M572.0 48.5h0M567.4 45.6h0M571.8 42.9h0M570.4 42.1h0M570.7 84.1h0" stroke="#77AC30" stroke-opacity="0.55" stroke-width="3.0" stroke-linecap="round"/>
<path d="M571.4 69.7h0M570.3 66.6h0M573.6 64.6h0M571.2 63.7h0M567.1 63.4h0M566.0 57.9h0M563.9 57.7h0M564.1 56.9h0M563.0 56.1h0M578.1 55.7h0M575.3 51.9h0M575.0 51.4h0M574.9 51.1h0M569.4 49.2h0M565.4 48.8h0M568.4 47.6h0M572.0 47.3h0M572.4 46.2h0" stroke="#77AC30" stroke-opacity="0.55" stroke-width="3.0" stroke-linecap="round"/>
<path d="M570.4 72.5h0M572.1 66.2h0M568.6 65.5h0M571.8 61.9h0M572.8 60.2h0M576.5 59.9h0M573.3 59.6h0M565.6 58.2h0M568.0 58.1h0M568.9 57.4h0M563.1 56.3h0M567.8 55.5h0M577.7 54.8h0M563.5 54.3h0M573.2 54.0h0M577.6 52.3h0M574.8 52.0h0M571.0 51.5h0M564.2 50.6h0M570.3 50.0h0M569.8 49.3h0M575.5 48.2h0M572.0 48.0h0M569.6 47.1h0M569.7 46.7h0" stroke="#77AC30" stroke-opacity="0.55" stroke-width="3.0" stroke-linecap="round"/>
<path d="M570.9 74.4h0M568.6 55.8h0M569.3 55.3h0M574.1 55.1h0M567.2 53.7h0M577.9 52.7h0M572.8 52.6h0M574.3 51.7h0" stroke="#77AC30" stroke-opacity="0.55" stroke-width="3.0" stroke-linecap="round"/>
<path d="M571.0 71.6h0M569.9 65.8h0M567.2 61.4h0M572.2 59.1h0M567.8 58.8h0M569.0 58.5h0M572.5 58.4h0M563.5 56.6h0M578.2 54.9h0M573.8 54.5h0M573.3 53.5h0M575.8 50.8h0M564.8 50.2h0M567.3 46.4h0" stroke="#77AC30" stroke-opacity="0.55" stroke-width="3.0" stroke-linecap="round"/>
<path d="M573.7 64.9h0M569.5 62.4h0M571.7 60.6h0M570.1 57.5h0M571.7 57.2h0M575.5 56.0h0M572.0 54.1h0M575.1 53.2h0M564.0 53.0h0M573.5 49.6h0M572.8 44.9h0M568.5 43.9h0" stroke="#77AC30" stroke-opacity="0.55" stroke-width="3.0" stroke-linecap="round"/>
<path d="M609.9 54.9h0M607.4 54.3h0M609.7 53.6h0M607.8 51.3h0M606.2 47.6h0M604.6 46.5h0M609.6 46.3h0M613.7 46.2h0M607.1 45.1h0M614.1 44.8h0M616.3 44.4h0M615.0 44.1h0M607.7 43.8h0M610.3 42.8h0M605.7 40.9h0M611.6 40.4h0" stroke="#4DBEEE" stroke-opacity="0.55" stroke-width="3.0" stroke-linecap="round"/>
<path d="M610.3 52.4h0M607.6 50.9h0M610.8 48.4h0M604.9 47.8h0M607.4 47.1h0M604.8 46.4h0M608.7 45.6h0M609.2 45.5h0M609.2 44.3h0M614.5 42.9h0M613.9 41.9h0M602.6 41.6h0M602.9 41.3h0M606.5 40.2h0M606.3 39.9h0" stroke="#4DBEEE" stroke-opacity="0.55" stroke-width="3.0" stroke-linecap="round"/>
<path d="M608.8 59.2h0M607.0 50.1h0M610.1 49.7h0M608.1 49.1h0M609.7 48.8h0M609.4 46.6h0M611.0 45.4h0M604.8 44.2h0M610.5 44.0h0M610.4 43.9h0M601.7 43.2h0M613.4 42.0h0M605.3 41.8h0M604.4 41.6h0" stroke="#4DBEEE" stroke-opacity="0.55" stroke-width="3.0" stroke-linecap="round"/>
<path d="M610.0 53.9h0M610.5 50.7h0M614.2 45.9h0M605.9 45.8h0M604.9 45.2h0M604.2 44.9h0M601.0 44.6h0M613.1 43.4h0M600.6 43.1h0M615.4 42.6h0M606.4 42.4h0M602.5 41.1h0M612.1 41.1h0" stroke="#4DBEEE" stroke-opacity="0.55" stroke-width="3.0" stroke-linecap="round"/>
<path d="M608.0 60.1h0M609.0 57.4h0M608.7 56.4h0M609.5 55.5h0M608.7 53.2h0M605.3 45.2h0M612.9 43.8h0M611.2 43.6h0M609.2 43.6h0M605.7 43.5h0M615.2 43.3h0M601.9 43.0h0M606.8 42.7h0M608.9 42.2h0M609.8 42.1h0M607.3 41.4h0M606.5 41.2h0M608.7 40.7h0" stroke="#4DBEEE" stroke-opacity="0.55" stroke-width="3.0" stroke-linecap="round"/>
<path d="M606.9 52.6h0M609.4 51.9h0M604.4 47.2h0M604.5 47.0h0M613.0 46.9h0M611.8 46.7h0M614.1 46.1h0M611.2 45.7h0M606.3 44.6h0M610.5 44.5h0M616.0 42.6h0M607.2 42.4h0M613.4 41.8h0M610.4 40.9h0M607.3 40.5h0M610.4 39.6h0" stroke="#4DBEEE" stroke-opacity="0.55" stroke-width="3.0" stroke-linecap="round"/>
<path d="M623.1 45.9h0M633.8 45.1h0M624.3 44.1h0M624.8 43.4h0M627.7 42.9h0M631.6 42.6h0M627.1 53.4h0" stroke="#DD6410" stroke-opacity="0.55" stroke-width="3.0" stroke-linecap="round"/>
<path d="M628.3 49.5h0M626.2 48.7h0M627.3 48.0h0M624.8 45.4h0M623.2 44.9h0M628.6 44.9h0M620.8 43.8h0M624.9 43.7h0M625.3 43.4h0M630.1 43.0h0M621.3 42.8h0M627.1 42.3h0M631.3 41.7h0M626.4 41.5h0" stroke="#DD6410" stroke-opacity="0.55" stroke-width="3.0" stroke-linecap="round"/>
<path d="M627.3 49.0h0M625.1 48.4h0M627.9 48.2h0M626.4 47.9h0M628.8 47.3h0M626.8 47.1h0M628.7 46.8h0M624.5 46.7h0M628.8 46.4h0M631.7 45.8h0M630.9 45.5h0M623.9 45.5h0M632.0 45.5h0M634.1 45.2h0M626.0 44.5h0M625.9 44.1h0M631.7 44.0h0M619.6 43.9h0M621.5 42.5h0M626.6 41.9h0M630.3 41.3h0" stroke="#DD6410" stroke-opacity="0.55" stroke-width="3.0" stroke-linecap="round"/>
<path d="M627.2 47.6h0M623.4 47.5h0M629.7 46.5h0M629.3 46.2h0M626.3 46.0h0M625.5 45.7h0M621.2 45.3h0M631.6 44.6h0M628.2 44.2h0M628.9 43.2h0M631.8 42.6h0M628.5 42.2h0M627.0 41.1h0" stroke="#DD6410" stroke-opacity="0.55" stroke-width="3.0" stroke-linecap="round"/>
<path d="M628.0 49.7h0M626.1 49.2h0M629.8 47.1h0M625.6 45.7h0M632.2 45.6h0M632.4 45.3h0M623.2 45.1h0M625.2 45.0h0M623.2 44.8h0M630.1 44.7h0M626.4 44.6h0M623.1 44.5h0M627.0 44.4h0M627.7 44.3h0M627.8 44.0h0M626.2 43.9h0M629.3 43.6h0M632.1 43.5h0M622.5 43.3h0M624.6 43.3h0M629.6 43.1h0M629.1 42.7h0M630.2 42.1h0M629.5 41.6h0M625.1 41.0h0M627.2 62.4h0" stroke="#DD6410" stroke-opacity="0.55" stroke-width="3.0" stroke-linecap="round"/>
<path d="M626.7 48.3h0M627.6 47.7h0M626.7 46.4h0M633.1 45.8h0M625.1 45.1h0M630.2 44.7h0M623.5 44.3h0M621.8 44.2h0M630.9 43.7h0M630.6 43.5h0M625.8 42.4h0M622.4 42.1h0M631.1 41.9h0" stroke="#DD6410" stroke-opacity="0.55" stroke-width="3.0" stroke-linecap="round"/>
<path d="M646.3 64.0h0M646.0 56.2h0M642.7 48.2h0M652.1 47.8h0M650.4 47.5h0M647.3 47.1h0M645.4 45.2h0M647.0 44.5h0M642.2 43.8h0" stroke="#4DBEEE" stroke-opacity="0.55" stroke-width="3.0" stroke-linecap="round"/>
<path d="M648.3 55.2h0M647.5 49.2h0M649.5 49.0h0M642.5 47.2h0M641.7 46.4h0M650.7 44.8h0M648.9 43.6h0M648.7 43.4h0M650.5 43.3h0M653.1 42.4h0" stroke="#4DBEEE" stroke-opacity="0.55" stroke-width="3.0" stroke-linecap="round"/>
<path d="M644.1 53.7h0M647.9 53.1h0M649.0 52.6h0M648.2 51.9h0M645.9 50.1h0M645.2 46.6h0M643.0 46.2h0M638.8 43.8h0M640.8 43.5h0M646.0 42.5h0M643.7 42.2h0M647.1 41.7h0M646.4 40.9h0M647.3 40.5h0M644.2 40.1h0" stroke="#4DBEEE" stroke-opacity="0.55" stroke-width="3.0" stroke-linecap="round"/>
<path d="M643.9 55.6h0M644.0 54.6h0M645.8 52.2h0M649.1 49.4h0M651.9 46.9h0M648.0 45.8h0M647.8 44.9h0M645.2 44.7h0M639.1 44.1h0M651.0 42.9h0M645.9 41.8h0" stroke="#4DBEEE" stroke-opacity="0.55" stroke-width="3.0" stroke-linecap="round"/>
<path d="M645.7 61.0h0M645.7 59.5h0M644.7 57.1h0M645.2 54.2h0M648.1 53.4h0M648.5 51.5h0M649.0 50.9h0M642.8 50.5h0M645.2 48.6h0M645.9 48.0h0M642.0 47.7h0M651.5 45.4h0M642.3 45.1h0M650.1 44.4h0M652.9 44.3h0M649.1 44.0h0M644.2 41.6h0M651.5 41.3h0M643.1 40.7h0" stroke="#4DBEEE" stroke-opacity="0.55" stroke-width="3.0" stroke-linecap="round"/>
<path d="M644.7 56.0h0M647.6 49.9h0M643.9 49.7h0M648.9 48.8h0M641.2 48.4h0M649.9 46.0h0M648.7 45.9h0M641.4 45.6h0M650.1 45.5h0M648.8 43.0h0M647.7 42.7h0M641.5 42.0h0M644.0 41.2h0M642.4 41.1h0M644.9 40.1h0M647.5 39.8h0" stroke="#4DBEEE" stroke-opacity="0.55" stroke-width="3.0" stroke-linecap="round"/>
<path d="M665.3 73.3h0M666.0 69.0h0M664.5 68.3h0M662.9 58.6h0M669.5 54.6h0M657.8 53.1h0M664.4 52.5h0M662.3 52.2h0M662.0 52.0h0M671.7 51.3h0M665.8 50.6h0M659.5 49.8h0M660.1 48.7h0M667.5 47.7h0" stroke="#77AC30" stroke-opacity="0.55" stroke-width="3.0" stroke-linecap="round"/>
<path d="M664.9 63.3h0M665.5 60.1h0M665.7 59.5h0M665.1 54.5h0M663.4 54.3h0M663.7 50.4h0M661.7 49.9h0M661.6 49.6h0M664.5 48.0h0M662.0 46.2h0M660.5 46.0h0" stroke="#77AC30" stroke-opacity="0.55" stroke-width="3.0" stroke-linecap="round"/>
<path d="M663.7 66.5h0M665.5 65.2h0M665.1 62.5h0M666.4 61.5h0M664.1 57.0h0M660.9 56.7h0M663.0 55.2h0M672.1 53.5h0M665.5 53.4h0M657.4 52.9h0M662.6 52.3h0M659.9 49.6h0M667.4 49.4h0M668.6 49.0h0M657.9 48.3h0M660.5 45.6h0M661.7 44.5h0M662.4 42.5h0" stroke="#77AC30" stroke-opacity="0.55" stroke-width="3.0" stroke-linecap="round"/>
<path d="M665.4 71.0h0M663.5 63.9h0M664.9 58.1h0M661.7 57.8h0M661.8 55.1h0M668.0 54.2h0M662.0 54.0h0M667.9 53.8h0M664.8 53.7h0M661.3 51.9h0M657.2 51.8h0M661.4 51.1h0M659.5 50.9h0M669.0 50.7h0M660.7 50.7h0M665.9 48.8h0M666.9 48.5h0M667.0 47.4h0M663.7 44.4h0M661.9 44.2h0M661.3 43.9h0M667.3 42.9h0" stroke="#77AC30" stroke-opacity="0.55" stroke-width="3.0" stroke-linecap="round"/>
<path d="M663.8 67.2h0M664.7 65.6h0M666.1 64.7h0M664.1 61.2h0M669.6 55.9h0M669.7 55.0h0M664.9 54.7h0M659.9 53.9h0M670.7 53.3h0M662.5 52.9h0M666.3 51.3h0M659.1 51.1h0M662.6 50.3h0M670.8 50.1h0M665.0 50.0h0M668.6 49.2h0M660.1 47.8h0M662.6 47.1h0M665.9 47.0h0M667.4 46.7h0M664.9 46.4h0M668.8 45.8h0M661.8 45.3h0M660.7 44.8h0M666.8 43.7h0" stroke="#77AC30" stroke-opacity="0.55" stroke-width="3.0" stroke-linecap="round"/>
<path d="M665.1 72.7h0M663.0 63.0h0M665.7 60.6h0M664.0 54.9h0M670.1 52.7h0M666.5 52.5h0M667.7 51.6h0M661.6 51.6h0M666.3 49.2h0M668.1 49.0h0M667.5 45.1h0M662.6 43.2h0M663.7 42.1h0" stroke="#77AC30" stroke-opacity="0.55" stroke-width="3.0" stroke-linecap="round"/>
<path d="M423.2 22.3H460.8" stroke="#555" stroke-width="1"/>
<text x="442" y="24.3" text-anchor="middle" class="s">**</text>
<path d="M442 29.4H479.6" stroke="#555" stroke-width="1"/>
<text transform="translate(460.8 28.5) scale(0.96 1.2)" text-anchor="middle" class="s">ns</text>
<path d="M423.2 37.2H442" stroke="#555" stroke-width="1"/>
<text transform="translate(432.6 36.3) scale(0.96 1.2)" text-anchor="middle" class="s">ns</text>
<path d="M460.8 37.2H479.6" stroke="#555" stroke-width="1"/>
<text transform="translate(470.2 36.3) scale(0.96 1.2)" text-anchor="middle" class="s">ns</text>
<path d="M517.2 22.3H554.8" stroke="#555" stroke-width="1"/>
<text x="536" y="24.3" text-anchor="middle" class="s">***</text>
<path d="M536 29.4H573.6" stroke="#555" stroke-width="1"/>
<text x="554.8" y="31.4" text-anchor="middle" class="s">***</text>
<path d="M517.2 37.2H536" stroke="#555" stroke-width="1"/>
<text x="526.6" y="35.9" text-anchor="middle" class="s">**</text>
<path d="M554.8 37.2H573.6" stroke="#555" stroke-width="1"/>
<text transform="translate(564.2 36.3) scale(0.96 1.2)" text-anchor="middle" class="s">ns</text>
<path d="M611.2 22.3H648.8" stroke="#555" stroke-width="1"/>
<text transform="translate(630 21.4) scale(0.96 1.2)" text-anchor="middle" class="s">ns</text>
<path d="M630 29.4H667.6" stroke="#555" stroke-width="1"/>
<text x="648.8" y="31.4" text-anchor="middle" class="s">***</text>
<path d="M611.2 37.2H630" stroke="#555" stroke-width="1"/>
<text transform="translate(620.6 36.3) scale(0.96 1.2)" text-anchor="middle" class="s">ns</text>
<path d="M648.8 37.2H667.6" stroke="#555" stroke-width="1"/>
<text x="658.2" y="39.2" text-anchor="middle" class="s">***</text>
<path d="M401.6 138.7V215.9H683.6" fill="none" stroke="#c2c2c2" stroke-width="1"/>
<path d="M401.6 215.9h3" stroke="#c2c2c2" stroke-width="1"/>
<text x="398.4" y="219.4" text-anchor="end" class="k">0</text>
<path d="M401.6 183.5h3" stroke="#c2c2c2" stroke-width="1"/>
<text x="398.4" y="187" text-anchor="end" class="k">0.5</text>
<path d="M401.6 151.1h3" stroke="#c2c2c2" stroke-width="1"/>
<text x="398.4" y="154.6" text-anchor="end" class="k">1</text>
<path d="M429.8 215.9v-2.5" stroke="#c2c2c2" stroke-width="1"/>
<text x="429.8" y="228.3" text-anchor="middle" class="k">3</text>
<path d="M467.4 215.9v-2.5" stroke="#c2c2c2" stroke-width="1"/>
<text x="467.4" y="228.3" text-anchor="middle" class="k">4</text>
<path d="M523.8 215.9v-2.5" stroke="#c2c2c2" stroke-width="1"/>
<text x="523.8" y="228.3" text-anchor="middle" class="k">3</text>
<path d="M561.4 215.9v-2.5" stroke="#c2c2c2" stroke-width="1"/>
<text x="561.4" y="228.3" text-anchor="middle" class="k">4</text>
<path d="M617.8 215.9v-2.5" stroke="#c2c2c2" stroke-width="1"/>
<text x="617.8" y="228.3" text-anchor="middle" class="k">3</text>
<path d="M655.4 215.9v-2.5" stroke="#c2c2c2" stroke-width="1"/>
<text x="655.4" y="228.3" text-anchor="middle" class="k">4</text>
<text transform="translate(370.3 177.3) rotate(-90)" text-anchor="middle" class="t">Fraction of</text>
<text transform="translate(381.8 177.3) rotate(-90)" text-anchor="middle" class="t">NAD(P)H-rich pixels</text>
<path d="M420.5 179.0h0M420.2 185.8h0M424.8 194.9h0M420.4 211.4h0" stroke="#4DBEEE" stroke-opacity="0.55" stroke-width="3.0" stroke-linecap="round"/>
<path d="M422.3 196.3h0M412.1 212.1h0" stroke="#4DBEEE" stroke-opacity="0.55" stroke-width="3.0" stroke-linecap="round"/>
<path d="M422.1 186.1h0M416.2 194.4h0M426.5 194.1h0M419.0 210.0h0M423.1 215.5h0M428.6 214.5h0" stroke="#4DBEEE" stroke-opacity="0.55" stroke-width="3.0" stroke-linecap="round"/>
<path d="M418.0 189.4h0M421.0 190.2h0M421.7 188.4h0M414.9 191.1h0M413.8 213.4h0M427.2 211.4h0" stroke="#4DBEEE" stroke-opacity="0.55" stroke-width="3.0" stroke-linecap="round"/>
<path d="M418.2 196.6h0M414.2 208.6h0M417.3 209.0h0M417.6 215.5h0M425.5 213.8h0" stroke="#4DBEEE" stroke-opacity="0.55" stroke-width="3.0" stroke-linecap="round"/>
<path d="M414.5 207.3h0" stroke="#4DBEEE" stroke-opacity="0.55" stroke-width="3.0" stroke-linecap="round"/>
<path d="M439.2 188.7h0M435.8 209.9h0M430.6 210.0h0M433.9 212.4h0" stroke="#DD6410" stroke-opacity="0.55" stroke-width="3.0" stroke-linecap="round"/>
<path d="M439.6 179.5h0M439.2 192.3h0" stroke="#DD6410" stroke-opacity="0.55" stroke-width="3.0" stroke-linecap="round"/>
<path d="M432.0 206.9h0M438.5 208.8h0M442.2 212.7h0M443.0 215.0h0" stroke="#DD6410" stroke-opacity="0.55" stroke-width="3.0" stroke-linecap="round"/>
<path d="M435.1 200.5h0M440.8 203.7h0M441.8 206.9h0" stroke="#DD6410" stroke-opacity="0.55" stroke-width="3.0" stroke-linecap="round"/>
<path d="M444.2 201.9h0M445.4 212.6h0" stroke="#DD6410" stroke-opacity="0.55" stroke-width="3.0" stroke-linecap="round"/>
<path d="M454.6 215.6h0M460.6 209.8h0M460.3 207.0h0M462.2 206.2h0M463.4 205.8h0M456.4 201.3h0M458.2 200.9h0M461.7 198.4h0M456.2 196.8h0M458.5 193.9h0M459.9 193.0h0M458.1 191.6h0M453.2 190.0h0M455.8 189.7h0M460.0 185.5h0M455.6 185.3h0M450.5 184.5h0M450.0 182.8h0M462.2 182.1h0M453.7 180.8h0M450.6 180.5h0M455.1 180.0h0M451.5 175.5h0M454.8 171.3h0M456.7 170.2h0" stroke="#4DBEEE" stroke-opacity="0.55" stroke-width="3.0" stroke-linecap="round"/>
<path d="M461.0 214.8h0M463.2 211.5h0M463.4 201.6h0M458.5 199.8h0M457.3 198.9h0M456.3 197.5h0M465.0 197.1h0M457.1 193.5h0M455.5 193.2h0M460.8 191.7h0M458.0 190.8h0M461.9 187.4h0M464.2 178.5h0M452.5 176.4h0M453.6 175.8h0M455.3 173.7h0M461.7 169.5h0M461.5 168.0h0M459.8 167.8h0M458.6 159.9h0M456.7 158.9h0" stroke="#4DBEEE" stroke-opacity="0.55" stroke-width="3.0" stroke-linecap="round"/>
<path d="M462.9 211.2h0M452.0 209.4h0M456.2 208.9h0M456.4 204.8h0M462.6 204.5h0M461.9 201.9h0M461.2 200.2h0M457.6 195.2h0M462.2 195.0h0M459.9 194.6h0M459.0 192.4h0M458.1 192.2h0M465.1 187.7h0M451.4 184.9h0M459.2 180.3h0M465.8 177.0h0M457.1 174.0h0M455.8 172.5h0M456.9 171.6h0M459.9 169.0h0M455.5 168.4h0M454.1 167.4h0M461.2 166.7h0M455.8 162.3h0M457.1 156.6h0" stroke="#4DBEEE" stroke-opacity="0.55" stroke-width="3.0" stroke-linecap="round"/>
<path d="M459.5 215.8h0M457.9 213.0h0M454.2 211.8h0M454.6 208.3h0M454.2 205.3h0M461.4 203.6h0M462.4 202.8h0M462.7 202.5h0M462.4 200.5h0M453.9 199.0h0M464.5 195.9h0M463.4 194.1h0M461.1 191.1h0M454.9 189.3h0M465.2 188.3h0M466.2 186.4h0M454.7 186.3h0M457.5 181.6h0M462.0 181.1h0M456.4 179.5h0M451.7 179.3h0M461.1 178.9h0M461.9 178.4h0M454.3 177.8h0M456.3 176.7h0M462.9 176.2h0M462.1 173.0h0M454.9 172.3h0M455.6 166.9h0" stroke="#4DBEEE" stroke-opacity="0.55" stroke-width="3.0" stroke-linecap="round"/>
<path d="M456.2 215.0h0M453.7 214.3h0M461.7 213.6h0M462.2 212.7h0M453.7 212.4h0M460.3 210.5h0M456.1 210.2h0M462.4 208.5h0M453.2 207.6h0M455.5 206.7h0M455.4 203.2h0M464.0 198.1h0M452.0 195.6h0M462.4 190.3h0M464.1 189.1h0M459.3 188.7h0M464.5 187.0h0M462.1 185.9h0M459.0 183.7h0M450.3 182.9h0M459.3 182.3h0M451.0 174.8h0M457.4 174.5h0M458.8 173.3h0M459.9 172.0h0M455.5 169.8h0M456.9 161.2h0" stroke="#4DBEEE" stroke-opacity="0.55" stroke-width="3.0" stroke-linecap="round"/>
<path d="M460.7 215.3h0M454.9 214.4h0M461.3 213.8h0M457.9 207.3h0M458.0 203.9h0M451.2 199.5h0M465.2 197.7h0M453.2 196.3h0M458.9 188.1h0M454.7 186.8h0M449.9 184.2h0M458.8 183.9h0M451.5 183.5h0M464.6 181.7h0M452.1 178.1h0M453.2 177.4h0M456.1 175.1h0M463.7 170.9h0M454.3 170.5h0M462.6 168.7h0M457.5 165.1h0M455.6 163.6h0" stroke="#4DBEEE" stroke-opacity="0.55" stroke-width="3.0" stroke-linecap="round"/>
<path d="M472.0 184.9h0M479.8 200.8h0M471.0 203.1h0M471.0 210.8h0" stroke="#77AC30" stroke-opacity="0.55" stroke-width="3.0" stroke-linecap="round"/>
<path d="M473.2 177.8h0M472.0 186.9h0M469.6 190.4h0M474.7 211.9h0" stroke="#77AC30" stroke-opacity="0.55" stroke-width="3.0" stroke-linecap="round"/>
<path d="M477.1 167.6h0M476.9 175.8h0M472.0 190.1h0M471.7 194.3h0M474.3 194.8h0M484.9 202.2h0M477.1 209.6h0" stroke="#77AC30" stroke-opacity="0.55" stroke-width="3.0" stroke-linecap="round"/>
<path d="M476.3 162.8h0M478.2 173.0h0M481.2 179.3h0M479.8 185.0h0M469.5 184.9h0M481.5 194.8h0M477.1 204.3h0M483.6 205.5h0M483.6 207.3h0M472.9 211.0h0" stroke="#77AC30" stroke-opacity="0.55" stroke-width="3.0" stroke-linecap="round"/>
<path d="M478.9 183.7h0M481.5 186.4h0M476.6 206.4h0M476.6 215.2h0" stroke="#77AC30" stroke-opacity="0.55" stroke-width="3.0" stroke-linecap="round"/>
<path d="M477.1 183.0h0M474.7 188.3h0M476.3 196.6h0M484.5 201.3h0M468.7 205.3h0M473.8 204.5h0M475.9 208.2h0M480.3 215.5h0" stroke="#77AC30" stroke-opacity="0.55" stroke-width="3.0" stroke-linecap="round"/>
<path d="M518.4 215.3h0M519.3 213.5h0M513.5 213.3h0M522.3 211.1h0M506.2 210.9h0M509.8 207.0h0M515.6 206.5h0M509.5 206.1h0M510.1 205.9h0M514.1 205.1h0M511.3 201.9h0M509.9 199.2h0M515.9 198.1h0M514.3 192.0h0M514.4 186.9h0M515.0 179.2h0M512.5 178.4h0M514.4 164.2h0" stroke="#4DBEEE" stroke-opacity="0.55" stroke-width="3.0" stroke-linecap="round"/>
<path d="M515.3 215.7h0M508.9 214.6h0M516.6 209.7h0M507.0 209.4h0M522.4 207.7h0M512.1 202.4h0M508.3 200.5h0M517.5 199.4h0M516.0 196.4h0M518.4 195.6h0M511.4 194.7h0M518.3 192.7h0M512.6 191.4h0M513.4 188.2h0M511.3 186.1h0M513.9 184.1h0M514.6 182.9h0M515.1 181.9h0M515.5 175.2h0" stroke="#4DBEEE" stroke-opacity="0.55" stroke-width="3.0" stroke-linecap="round"/>
<path d="M513.1 215.8h0M519.0 215.6h0M512.5 215.4h0M516.1 215.1h0M510.8 215.0h0M520.1 213.8h0M511.7 212.5h0M514.1 211.9h0M512.8 208.5h0M517.4 206.7h0M520.3 205.4h0M520.0 204.1h0M520.8 203.6h0M510.4 203.4h0M513.1 200.1h0M510.9 198.8h0M512.2 197.6h0M514.5 197.4h0M515.1 196.7h0M518.6 196.0h0M518.2 195.2h0M509.4 194.4h0M510.4 192.8h0M517.3 188.8h0M512.4 187.2h0M516.8 184.8h0M512.9 177.9h0M515.0 177.1h0M514.2 173.8h0M514.8 172.0h0" stroke="#4DBEEE" stroke-opacity="0.55" stroke-width="3.0" stroke-linecap="round"/>
<path d="M515.0 215.5h0M510.6 215.3h0M518.4 214.8h0M514.8 214.0h0M512.9 210.4h0M514.8 209.5h0M506.5 209.2h0M515.2 208.3h0M516.2 207.5h0M509.6 207.3h0M518.1 207.1h0M507.3 204.7h0M518.4 199.9h0M515.9 198.7h0M518.4 194.0h0M516.8 193.1h0M518.1 191.6h0M514.8 191.1h0M511.7 189.8h0M510.6 187.8h0M511.9 185.9h0M512.5 185.1h0M512.0 183.4h0M514.9 182.4h0M515.7 176.9h0M512.5 176.4h0M514.8 166.2h0" stroke="#4DBEEE" stroke-opacity="0.55" stroke-width="3.0" stroke-linecap="round"/>
<path d="M508.9 214.4h0M511.6 214.3h0M518.3 214.2h0M508.1 212.8h0M506.7 212.2h0M521.5 212.0h0M516.6 211.6h0M513.4 211.0h0M509.5 210.7h0M510.3 210.3h0M506.6 209.0h0M517.5 208.0h0M506.7 206.2h0M513.0 204.8h0M518.7 203.1h0M512.5 202.6h0M509.2 197.8h0M511.2 195.5h0M510.5 193.5h0M514.7 189.5h0M511.8 180.6h0M514.9 180.1h0M515.1 170.3h0M513.5 168.6h0" stroke="#4DBEEE" stroke-opacity="0.55" stroke-width="3.0" stroke-linecap="round"/>
<path d="M512.5 215.8h0M517.1 213.9h0M521.4 213.6h0M515.1 213.1h0M507.0 213.0h0M513.5 212.7h0M514.8 212.4h0M509.0 211.7h0M515.6 211.4h0M517.7 211.3h0M514.2 210.0h0M517.5 208.9h0M512.7 208.2h0M512.5 205.7h0M517.6 205.2h0M510.2 204.4h0M512.6 204.0h0M511.1 203.8h0M512.7 203.0h0M511.2 201.7h0M511.5 201.5h0M513.9 201.0h0M513.7 200.8h0M516.4 197.0h0M517.2 194.3h0M514.1 192.3h0M511.0 190.5h0M515.9 181.5h0M514.8 180.8h0M514.4 178.8h0M514.9 167.7h0" stroke="#4DBEEE" stroke-opacity="0.55" stroke-width="3.0" stroke-linecap="round"/>
<path d="M539.9 209.2h0M530.6 205.1h0M540.5 203.9h0M531.8 196.8h0M530.0 195.3h0M532.0 195.1h0M537.1 188.6h0M537.2 188.0h0M529.7 187.5h0M534.7 176.2h0M530.9 169.6h0M533.8 166.4h0" stroke="#DD6410" stroke-opacity="0.55" stroke-width="3.0" stroke-linecap="round"/>
<path d="M535.1 212.6h0M539.2 212.2h0M534.9 211.8h0M538.0 200.6h0M534.2 197.9h0M529.4 186.1h0M534.8 180.6h0M536.0 179.3h0M529.8 177.3h0M532.9 170.0h0M534.2 165.0h0" stroke="#DD6410" stroke-opacity="0.55" stroke-width="3.0" stroke-linecap="round"/>
<path d="M529.4 214.3h0M539.6 211.5h0M534.9 210.9h0M531.8 210.3h0M528.8 210.0h0M530.6 208.5h0M533.4 204.2h0M528.4 203.3h0M526.9 201.7h0M536.6 201.3h0M532.1 197.4h0M533.5 193.5h0M527.9 192.6h0M539.2 191.3h0M534.5 186.7h0M537.1 181.1h0M532.4 175.8h0M530.5 174.5h0M537.0 172.7h0M532.9 172.4h0" stroke="#DD6410" stroke-opacity="0.55" stroke-width="3.0" stroke-linecap="round"/>
<path d="M533.8 215.7h0M535.3 215.0h0M537.6 211.2h0M538.4 207.5h0M534.3 207.0h0M529.6 206.4h0M525.2 204.7h0M535.1 203.7h0M541.0 202.7h0M540.7 199.6h0M530.1 194.3h0M534.1 190.3h0M533.0 189.8h0M531.4 185.4h0M530.6 180.1h0M537.9 178.3h0M536.6 178.0h0M532.7 174.8h0M530.0 173.9h0" stroke="#DD6410" stroke-opacity="0.55" stroke-width="3.0" stroke-linecap="round"/>
<path d="M537.5 214.4h0M539.3 208.8h0M537.1 208.2h0M533.8 207.9h0M525.3 206.7h0M530.4 205.7h0M539.4 202.6h0M529.1 199.8h0M535.1 195.8h0M529.5 190.8h0M529.0 186.3h0M533.1 184.4h0M528.0 183.9h0M529.6 182.4h0M529.6 182.1h0M534.3 161.7h0" stroke="#DD6410" stroke-opacity="0.55" stroke-width="3.0" stroke-linecap="round"/>
<path d="M537.3 215.4h0M531.0 213.9h0M529.2 213.4h0M527.5 213.0h0M540.0 209.6h0M529.4 206.0h0M539.5 202.1h0M530.4 201.1h0M531.2 200.2h0M538.8 199.0h0M535.6 198.7h0M532.9 198.3h0M535.7 197.7h0M529.6 196.3h0M539.2 194.1h0M528.3 192.8h0M536.9 191.8h0M532.4 189.5h0M535.8 189.1h0M534.0 184.8h0M533.1 183.1h0M530.7 171.3h0M532.9 170.8h0M534.6 168.0h0M534.4 163.2h0" stroke="#DD6410" stroke-opacity="0.55" stroke-width="3.0" stroke-linecap="round"/>
<path d="M552.2 156.0h0M555.7 161.7h0M548.6 165.0h0" stroke="#4DBEEE" stroke-opacity="0.55" stroke-width="3.0" stroke-linecap="round"/>
<path d="M551.7 159.1h0M557.9 163.0h0" stroke="#4DBEEE" stroke-opacity="0.55" stroke-width="3.0" stroke-linecap="round"/>
<path d="M549.1 157.3h0" stroke="#4DBEEE" stroke-opacity="0.55" stroke-width="3.0" stroke-linecap="round"/>
<path d="M556.4 162.6h0" stroke="#4DBEEE" stroke-opacity="0.55" stroke-width="3.0" stroke-linecap="round"/>
<path d="M553.9 160.2h0" stroke="#4DBEEE" stroke-opacity="0.55" stroke-width="3.0" stroke-linecap="round"/>
<path d="M544.3 158.0h0" stroke="#4DBEEE" stroke-opacity="0.55" stroke-width="3.0" stroke-linecap="round"/>
<path d="M568.1 191.5h0M573.9 188.8h0M573.3 184.5h0M573.7 180.8h0M568.5 178.2h0M572.8 171.8h0M577.1 168.3h0M574.5 167.0h0M566.9 163.6h0M575.9 162.7h0M567.7 159.4h0M571.8 157.1h0M573.2 155.0h0" stroke="#77AC30" stroke-opacity="0.55" stroke-width="3.0" stroke-linecap="round"/>
<path d="M571.6 204.4h0M573.3 193.2h0M573.8 190.5h0M569.3 189.6h0M569.2 187.8h0M569.0 185.4h0M572.7 177.0h0M576.7 175.1h0M568.8 173.9h0M571.6 173.2h0M576.2 168.8h0M578.0 167.9h0M574.6 167.1h0M564.9 166.4h0M570.0 165.0h0M578.8 164.8h0M574.4 161.1h0M577.7 160.6h0M565.4 160.5h0M574.4 160.2h0" stroke="#77AC30" stroke-opacity="0.55" stroke-width="3.0" stroke-linecap="round"/>
<path d="M574.4 185.8h0M569.9 182.8h0M571.3 177.7h0M573.4 175.7h0M574.0 171.0h0M576.6 163.8h0M570.8 162.8h0M574.0 162.3h0M575.0 161.3h0M577.3 158.1h0M574.8 156.8h0M567.5 154.5h0" stroke="#77AC30" stroke-opacity="0.55" stroke-width="3.0" stroke-linecap="round"/>
<path d="M570.5 201.7h0M569.2 198.4h0M570.2 196.0h0M568.1 176.5h0M571.6 176.1h0M568.8 174.1h0M567.3 168.2h0M572.9 167.6h0M573.5 166.5h0M565.0 163.3h0M570.7 161.7h0M573.2 159.7h0M572.7 158.4h0M572.9 157.4h0M572.8 156.5h0M566.1 155.8h0M574.8 155.3h0" stroke="#77AC30" stroke-opacity="0.55" stroke-width="3.0" stroke-linecap="round"/>
<path d="M568.4 194.0h0M569.8 186.6h0M573.6 183.3h0M567.3 181.4h0M567.4 179.8h0M567.7 179.0h0M568.3 173.0h0M573.1 170.5h0M565.4 169.8h0M572.3 166.0h0M578.7 165.7h0M569.9 164.2h0M577.3 159.1h0M570.7 158.7h0" stroke="#77AC30" stroke-opacity="0.55" stroke-width="3.0" stroke-linecap="round"/>
<path d="M570.6 212.9h0M570.3 208.4h0M573.1 195.0h0M569.1 192.3h0M569.5 179.6h0M574.9 178.8h0M569.9 174.8h0M569.5 172.3h0M574.2 171.3h0M573.5 169.6h0M566.4 169.1h0M576.2 165.3h0M577.4 164.5h0M567.7 162.0h0M571.3 157.8h0M566.8 156.3h0" stroke="#77AC30" stroke-opacity="0.55" stroke-width="3.0" stroke-linecap="round"/>
<path d="M613.0 215.3h0M604.6 215.0h0M600.6 206.1h0M611.9 197.9h0M604.9 193.7h0M603.7 193.4h0M611.4 191.9h0M605.0 186.1h0M608.4 182.7h0M606.6 177.6h0M607.7 173.2h0M608.9 167.7h0" stroke="#4DBEEE" stroke-opacity="0.55" stroke-width="3.0" stroke-linecap="round"/>
<path d="M606.1 215.8h0M611.6 213.2h0M604.4 211.4h0M602.0 209.7h0M611.1 209.4h0M615.5 208.0h0M614.7 207.6h0M600.6 207.1h0M607.0 205.1h0M606.3 203.9h0M615.7 200.9h0M610.3 199.3h0M613.5 198.9h0M613.6 197.1h0M601.8 194.9h0M613.6 191.0h0M610.8 188.8h0M608.0 184.1h0M609.2 181.0h0M605.3 179.6h0M607.9 176.4h0M610.9 174.1h0" stroke="#4DBEEE" stroke-opacity="0.55" stroke-width="3.0" stroke-linecap="round"/>
<path d="M605.8 215.7h0M607.8 215.6h0M609.2 215.5h0M613.8 214.5h0M606.0 214.4h0M611.9 213.6h0M606.9 212.0h0M601.3 211.0h0M601.8 210.4h0M607.6 206.3h0M604.4 203.6h0M616.1 203.4h0M609.6 200.6h0M604.0 199.5h0M608.3 196.9h0M607.6 196.0h0M602.6 194.3h0M603.5 194.2h0M602.2 193.1h0M612.3 182.2h0M605.3 181.6h0M610.9 175.1h0M610.2 171.4h0" stroke="#4DBEEE" stroke-opacity="0.55" stroke-width="3.0" stroke-linecap="round"/>
<path d="M611.3 215.4h0M605.0 212.7h0M607.4 210.1h0M604.5 209.0h0M603.6 208.6h0M605.7 208.4h0M601.8 206.6h0M610.0 205.3h0M606.1 202.2h0M614.6 199.7h0M602.7 195.2h0M605.5 192.6h0M609.7 192.3h0M608.1 191.5h0M609.5 189.6h0M605.1 189.1h0M610.9 185.6h0M611.2 180.0h0M608.4 170.6h0M608.9 165.4h0" stroke="#4DBEEE" stroke-opacity="0.55" stroke-width="3.0" stroke-linecap="round"/>
<path d="M609.1 214.0h0M606.9 213.1h0M610.3 212.5h0M608.4 211.8h0M610.0 209.9h0M611.5 205.6h0M602.7 204.6h0M615.7 204.2h0M612.3 203.0h0M613.3 200.2h0M612.8 198.5h0M605.5 196.3h0M603.0 190.6h0M611.7 187.6h0M610.1 184.6h0M607.8 183.4h0M610.2 178.7h0M607.3 176.9h0M608.8 169.1h0" stroke="#4DBEEE" stroke-opacity="0.55" stroke-width="3.0" stroke-linecap="round"/>
<path d="M608.3 214.8h0M607.7 213.8h0M615.0 212.2h0M614.5 211.2h0M606.5 210.8h0M605.1 207.4h0M609.1 202.5h0M613.2 201.9h0M611.5 201.6h0M614.3 201.2h0M607.8 197.6h0M612.9 195.5h0M612.9 190.2h0M603.2 189.8h0M611.0 187.8h0M606.3 186.7h0M610.7 178.0h0M611.5 175.6h0" stroke="#4DBEEE" stroke-opacity="0.55" stroke-width="3.0" stroke-linecap="round"/>
<path d="M631.6 215.7h0M631.0 215.5h0M631.1 215.3h0M633.8 214.2h0M628.3 213.4h0M628.0 213.2h0M622.9 212.4h0M628.4 211.7h0M629.2 204.9h0M622.9 202.6h0M629.3 200.7h0M629.8 199.0h0M626.1 198.6h0M628.5 192.1h0M627.1 190.2h0M628.8 187.0h0" stroke="#DD6410" stroke-opacity="0.55" stroke-width="3.0" stroke-linecap="round"/>
<path d="M625.4 214.8h0M628.9 214.1h0M625.1 212.9h0M625.8 212.2h0M627.7 211.4h0M624.5 210.4h0M628.3 208.2h0M628.8 206.4h0M626.5 204.1h0M623.5 203.7h0M629.2 200.1h0M626.4 198.0h0M630.6 197.0h0M624.2 193.9h0M626.8 193.4h0M625.9 191.8h0M628.7 187.9h0M628.7 185.5h0" stroke="#DD6410" stroke-opacity="0.55" stroke-width="3.0" stroke-linecap="round"/>
<path d="M623.3 214.7h0M620.4 213.7h0M624.0 213.5h0M625.3 212.1h0M623.9 210.9h0M620.8 210.7h0M621.7 210.2h0M630.8 209.1h0M631.4 208.6h0M625.9 208.4h0M632.4 208.0h0M632.8 205.2h0M624.7 203.6h0M621.6 201.9h0M632.8 201.6h0M626.2 201.3h0M625.2 199.9h0M627.7 199.6h0M624.5 197.5h0M623.3 196.4h0M627.1 195.1h0M628.8 193.0h0M627.6 189.0h0" stroke="#DD6410" stroke-opacity="0.55" stroke-width="3.0" stroke-linecap="round"/>
<path d="M632.1 215.8h0M625.6 215.5h0M622.8 213.8h0M628.9 213.0h0M626.2 212.5h0M620.1 210.0h0M625.1 209.9h0M628.5 205.8h0M621.8 204.3h0M630.0 200.4h0M631.5 195.8h0M626.3 189.4h0" stroke="#DD6410" stroke-opacity="0.55" stroke-width="3.0" stroke-linecap="round"/>
<path d="M629.8 215.2h0M626.2 215.0h0M631.3 214.6h0M620.0 214.0h0M633.8 212.7h0M620.2 209.3h0M634.0 207.0h0M625.9 206.6h0M620.1 206.1h0M625.8 202.9h0M631.4 198.3h0M631.3 195.4h0M625.0 192.6h0M626.4 183.3h0" stroke="#DD6410" stroke-opacity="0.55" stroke-width="3.0" stroke-linecap="round"/>
<path d="M629.6 214.5h0M621.9 211.8h0M619.2 211.2h0M619.7 209.7h0M622.8 208.8h0M621.1 207.8h0M620.0 207.5h0M625.0 207.2h0M625.1 206.9h0M629.4 205.5h0M629.4 204.8h0M621.8 203.2h0M624.8 202.1h0M625.3 201.2h0M626.5 199.2h0M625.7 194.4h0M627.5 191.2h0M629.1 190.9h0M628.1 189.7h0M626.7 183.9h0" stroke="#DD6410" stroke-opacity="0.55" stroke-width="3.0" stroke-linecap="round"/>
<path d="M644.9 215.5h0M651.9 213.6h0M638.8 211.3h0M648.3 210.3h0M646.2 208.5h0M638.7 205.1h0M643.7 204.2h0M647.1 200.0h0M650.6 195.1h0M641.2 194.8h0M642.6 191.5h0M641.6 187.3h0M643.9 180.7h0M649.3 177.5h0M644.4 173.1h0M645.3 162.9h0" stroke="#4DBEEE" stroke-opacity="0.55" stroke-width="3.0" stroke-linecap="round"/>
<path d="M640.0 212.0h0M639.5 211.8h0M647.0 211.0h0M641.7 207.3h0M653.6 206.8h0M644.5 199.2h0M645.3 186.4h0M646.7 182.0h0M645.0 178.5h0M648.2 171.3h0M647.1 160.9h0" stroke="#4DBEEE" stroke-opacity="0.55" stroke-width="3.0" stroke-linecap="round"/>
<path d="M650.4 215.2h0M642.1 212.6h0M652.8 210.2h0M639.2 209.8h0M640.0 208.2h0M647.1 203.0h0M640.6 202.3h0M652.4 200.5h0M646.1 198.6h0M639.5 197.7h0M652.9 197.3h0M647.6 197.1h0M646.3 195.4h0M647.2 189.1h0M641.4 185.6h0M643.1 181.3h0M641.2 179.0h0M645.6 166.5h0" stroke="#4DBEEE" stroke-opacity="0.55" stroke-width="3.0" stroke-linecap="round"/>
<path d="M646.4 215.0h0M643.2 214.7h0M645.0 213.0h0M649.2 212.3h0M649.3 209.1h0M643.4 207.7h0M647.3 205.4h0M648.5 203.7h0M645.0 203.1h0M640.6 193.2h0M639.2 190.3h0M640.5 189.7h0M650.5 188.0h0M646.5 185.1h0M646.6 182.7h0M643.0 175.5h0M646.5 173.6h0M647.2 164.2h0" stroke="#4DBEEE" stroke-opacity="0.55" stroke-width="3.0" stroke-linecap="round"/>
<path d="M646.2 215.7h0M651.7 214.1h0M643.9 213.9h0M650.4 210.7h0M652.8 205.9h0M652.4 201.8h0M640.7 199.8h0M642.8 198.4h0M640.0 196.2h0M652.2 194.3h0M641.6 193.9h0M649.9 192.7h0M641.4 192.4h0M651.6 191.9h0M640.1 190.9h0M647.7 190.7h0M649.4 188.8h0M646.1 188.2h0M650.6 186.1h0M647.7 177.3h0M646.7 176.1h0M643.9 175.0h0" stroke="#4DBEEE" stroke-opacity="0.55" stroke-width="3.0" stroke-linecap="round"/>
<path d="M639.9 214.6h0M651.3 213.3h0M649.8 209.6h0M649.6 208.7h0M650.6 206.5h0M650.0 204.6h0M643.1 201.5h0M651.7 201.1h0M646.2 196.3h0M650.0 187.0h0M640.9 184.8h0M642.0 184.2h0M644.3 183.3h0M650.9 179.6h0M650.0 174.0h0M649.2 172.4h0M647.7 170.9h0M644.4 169.5h0" stroke="#4DBEEE" stroke-opacity="0.55" stroke-width="3.0" stroke-linecap="round"/>
<path d="M664.0 210.3h0M664.2 205.0h0M659.3 189.0h0M660.7 186.2h0M669.0 185.8h0M669.5 181.3h0M657.9 180.6h0M660.1 180.3h0M657.8 172.6h0M668.6 169.2h0M665.8 166.4h0M667.1 165.0h0M667.3 162.8h0M666.1 161.3h0" stroke="#77AC30" stroke-opacity="0.55" stroke-width="3.0" stroke-linecap="round"/>
<path d="M663.7 200.3h0M663.7 197.5h0M661.8 193.1h0M666.6 192.0h0M658.2 187.7h0M663.8 186.7h0M671.2 184.0h0M671.3 183.6h0M669.7 182.6h0M672.2 178.0h0M670.3 176.1h0M661.3 174.7h0M662.0 173.8h0M656.6 173.1h0M667.6 172.1h0M666.6 170.8h0M661.8 170.4h0M668.8 169.6h0M665.6 168.9h0M668.4 167.4h0M659.8 165.8h0M667.9 163.7h0" stroke="#77AC30" stroke-opacity="0.55" stroke-width="3.0" stroke-linecap="round"/>
<path d="M664.9 212.0h0M663.8 208.2h0M668.3 200.8h0M667.9 198.9h0M669.0 196.5h0M669.9 193.9h0M668.8 190.7h0M667.9 186.9h0M662.7 185.5h0M659.2 184.9h0M672.3 183.2h0M671.1 181.2h0M670.7 179.6h0M657.5 178.7h0M659.3 177.7h0M663.5 176.4h0M662.4 173.4h0M659.6 172.3h0M671.4 168.0h0" stroke="#77AC30" stroke-opacity="0.55" stroke-width="3.0" stroke-linecap="round"/>
<path d="M662.1 202.0h0M660.5 198.2h0M669.3 195.0h0M666.4 191.3h0M663.1 189.7h0M666.7 185.1h0M668.8 184.5h0M672.7 175.4h0M667.6 175.0h0M666.6 169.9h0M666.7 165.5h0" stroke="#77AC30" stroke-opacity="0.55" stroke-width="3.0" stroke-linecap="round"/>
<path d="M664.0 206.8h0M666.2 202.5h0M663.1 201.2h0M661.0 199.8h0M660.0 190.0h0M664.9 188.7h0M670.0 188.2h0M658.6 181.7h0M664.4 180.0h0M664.2 179.2h0M668.6 178.3h0M670.1 177.1h0M667.0 175.8h0M665.1 171.5h0M663.1 171.1h0M662.0 170.1h0M661.7 167.5h0M659.1 167.1h0M658.9 166.0h0M664.1 164.5h0M668.4 164.2h0" stroke="#77AC30" stroke-opacity="0.55" stroke-width="3.0" stroke-linecap="round"/>
<path d="M666.8 197.1h0M668.7 195.9h0M665.8 194.5h0M662.7 192.5h0M666.5 189.3h0M669.5 187.5h0M658.0 182.9h0M660.7 182.0h0M672.3 176.8h0M668.2 174.4h0M672.3 168.5h0M672.4 168.3h0M671.8 166.6h0M663.2 164.9h0M663.7 162.4h0M663.5 161.7h0" stroke="#77AC30" stroke-opacity="0.55" stroke-width="3.0" stroke-linecap="round"/>
<path d="M423.2 132.4H460.8" stroke="#555" stroke-width="1"/>
<text x="442" y="134.4" text-anchor="middle" class="s">***</text>
<path d="M442 140.1H479.6" stroke="#555" stroke-width="1"/>
<text transform="translate(460.8 139.2) scale(0.96 1.2)" text-anchor="middle" class="s">ns</text>
<path d="M423.2 148.3H442" stroke="#555" stroke-width="1"/>
<text transform="translate(432.6 147.4) scale(0.96 1.2)" text-anchor="middle" class="s">ns</text>
<path d="M460.8 148.3H479.6" stroke="#555" stroke-width="1"/>
<text transform="translate(470.2 147.4) scale(0.96 1.2)" text-anchor="middle" class="s">ns</text>
<path d="M517.2 132.4H554.8" stroke="#555" stroke-width="1"/>
<text x="536" y="134.4" text-anchor="middle" class="s">***</text>
<path d="M536 140.1H573.6" stroke="#555" stroke-width="1"/>
<text x="554.8" y="142.1" text-anchor="middle" class="s">***</text>
<path d="M517.2 148.3H536" stroke="#555" stroke-width="1"/>
<text x="526.6" y="150.3" text-anchor="middle" class="s">*</text>
<path d="M554.8 148.3H573.6" stroke="#555" stroke-width="1"/>
<text transform="translate(564.2 147.4) scale(0.96 1.2)" text-anchor="middle" class="s">ns</text>
<path d="M611.2 132.4H648.8" stroke="#555" stroke-width="1"/>
<text transform="translate(630 131.5) scale(0.96 1.2)" text-anchor="middle" class="s">ns</text>
<path d="M630 140.1H667.6" stroke="#555" stroke-width="1"/>
<text x="648.8" y="142.1" text-anchor="middle" class="s">***</text>
<path d="M611.2 148.3H630" stroke="#555" stroke-width="1"/>
<text transform="translate(620.6 147.4) scale(0.96 1.2)" text-anchor="middle" class="s">ns</text>
<path d="M648.8 148.3H667.6" stroke="#555" stroke-width="1"/>
<text x="658.2" y="150.3" text-anchor="middle" class="s">***</text>
<path d="M401.6 249.5V326.9H683.6" fill="none" stroke="#c2c2c2" stroke-width="1"/>
<path d="M401.6 326.9h3" stroke="#c2c2c2" stroke-width="1"/>
<text x="398.4" y="330.4" text-anchor="end" class="k">0</text>
<path d="M401.6 288.2h3" stroke="#c2c2c2" stroke-width="1"/>
<text x="398.4" y="291.7" text-anchor="end" class="k">1</text>
<path d="M401.6 249.5h3" stroke="#c2c2c2" stroke-width="1"/>
<text x="398.4" y="253" text-anchor="end" class="k">2</text>
<path d="M429.8 326.9v-2.5" stroke="#c2c2c2" stroke-width="1"/>
<text x="429.8" y="339.3" text-anchor="middle" class="k">3</text>
<path d="M467.4 326.9v-2.5" stroke="#c2c2c2" stroke-width="1"/>
<text x="467.4" y="339.3" text-anchor="middle" class="k">4</text>
<path d="M523.8 326.9v-2.5" stroke="#c2c2c2" stroke-width="1"/>
<text x="523.8" y="339.3" text-anchor="middle" class="k">3</text>
<path d="M561.4 326.9v-2.5" stroke="#c2c2c2" stroke-width="1"/>
<text x="561.4" y="339.3" text-anchor="middle" class="k">4</text>
<path d="M617.8 326.9v-2.5" stroke="#c2c2c2" stroke-width="1"/>
<text x="617.8" y="339.3" text-anchor="middle" class="k">3</text>
<path d="M655.4 326.9v-2.5" stroke="#c2c2c2" stroke-width="1"/>
<text x="655.4" y="339.3" text-anchor="middle" class="k">4</text>
<text transform="translate(389.3 288.2) rotate(-90)" text-anchor="middle" class="t">EV density (EVs/mm<tspan dy="-4.3" font-size="8.5">2</tspan><tspan dy="4.3">)</tspan></text>
<text x="402.5" y="248" class="t" style="font-size:9.5px">×</text><text x="409.3" y="247" class="t">10</text><text x="419.5" y="242.4" class="t" style="font-size:6.6px">4</text>
<path d="M420.8 326.3h0M421.5 325.9h0M414.9 325.8h0M425.2 325.8h0M420.9 325.3h0" stroke="#4DBEEE" stroke-opacity="0.55" stroke-width="3.0" stroke-linecap="round"/>
<path d="M413.4 326.8h0M414.4 326.6h0M427.9 326.5h0M425.3 326.4h0M414.9 326.1h0M422.6 325.1h0" stroke="#4DBEEE" stroke-opacity="0.55" stroke-width="3.0" stroke-linecap="round"/>
<path d="M415.1 326.7h0M420.9 326.6h0M426.1 326.1h0M418.2 325.5h0" stroke="#4DBEEE" stroke-opacity="0.55" stroke-width="3.0" stroke-linecap="round"/>
<path d="M420.7 326.5h0M420.1 325.7h0M424.4 325.6h0" stroke="#4DBEEE" stroke-opacity="0.55" stroke-width="3.0" stroke-linecap="round"/>
<path d="M422.6 326.7h0M426.0 326.3h0M423.4 325.9h0" stroke="#4DBEEE" stroke-opacity="0.55" stroke-width="3.0" stroke-linecap="round"/>
<path d="M419.7 326.4h0M412.3 326.2h0M415.7 326.0h0M418.2 325.5h0" stroke="#4DBEEE" stroke-opacity="0.55" stroke-width="3.0" stroke-linecap="round"/>
<path d="M436.6 324.1h0M438.5 323.6h0M443.6 321.8h0" stroke="#DD6410" stroke-opacity="0.55" stroke-width="3.0" stroke-linecap="round"/>
<path d="M434.4 323.9h0" stroke="#DD6410" stroke-opacity="0.55" stroke-width="3.0" stroke-linecap="round"/>
<path d="M440.8 326.7h0M435.2 325.7h0M446.3 325.1h0M435.1 324.8h0M444.6 323.3h0M433.2 322.2h0" stroke="#DD6410" stroke-opacity="0.55" stroke-width="3.0" stroke-linecap="round"/>
<path d="M442.1 325.6h0M435.1 325.4h0M437.6 323.0h0" stroke="#DD6410" stroke-opacity="0.55" stroke-width="3.0" stroke-linecap="round"/>
<path d="M444.7 326.0h0M446.7 324.3h0M438.6 322.8h0M441.2 322.4h0" stroke="#DD6410" stroke-opacity="0.55" stroke-width="3.0" stroke-linecap="round"/>
<path d="M431.7 324.5h0" stroke="#DD6410" stroke-opacity="0.55" stroke-width="3.0" stroke-linecap="round"/>
<path d="M462.1 326.8h0M456.7 326.7h0M455.7 326.5h0M456.3 326.4h0M456.3 326.3h0M450.4 326.1h0M450.3 326.1h0M451.1 326.0h0M456.8 325.9h0M462.5 325.8h0M450.1 325.6h0M451.1 325.2h0M458.1 325.2h0M452.7 325.1h0M452.4 325.0h0M459.9 324.9h0M451.6 324.9h0M450.0 324.7h0M465.2 324.3h0M462.3 323.9h0M453.7 323.6h0M460.2 323.2h0M456.9 319.6h0M458.0 305.6h0" stroke="#4DBEEE" stroke-opacity="0.55" stroke-width="3.0" stroke-linecap="round"/>
<path d="M454.3 326.4h0M459.9 326.2h0M465.5 326.2h0M459.9 326.0h0M459.2 325.9h0M465.7 325.7h0M456.3 325.5h0M461.1 325.4h0M465.8 325.2h0M462.1 324.9h0M451.6 324.7h0M465.8 324.6h0M452.1 324.5h0M465.5 324.4h0M456.6 324.2h0M458.6 324.1h0M459.5 323.7h0M458.9 322.7h0M458.1 295.6h0" stroke="#4DBEEE" stroke-opacity="0.55" stroke-width="3.0" stroke-linecap="round"/>
<path d="M457.8 326.8h0M460.0 326.8h0M456.9 326.6h0M453.0 326.6h0M463.8 326.5h0M459.7 326.4h0M454.7 326.4h0M454.7 326.3h0M454.2 326.3h0M455.6 326.3h0M460.7 326.2h0M462.8 326.2h0M458.0 326.1h0M466.0 325.8h0M454.4 325.8h0M457.2 325.8h0M455.0 325.6h0M456.6 325.5h0M461.8 325.5h0M458.6 325.1h0M465.5 325.0h0M466.0 324.7h0M454.4 323.8h0M455.6 322.9h0M462.5 322.8h0M456.4 322.5h0M459.8 322.3h0M461.1 322.0h0M461.9 321.9h0" stroke="#4DBEEE" stroke-opacity="0.55" stroke-width="3.0" stroke-linecap="round"/>
<path d="M458.6 326.8h0M456.5 326.7h0M464.8 326.7h0M459.5 326.5h0M454.9 326.3h0M452.3 326.2h0M463.9 325.9h0M449.9 325.4h0M464.2 324.9h0M454.3 324.8h0M450.1 324.8h0M451.4 324.6h0M458.6 324.6h0M455.6 324.4h0M462.0 324.2h0M454.4 323.6h0M459.6 323.4h0M461.2 323.4h0M464.0 323.3h0M454.7 322.4h0M460.8 322.2h0M455.6 321.9h0M459.0 320.6h0M458.6 320.1h0M457.9 293.2h0M458.0 283.6h0" stroke="#4DBEEE" stroke-opacity="0.55" stroke-width="3.0" stroke-linecap="round"/>
<path d="M451.9 326.9h0M462.3 326.7h0M458.1 326.6h0M465.3 326.6h0M459.6 326.5h0M451.4 326.1h0M460.4 326.0h0M458.4 325.9h0M461.7 325.8h0M450.5 325.7h0M450.0 325.7h0M450.9 325.7h0M452.1 325.6h0M464.0 325.6h0M450.5 325.5h0M452.4 325.5h0M454.1 325.4h0M451.2 325.4h0M453.3 325.3h0M457.1 325.3h0M462.3 325.3h0M452.5 325.1h0M456.3 324.5h0M461.1 324.4h0M460.1 324.1h0M459.6 323.1h0M459.2 323.0h0M461.4 322.1h0M458.5 321.4h0M457.5 320.9h0M457.6 319.0h0M457.8 315.0h0M458.0 310.1h0M457.9 300.6h0" stroke="#4DBEEE" stroke-opacity="0.55" stroke-width="3.0" stroke-linecap="round"/>
<path d="M464.4 326.9h0M458.7 326.7h0M456.9 326.6h0M451.6 326.4h0M456.7 326.3h0M453.7 326.1h0M460.3 326.0h0M451.5 326.0h0M454.4 325.7h0M464.9 325.6h0M455.3 325.4h0M451.2 325.0h0M459.3 324.8h0M457.8 324.5h0M455.2 324.4h0M450.6 324.3h0M457.8 324.2h0M452.7 324.0h0M453.3 322.7h0M457.8 322.6h0M457.8 317.4h0M457.9 312.7h0" stroke="#4DBEEE" stroke-opacity="0.55" stroke-width="3.0" stroke-linecap="round"/>
<path d="M476.9 282.2h0M474.7 298.7h0M480.7 314.0h0M481.9 316.9h0M479.0 321.1h0M482.8 324.1h0M472.2 324.1h0" stroke="#77AC30" stroke-opacity="0.55" stroke-width="3.0" stroke-linecap="round"/>
<path d="M476.0 279.7h0M478.4 307.3h0M469.7 316.1h0M484.1 322.0h0M476.0 324.5h0" stroke="#77AC30" stroke-opacity="0.55" stroke-width="3.0" stroke-linecap="round"/>
<path d="M476.4 293.0h0M481.5 308.7h0" stroke="#77AC30" stroke-opacity="0.55" stroke-width="3.0" stroke-linecap="round"/>
<path d="M476.4 300.0h0M474.7 302.9h0M477.7 309.7h0M470.9 314.1h0M485.3 319.9h0M471.8 322.8h0M476.9 323.3h0" stroke="#77AC30" stroke-opacity="0.55" stroke-width="3.0" stroke-linecap="round"/>
<path d="M476.7 288.4h0M475.3 297.0h0M474.7 313.5h0M470.5 318.6h0M480.7 319.0h0" stroke="#77AC30" stroke-opacity="0.55" stroke-width="3.0" stroke-linecap="round"/>
<path d="M478.5 312.3h0M473.0 319.9h0M481.9 325.8h0" stroke="#77AC30" stroke-opacity="0.55" stroke-width="3.0" stroke-linecap="round"/>
<path d="M510.1 326.8h0M519.0 326.7h0M517.5 326.6h0M513.2 326.6h0M507.2 326.4h0M513.0 326.4h0M516.3 326.4h0M519.8 326.4h0M519.8 326.2h0M514.9 326.0h0M514.6 325.9h0M509.0 325.6h0M511.3 325.5h0M517.6 325.4h0M510.6 325.1h0M511.1 324.8h0M514.6 324.7h0M517.3 324.5h0" stroke="#4DBEEE" stroke-opacity="0.55" stroke-width="3.0" stroke-linecap="round"/>
<path d="M519.1 326.9h0M521.1 326.8h0M508.4 326.7h0M507.8 326.7h0M514.9 326.7h0M509.0 326.6h0M521.3 326.6h0M509.8 326.4h0M515.6 326.3h0M518.4 326.3h0M519.6 326.0h0M508.0 325.9h0M512.5 325.8h0M507.1 325.6h0M515.0 325.2h0M515.0 324.2h0M515.6 324.1h0" stroke="#4DBEEE" stroke-opacity="0.55" stroke-width="3.0" stroke-linecap="round"/>
<path d="M508.0 326.9h0M512.2 326.9h0M509.8 326.8h0M513.7 326.8h0M520.9 326.5h0M509.3 326.5h0M513.8 326.3h0M516.5 326.2h0M521.9 326.1h0M506.5 326.0h0M509.8 325.7h0M509.1 325.6h0M509.9 325.0h0M516.3 324.6h0M513.2 324.0h0M512.9 323.9h0M514.3 322.3h0M514.4 319.8h0" stroke="#4DBEEE" stroke-opacity="0.55" stroke-width="3.0" stroke-linecap="round"/>
<path d="M518.6 326.8h0M514.2 326.8h0M507.6 326.6h0M512.4 326.5h0M520.9 326.3h0M519.0 326.1h0M515.3 326.1h0M511.9 325.9h0M516.1 325.8h0M519.8 325.8h0M516.5 325.8h0M522.0 325.7h0M517.6 325.7h0M510.2 325.6h0M517.9 324.9h0M514.9 324.0h0" stroke="#4DBEEE" stroke-opacity="0.55" stroke-width="3.0" stroke-linecap="round"/>
<path d="M511.2 326.7h0M507.3 326.7h0M516.2 326.7h0M509.8 326.6h0M511.1 326.6h0M510.2 326.6h0M507.2 326.5h0M519.8 326.5h0M518.0 326.5h0M508.9 326.4h0M520.8 326.4h0M521.1 326.4h0M520.9 326.3h0M518.4 326.3h0M518.8 326.2h0M506.4 326.2h0M512.5 325.9h0M520.9 325.8h0M519.9 325.7h0M521.6 325.5h0M517.4 325.3h0M512.6 324.8h0M514.6 324.5h0M516.9 324.4h0M517.6 324.2h0M515.5 323.7h0M513.7 322.6h0M514.3 321.4h0" stroke="#4DBEEE" stroke-opacity="0.55" stroke-width="3.0" stroke-linecap="round"/>
<path d="M510.8 326.7h0M511.7 326.6h0M510.9 326.5h0M521.5 326.3h0M510.9 326.2h0M506.6 326.2h0M519.2 326.2h0M509.3 326.1h0M520.3 326.1h0M521.6 326.1h0M510.0 326.0h0M508.5 326.0h0M511.4 325.8h0M516.6 325.6h0M518.9 325.1h0M513.1 324.4h0M514.6 320.5h0" stroke="#4DBEEE" stroke-opacity="0.55" stroke-width="3.0" stroke-linecap="round"/>
<path d="M535.8 325.7h0M527.9 325.0h0M532.7 324.1h0M531.4 323.6h0M525.9 323.0h0M528.3 322.4h0M540.0 321.2h0M531.7 319.7h0M529.7 319.5h0M528.4 319.2h0M534.9 318.7h0M532.5 315.2h0M536.9 314.3h0M538.0 313.1h0M539.4 311.8h0M528.4 311.4h0M530.0 304.4h0M531.8 302.2h0M533.5 282.8h0" stroke="#DD6410" stroke-opacity="0.55" stroke-width="3.0" stroke-linecap="round"/>
<path d="M535.7 326.4h0M539.1 324.6h0M533.4 324.3h0M538.1 323.9h0M532.2 321.0h0M527.7 318.4h0M532.0 317.3h0M530.7 317.2h0M530.8 314.9h0M534.0 314.8h0M529.3 307.3h0M530.9 300.6h0M533.6 299.7h0M532.9 294.0h0" stroke="#DD6410" stroke-opacity="0.55" stroke-width="3.0" stroke-linecap="round"/>
<path d="M534.2 324.8h0M539.7 323.2h0M533.7 322.7h0M535.9 321.8h0M529.1 319.4h0M533.9 317.5h0M541.1 316.5h0M529.6 315.7h0M533.5 313.6h0M537.8 312.2h0M530.1 310.1h0M538.0 307.8h0M529.2 305.6h0M537.1 304.1h0M532.2 301.3h0M535.4 298.4h0M533.2 289.0h0" stroke="#DD6410" stroke-opacity="0.55" stroke-width="3.0" stroke-linecap="round"/>
<path d="M529.4 322.3h0M534.0 321.6h0M528.1 318.8h0M534.0 318.3h0M537.1 317.7h0M534.0 316.2h0M536.6 313.8h0M534.3 312.7h0M535.3 311.0h0M537.1 309.6h0M529.9 309.3h0M536.5 308.9h0M528.7 307.0h0M533.3 303.6h0M534.5 290.8h0" stroke="#DD6410" stroke-opacity="0.55" stroke-width="3.0" stroke-linecap="round"/>
<path d="M530.5 326.8h0M535.9 326.0h0M531.6 325.5h0M540.0 322.1h0M527.0 321.4h0M526.7 320.7h0M539.0 320.1h0M539.4 318.0h0M529.2 316.8h0M529.9 315.9h0M532.3 315.6h0M536.2 314.1h0M527.2 312.8h0M536.4 312.0h0M536.9 310.8h0M531.9 310.6h0M532.5 309.9h0M536.0 308.7h0M533.8 308.3h0M533.4 306.4h0M531.0 305.1h0M535.5 300.0h0M534.6 296.6h0M533.2 264.6h0" stroke="#DD6410" stroke-opacity="0.55" stroke-width="3.0" stroke-linecap="round"/>
<path d="M531.4 326.5h0M536.0 326.1h0M527.8 325.2h0M529.3 323.3h0M534.0 320.4h0M526.4 320.2h0M531.9 316.6h0M533.4 308.0h0M531.2 302.9h0M530.8 301.8h0M530.7 298.9h0M532.9 297.7h0M530.6 297.1h0M534.0 296.3h0M533.2 294.9h0M533.9 292.1h0" stroke="#DD6410" stroke-opacity="0.55" stroke-width="3.0" stroke-linecap="round"/>
<path d="M545.3 321.1h0M555.0 326.6h0" stroke="#4DBEEE" stroke-opacity="0.55" stroke-width="3.0" stroke-linecap="round"/>
<path d="M556.4 322.9h0M545.8 325.5h0" stroke="#4DBEEE" stroke-opacity="0.55" stroke-width="3.0" stroke-linecap="round"/>
<path d="M553.7 316.7h0M549.1 321.3h0M552.0 325.1h0" stroke="#4DBEEE" stroke-opacity="0.55" stroke-width="3.0" stroke-linecap="round"/>
<path d="M551.5 320.9h0M553.9 324.6h0" stroke="#4DBEEE" stroke-opacity="0.55" stroke-width="3.0" stroke-linecap="round"/>
<path d="M554.6 325.5h0" stroke="#4DBEEE" stroke-opacity="0.55" stroke-width="3.0" stroke-linecap="round"/>
<path d="M569.5 322.4h0M564.9 314.8h0M573.2 314.1h0M571.9 310.4h0M571.2 309.6h0M576.6 308.7h0M567.4 308.3h0M577.9 308.0h0M574.1 302.6h0M571.2 301.9h0M572.6 300.5h0M569.5 298.3h0M575.1 297.6h0M568.0 292.4h0M567.4 289.4h0M567.9 287.1h0" stroke="#77AC30" stroke-opacity="0.55" stroke-width="3.0" stroke-linecap="round"/>
<path d="M570.5 324.6h0M566.9 320.9h0M567.7 320.4h0M566.8 317.2h0M569.1 316.3h0M569.3 314.5h0M574.8 311.7h0M563.0 310.1h0M573.3 306.3h0M569.2 305.8h0M573.5 305.6h0M574.3 303.7h0M568.6 303.6h0M568.8 302.3h0M576.6 301.6h0M567.0 301.1h0M575.6 300.3h0M569.6 299.7h0M565.6 298.9h0M564.9 297.1h0M567.6 296.3h0M565.6 295.2h0M570.7 279.2h0M570.3 270.4h0" stroke="#77AC30" stroke-opacity="0.55" stroke-width="3.0" stroke-linecap="round"/>
<path d="M569.5 319.6h0M573.5 319.2h0M572.0 317.7h0M571.8 313.2h0M574.8 311.9h0M571.3 311.0h0M578.1 308.9h0M565.3 307.3h0M571.8 306.5h0M570.8 304.9h0M563.0 304.7h0M566.9 304.5h0M573.2 301.5h0M569.6 298.2h0M567.5 291.9h0M572.5 284.4h0" stroke="#77AC30" stroke-opacity="0.55" stroke-width="3.0" stroke-linecap="round"/>
<path d="M568.7 321.9h0M574.8 321.6h0M566.2 318.8h0M566.7 318.0h0M566.4 315.4h0M577.1 312.5h0M568.0 312.3h0M573.3 311.2h0M569.6 307.2h0M566.9 303.1h0M569.1 293.7h0M571.2 289.6h0M573.5 286.6h0M572.1 285.2h0M570.6 283.4h0" stroke="#77AC30" stroke-opacity="0.55" stroke-width="3.0" stroke-linecap="round"/>
<path d="M568.6 325.2h0M569.6 324.0h0M572.2 323.4h0M568.8 323.0h0M574.6 320.0h0M568.2 312.9h0M578.0 309.9h0M572.8 305.4h0M568.8 304.0h0M563.5 303.0h0M566.7 299.4h0M565.8 295.8h0M567.2 290.3h0M573.9 288.4h0M571.1 285.6h0M570.5 276.8h0" stroke="#77AC30" stroke-opacity="0.55" stroke-width="3.0" stroke-linecap="round"/>
<path d="M571.1 326.0h0M567.6 316.8h0M572.4 315.8h0M575.2 313.3h0M566.3 310.7h0M570.5 309.2h0M577.6 307.6h0M568.9 306.8h0M567.5 300.7h0M566.2 299.9h0M573.4 298.6h0M571.1 294.2h0M572.5 293.0h0M572.8 291.2h0M573.4 287.8h0M571.0 273.3h0" stroke="#77AC30" stroke-opacity="0.55" stroke-width="3.0" stroke-linecap="round"/>
<path d="M606.8 326.8h0M611.2 326.5h0M612.7 326.3h0M603.5 326.2h0M604.6 326.1h0M612.7 326.0h0M604.1 325.8h0M614.4 325.7h0M611.5 325.4h0M607.2 325.3h0M602.0 325.2h0M604.5 324.1h0M606.5 323.9h0" stroke="#4DBEEE" stroke-opacity="0.55" stroke-width="3.0" stroke-linecap="round"/>
<path d="M611.1 326.9h0M604.7 326.8h0M609.4 326.7h0M607.3 326.6h0M604.9 326.5h0M607.1 326.4h0M602.6 326.4h0M604.8 326.2h0M602.5 326.0h0M607.6 326.0h0M614.3 325.8h0M613.6 325.5h0M607.0 325.5h0M606.5 325.1h0M611.8 324.3h0M606.5 323.7h0M610.3 323.5h0M608.7 323.3h0M606.7 323.1h0M607.8 323.0h0" stroke="#4DBEEE" stroke-opacity="0.55" stroke-width="3.0" stroke-linecap="round"/>
<path d="M601.7 326.9h0M607.4 326.6h0M601.4 326.6h0M605.1 326.4h0M614.0 325.8h0M616.3 325.7h0M607.4 325.6h0M610.8 325.0h0M609.5 324.6h0M603.8 324.6h0M608.3 323.6h0M608.4 318.4h0" stroke="#4DBEEE" stroke-opacity="0.55" stroke-width="3.0" stroke-linecap="round"/>
<path d="M612.8 326.6h0M606.4 326.6h0M614.9 326.3h0M611.7 326.0h0M601.9 325.9h0M602.3 325.7h0M610.9 325.6h0M606.2 325.4h0M613.7 325.3h0M605.1 325.3h0M613.5 325.2h0M613.9 324.7h0M605.0 324.2h0M608.6 321.5h0M608.4 320.9h0" stroke="#4DBEEE" stroke-opacity="0.55" stroke-width="3.0" stroke-linecap="round"/>
<path d="M610.6 326.8h0M602.9 326.8h0M613.5 326.7h0M608.5 326.7h0M611.0 326.7h0M613.4 326.5h0M609.6 326.4h0M602.6 326.3h0M611.0 326.2h0M612.8 326.1h0M615.5 325.7h0M614.2 325.5h0M602.5 325.2h0M608.2 323.4h0M608.7 319.5h0" stroke="#4DBEEE" stroke-opacity="0.55" stroke-width="3.0" stroke-linecap="round"/>
<path d="M613.8 326.8h0M605.6 326.7h0M608.8 326.7h0M610.2 326.7h0M607.4 326.6h0M615.0 326.6h0M606.4 326.5h0M606.9 326.4h0M607.6 326.3h0M606.5 326.2h0M611.1 326.1h0M609.6 325.9h0M615.6 325.9h0M605.0 325.4h0M604.8 324.9h0M605.7 324.4h0M604.9 323.9h0" stroke="#4DBEEE" stroke-opacity="0.55" stroke-width="3.0" stroke-linecap="round"/>
<path d="M633.1 325.8h0M624.2 325.7h0M621.8 323.7h0M629.4 322.8h0M621.0 319.8h0M629.5 313.8h0M621.2 313.2h0M624.4 303.6h0M632.7 303.0h0M626.7 302.0h0M627.3 301.0h0M628.5 300.4h0M628.5 298.6h0M625.1 291.0h0M628.4 288.5h0M626.9 272.4h0" stroke="#DD6410" stroke-opacity="0.55" stroke-width="3.0" stroke-linecap="round"/>
<path d="M627.6 324.8h0M620.4 324.1h0M624.6 323.5h0M622.1 323.3h0M624.1 322.9h0M626.3 320.6h0M621.4 319.5h0M625.6 318.3h0M619.4 316.5h0M632.9 312.6h0M623.1 310.6h0M621.1 309.8h0M629.8 309.5h0M625.2 307.8h0M630.9 301.4h0M632.4 300.8h0M631.1 299.9h0M630.7 298.3h0M629.3 297.2h0M628.8 294.3h0M627.9 293.3h0M628.3 285.7h0M626.3 276.2h0" stroke="#DD6410" stroke-opacity="0.55" stroke-width="3.0" stroke-linecap="round"/>
<path d="M626.5 326.5h0M622.3 326.1h0M628.3 326.0h0M620.9 324.4h0M628.6 322.5h0M619.5 320.1h0M633.9 312.3h0M631.4 311.1h0M632.3 309.2h0M629.6 308.5h0M622.5 307.4h0M621.8 307.0h0M624.2 306.8h0M629.0 305.3h0M629.1 305.0h0M624.5 304.4h0M632.4 302.4h0M625.1 290.0h0M628.5 282.6h0M627.6 280.2h0M626.1 278.5h0" stroke="#DD6410" stroke-opacity="0.55" stroke-width="3.0" stroke-linecap="round"/>
<path d="M633.1 321.5h0M627.1 321.2h0M628.9 317.3h0M629.6 316.8h0M623.9 315.3h0M629.3 315.1h0M625.9 314.6h0M633.0 313.9h0M624.3 311.8h0M620.8 311.5h0M631.7 295.5h0M625.9 295.3h0M627.3 264.2h0M627.2 252.6h0" stroke="#DD6410" stroke-opacity="0.55" stroke-width="3.0" stroke-linecap="round"/>
<path d="M624.5 326.8h0M626.4 324.0h0M630.3 322.4h0M630.7 320.9h0M619.5 319.3h0M630.8 319.0h0M634.8 318.7h0M635.0 318.0h0M620.8 317.7h0M627.5 314.3h0M623.0 311.0h0M624.9 308.9h0M622.1 308.1h0M626.4 304.1h0M629.2 296.6h0M626.2 293.6h0M623.5 292.7h0M629.7 288.9h0M628.9 286.5h0M627.7 274.8h0" stroke="#DD6410" stroke-opacity="0.55" stroke-width="3.0" stroke-linecap="round"/>
<path d="M621.7 326.4h0M627.6 325.4h0M627.2 325.1h0M630.8 324.9h0M627.4 324.6h0M631.5 323.2h0M623.7 322.1h0M621.9 321.7h0M624.7 317.4h0M633.7 316.2h0M635.3 316.0h0M623.9 315.7h0M624.5 313.1h0M625.9 310.1h0M625.4 306.3h0M620.9 305.8h0M622.3 303.2h0M627.8 299.5h0M627.8 299.1h0M623.5 297.7h0M629.5 292.0h0M627.1 290.5h0" stroke="#DD6410" stroke-opacity="0.55" stroke-width="3.0" stroke-linecap="round"/>
<path d="M644.3 326.6h0M650.5 326.5h0M642.8 326.1h0M645.0 324.9h0M646.6 324.4h0M653.3 323.4h0M647.1 322.1h0M653.3 320.9h0M646.1 319.9h0M643.2 318.8h0M646.5 314.8h0M645.8 301.0h0M646.0 267.7h0M646.1 255.7h0" stroke="#4DBEEE" stroke-opacity="0.55" stroke-width="3.0" stroke-linecap="round"/>
<path d="M642.0 326.9h0M652.7 326.4h0M641.5 326.3h0M641.1 326.2h0M653.4 325.8h0M652.7 325.5h0M651.7 325.4h0M649.2 325.2h0M643.7 324.6h0M647.0 323.8h0M639.5 323.6h0M648.0 323.1h0M640.6 322.5h0M652.7 320.5h0M640.1 320.2h0M650.2 319.0h0M644.5 318.1h0M642.6 316.5h0M646.1 281.2h0" stroke="#4DBEEE" stroke-opacity="0.55" stroke-width="3.0" stroke-linecap="round"/>
<path d="M642.6 326.8h0M642.5 326.8h0M643.9 326.7h0M650.8 325.6h0M644.2 324.5h0M643.5 324.0h0M640.5 322.7h0M652.7 322.4h0M642.8 317.8h0M644.0 317.3h0M646.9 316.9h0M646.4 315.3h0M646.2 305.2h0" stroke="#4DBEEE" stroke-opacity="0.55" stroke-width="3.0" stroke-linecap="round"/>
<path d="M639.5 326.6h0M639.1 326.3h0M651.1 326.0h0M642.8 326.0h0M639.9 325.9h0M647.7 325.8h0M648.1 325.7h0M651.5 325.3h0M653.6 324.8h0M648.2 323.4h0M639.0 323.0h0M646.9 322.9h0M642.8 322.0h0M639.8 321.9h0M649.3 321.7h0M651.8 321.3h0M647.7 319.4h0M641.1 318.4h0M648.1 316.0h0M648.5 315.7h0M643.4 314.4h0" stroke="#4DBEEE" stroke-opacity="0.55" stroke-width="3.0" stroke-linecap="round"/>
<path d="M645.7 326.7h0M639.5 326.2h0M651.5 326.1h0M642.5 325.9h0M646.2 325.6h0M653.8 325.3h0M639.2 325.0h0M648.9 324.4h0M647.2 324.3h0M643.2 324.2h0M647.0 324.2h0M650.4 322.2h0M642.0 321.6h0M644.1 316.1h0M646.5 314.0h0M646.4 313.4h0M645.2 311.0h0M646.0 295.2h0" stroke="#4DBEEE" stroke-opacity="0.55" stroke-width="3.0" stroke-linecap="round"/>
<path d="M652.7 326.7h0M651.0 326.4h0M651.3 325.2h0M652.4 325.1h0M648.9 325.0h0M649.1 324.8h0M644.3 324.7h0M652.4 324.6h0M648.8 323.9h0M644.7 322.7h0M652.2 321.4h0M640.9 321.2h0M643.2 319.7h0M648.1 317.6h0M645.8 289.0h0" stroke="#4DBEEE" stroke-opacity="0.55" stroke-width="3.0" stroke-linecap="round"/>
<path d="M663.6 326.6h0M665.2 324.6h0M658.2 323.3h0M668.0 321.7h0M671.2 321.1h0M667.0 307.7h0M665.7 300.2h0" stroke="#77AC30" stroke-opacity="0.55" stroke-width="3.0" stroke-linecap="round"/>
<path d="M670.0 326.3h0M668.8 324.6h0M666.7 324.2h0M669.2 320.4h0M664.0 319.9h0M663.2 319.7h0M659.3 319.4h0M660.4 319.1h0M666.0 318.8h0M669.1 318.0h0M669.6 313.4h0M665.3 300.8h0M665.9 295.5h0M664.9 286.6h0" stroke="#77AC30" stroke-opacity="0.55" stroke-width="3.0" stroke-linecap="round"/>
<path d="M663.2 326.8h0M660.0 326.3h0M666.4 325.3h0M671.2 324.9h0M662.9 322.6h0M661.2 320.6h0M662.8 320.1h0M659.4 318.5h0M668.8 317.6h0M667.0 315.7h0M663.5 315.0h0M668.8 314.8h0M665.1 312.9h0M666.3 312.4h0M661.2 311.9h0M667.0 304.2h0M664.4 296.9h0M664.0 288.4h0" stroke="#77AC30" stroke-opacity="0.55" stroke-width="3.0" stroke-linecap="round"/>
<path d="M671.2 325.7h0M669.6 325.5h0M658.3 325.1h0M662.5 323.5h0M664.9 322.0h0M665.8 321.3h0M665.4 317.1h0M661.5 314.4h0M660.8 314.1h0M662.9 309.5h0M664.8 306.6h0M666.3 303.2h0M664.3 283.5h0" stroke="#77AC30" stroke-opacity="0.55" stroke-width="3.0" stroke-linecap="round"/>
<path d="M669.5 326.0h0M668.2 324.0h0M658.3 322.9h0M670.9 322.5h0M669.7 322.3h0M663.6 321.4h0M666.2 316.7h0M659.8 316.6h0M660.4 316.2h0M667.0 315.4h0M669.0 311.2h0M663.3 305.3h0M665.1 297.4h0M664.7 293.2h0" stroke="#77AC30" stroke-opacity="0.55" stroke-width="3.0" stroke-linecap="round"/>
<path d="M668.2 325.8h0M664.8 324.3h0M665.5 323.7h0M663.2 323.2h0M672.4 320.8h0M670.9 319.0h0M672.3 318.1h0M659.8 313.6h0M665.6 312.7h0M668.3 311.7h0M663.1 308.4h0M664.3 302.4h0M664.3 298.6h0M664.0 294.4h0" stroke="#77AC30" stroke-opacity="0.55" stroke-width="3.0" stroke-linecap="round"/>
<path d="M423.2 244.6H460.8" stroke="#555" stroke-width="1"/>
<text transform="translate(442 243.7) scale(0.96 1.2)" text-anchor="middle" class="s">ns</text>
<path d="M442 251.7H479.6" stroke="#555" stroke-width="1"/>
<text transform="translate(460.8 250.8) scale(0.96 1.2)" text-anchor="middle" class="s">ns</text>
<path d="M423.2 260.2H442" stroke="#555" stroke-width="1"/>
<text transform="translate(432.6 259.3) scale(0.96 1.2)" text-anchor="middle" class="s">ns</text>
<path d="M460.8 260.2H479.6" stroke="#555" stroke-width="1"/>
<text x="470.2" y="262.2" text-anchor="middle" class="s">***</text>
<path d="M517.2 244.6H554.8" stroke="#555" stroke-width="1"/>
<text transform="translate(536 243.7) scale(0.96 1.2)" text-anchor="middle" class="s">ns</text>
<path d="M536 251.7H573.6" stroke="#555" stroke-width="1"/>
<text transform="translate(554.8 250.8) scale(0.96 1.2)" text-anchor="middle" class="s">ns</text>
<path d="M517.2 260.2H536" stroke="#555" stroke-width="1"/>
<text x="526.6" y="262.2" text-anchor="middle" class="s">***</text>
<path d="M554.8 260.2H573.6" stroke="#555" stroke-width="1"/>
<text transform="translate(564.2 259.3) scale(0.96 1.2)" text-anchor="middle" class="s">ns</text>
<path d="M611.2 244.6H648.8" stroke="#555" stroke-width="1"/>
<text x="630" y="246.6" text-anchor="middle" class="s">***</text>
<path d="M630 251.7H667.6" stroke="#555" stroke-width="1"/>
<text x="648.8" y="253.7" text-anchor="middle" class="s">**</text>
<path d="M611.2 260.2H630" stroke="#555" stroke-width="1"/>
<text x="620.6" y="262.2" text-anchor="middle" class="s">***</text>
<path d="M648.8 260.2H667.6" stroke="#555" stroke-width="1"/>
<text transform="translate(658.2 259.3) scale(0.96 1.2)" text-anchor="middle" class="s">ns</text>
<path d="M401.6 360.9V438.4H683.6" fill="none" stroke="#c2c2c2" stroke-width="1"/>
<path d="M401.6 438.4h3" stroke="#c2c2c2" stroke-width="1"/>
<text x="398.4" y="441.9" text-anchor="end" class="k">0</text>
<path d="M401.6 406.05h3" stroke="#c2c2c2" stroke-width="1"/>
<text x="398.4" y="409.55" text-anchor="end" class="k">0.5</text>
<path d="M401.6 373.7h3" stroke="#c2c2c2" stroke-width="1"/>
<text x="398.4" y="377.2" text-anchor="end" class="k">1</text>
<path d="M429.8 438.4v-2.5" stroke="#c2c2c2" stroke-width="1"/>
<text x="429.8" y="450.8" text-anchor="middle" class="k">3</text>
<path d="M467.4 438.4v-2.5" stroke="#c2c2c2" stroke-width="1"/>
<text x="467.4" y="450.8" text-anchor="middle" class="k">4</text>
<path d="M523.8 438.4v-2.5" stroke="#c2c2c2" stroke-width="1"/>
<text x="523.8" y="450.8" text-anchor="middle" class="k">3</text>
<path d="M561.4 438.4v-2.5" stroke="#c2c2c2" stroke-width="1"/>
<text x="561.4" y="450.8" text-anchor="middle" class="k">4</text>
<path d="M617.8 438.4v-2.5" stroke="#c2c2c2" stroke-width="1"/>
<text x="617.8" y="450.8" text-anchor="middle" class="k">3</text>
<path d="M655.4 438.4v-2.5" stroke="#c2c2c2" stroke-width="1"/>
<text x="655.4" y="450.8" text-anchor="middle" class="k">4</text>
<text transform="translate(381.8 399.65) rotate(-90)" text-anchor="middle" class="t">EV ORR (a.u.)</text>
<path d="M413.1 387.5h0M423.2 401.2h0M420.9 409.5h0M418.8 415.2h0M425.0 413.5h0" stroke="#4DBEEE" stroke-opacity="0.55" stroke-width="3.0" stroke-linecap="round"/>
<path d="M414.0 380.3h0M420.4 387.4h0M423.2 416.1h0M424.4 420.1h0" stroke="#4DBEEE" stroke-opacity="0.55" stroke-width="3.0" stroke-linecap="round"/>
<path d="M423.4 381.1h0M418.4 392.3h0M422.9 397.1h0" stroke="#4DBEEE" stroke-opacity="0.55" stroke-width="3.0" stroke-linecap="round"/>
<path d="M426.7 380.5h0M419.8 401.3h0" stroke="#4DBEEE" stroke-opacity="0.55" stroke-width="3.0" stroke-linecap="round"/>
<path d="M428.9 386.3h0" stroke="#4DBEEE" stroke-opacity="0.55" stroke-width="3.0" stroke-linecap="round"/>
<path d="M418.0 377.1h0M414.5 414.2h0" stroke="#4DBEEE" stroke-opacity="0.55" stroke-width="3.0" stroke-linecap="round"/>
<path d="M439.5 404.8h0M433.3 406.9h0M439.5 407.9h0" stroke="#DD6410" stroke-opacity="0.55" stroke-width="3.0" stroke-linecap="round"/>
<path d="M438.9 398.4h0M441.2 412.7h0M431.7 415.0h0" stroke="#DD6410" stroke-opacity="0.55" stroke-width="3.0" stroke-linecap="round"/>
<path d="M441.0 398.7h0M442.7 397.1h0M442.4 414.7h0M436.0 414.2h0" stroke="#DD6410" stroke-opacity="0.55" stroke-width="3.0" stroke-linecap="round"/>
<path d="M438.5 403.4h0" stroke="#DD6410" stroke-opacity="0.55" stroke-width="3.0" stroke-linecap="round"/>
<path d="M444.7 411.4h0M435.2 417.2h0" stroke="#DD6410" stroke-opacity="0.55" stroke-width="3.0" stroke-linecap="round"/>
<path d="M434.4 400.2h0M436.6 405.0h0M445.8 409.3h0" stroke="#DD6410" stroke-opacity="0.55" stroke-width="3.0" stroke-linecap="round"/>
<path d="M456.7 407.7h0M461.0 405.8h0M455.3 405.4h0M457.9 404.2h0M462.8 401.2h0M457.2 400.6h0M455.1 399.2h0M461.8 398.9h0M453.8 398.5h0M456.6 397.5h0M460.7 396.5h0M462.5 394.0h0M451.8 393.2h0M463.3 392.4h0M450.2 391.9h0M451.0 390.6h0M457.4 390.0h0M458.8 388.9h0M451.0 387.4h0M460.8 387.1h0M461.4 384.0h0M459.3 383.5h0M461.9 383.4h0M454.2 382.8h0M455.3 380.6h0" stroke="#4DBEEE" stroke-opacity="0.55" stroke-width="3.0" stroke-linecap="round"/>
<path d="M458.8 415.5h0M458.1 408.8h0M455.4 408.4h0M457.8 408.1h0M454.9 406.8h0M460.9 405.0h0M458.6 402.2h0M460.9 400.1h0M455.4 398.8h0M455.4 395.1h0M457.7 394.7h0M461.3 393.9h0M465.0 392.9h0M454.2 390.4h0M459.7 388.8h0M450.8 388.4h0M461.2 388.2h0M465.3 387.9h0M458.0 386.2h0M457.8 385.9h0M463.9 385.0h0M458.5 384.7h0M455.4 384.2h0M460.3 380.3h0" stroke="#4DBEEE" stroke-opacity="0.55" stroke-width="3.0" stroke-linecap="round"/>
<path d="M457.3 415.0h0M458.3 413.4h0M455.8 406.1h0M461.3 402.0h0M458.8 398.3h0M459.6 397.7h0M451.6 396.2h0M455.3 395.8h0M451.7 395.3h0M465.7 393.1h0M460.9 391.7h0M451.6 389.3h0M457.0 388.6h0M455.6 387.8h0M461.1 386.3h0M454.7 385.4h0M455.9 384.8h0M454.7 382.1h0" stroke="#4DBEEE" stroke-opacity="0.55" stroke-width="3.0" stroke-linecap="round"/>
<path d="M460.3 406.4h0M456.0 403.5h0M458.5 401.5h0M453.1 396.6h0M452.4 395.5h0M463.8 394.5h0M465.5 393.7h0M457.4 392.0h0M462.1 391.6h0M457.7 391.0h0M465.5 390.7h0M459.8 389.5h0M455.9 389.1h0M458.0 388.1h0M462.1 385.3h0" stroke="#4DBEEE" stroke-opacity="0.55" stroke-width="3.0" stroke-linecap="round"/>
<path d="M455.6 409.7h0M456.7 407.3h0M461.6 404.6h0M463.6 399.5h0M455.4 398.2h0M452.7 397.3h0M464.1 395.7h0M465.0 394.9h0M450.9 394.3h0M453.0 393.4h0M458.2 392.7h0M464.5 392.5h0M459.3 392.1h0M459.5 391.4h0M453.1 390.3h0M459.2 389.8h0M457.5 389.6h0M460.8 387.6h0M459.7 386.7h0M460.0 386.4h0M461.8 383.8h0M462.1 383.0h0M453.6 382.5h0" stroke="#4DBEEE" stroke-opacity="0.55" stroke-width="3.0" stroke-linecap="round"/>
<path d="M457.8 412.5h0M459.5 411.7h0M458.6 409.2h0M461.0 403.8h0M454.8 403.0h0M460.1 402.5h0M457.0 400.3h0M456.0 399.3h0M453.0 397.9h0M455.4 397.1h0M456.9 396.9h0M456.9 396.1h0M462.3 391.2h0M453.6 390.9h0M459.8 390.1h0M451.6 386.8h0M452.8 385.6h0M455.4 384.5h0M452.9 383.1h0M456.1 381.7h0M458.3 381.3h0" stroke="#4DBEEE" stroke-opacity="0.55" stroke-width="3.0" stroke-linecap="round"/>
<path d="M477.1 396.8h0M481.4 399.9h0M483.4 405.4h0M476.8 405.4h0M484.2 409.0h0M470.5 409.7h0" stroke="#77AC30" stroke-opacity="0.55" stroke-width="3.0" stroke-linecap="round"/>
<path d="M476.2 394.5h0M472.5 399.1h0M482.2 401.9h0M476.2 414.3h0M478.2 416.6h0" stroke="#77AC30" stroke-opacity="0.55" stroke-width="3.0" stroke-linecap="round"/>
<path d="M473.0 406.8h0" stroke="#77AC30" stroke-opacity="0.55" stroke-width="3.0" stroke-linecap="round"/>
<path d="M473.3 401.1h0M478.8 401.9h0M471.3 408.3h0M476.2 409.4h0" stroke="#77AC30" stroke-opacity="0.55" stroke-width="3.0" stroke-linecap="round"/>
<path d="M479.6 404.2h0M470.5 405.1h0M469.3 407.7h0M477.6 408.3h0M482.2 410.6h0M474.8 412.3h0M480.2 412.6h0M476.8 415.7h0" stroke="#77AC30" stroke-opacity="0.55" stroke-width="3.0" stroke-linecap="round"/>
<path d="M477.2 389.0h0M477.3 393.0h0M479.4 396.5h0M478.5 398.2h0M471.9 403.4h0M474.5 403.4h0M481.1 406.3h0" stroke="#77AC30" stroke-opacity="0.55" stroke-width="3.0" stroke-linecap="round"/>
<path d="M513.8 421.3h0M514.3 395.9h0M513.4 387.8h0M514.4 386.2h0M516.7 385.2h0M509.4 385.1h0M518.4 384.3h0M513.5 384.2h0M518.6 383.9h0M517.4 383.4h0M513.6 382.9h0M519.8 382.1h0M515.2 381.9h0M506.6 381.2h0M508.7 380.9h0M510.6 380.0h0M515.3 379.8h0M518.5 378.6h0M511.5 377.9h0M519.2 377.8h0M515.4 375.5h0" stroke="#4DBEEE" stroke-opacity="0.55" stroke-width="3.0" stroke-linecap="round"/>
<path d="M514.6 422.8h0M514.5 413.6h0M515.3 406.8h0M513.2 405.2h0M513.3 404.3h0M515.6 403.3h0M512.1 393.3h0M511.8 391.8h0M516.5 391.0h0M516.5 390.0h0M514.0 387.2h0M519.2 386.9h0M515.9 385.8h0M506.7 384.5h0M522.6 383.3h0M520.4 382.3h0M520.7 382.2h0M516.7 381.7h0M508.5 380.7h0M515.7 378.1h0M518.8 376.8h0M513.2 376.4h0" stroke="#4DBEEE" stroke-opacity="0.55" stroke-width="3.0" stroke-linecap="round"/>
<path d="M515.0 419.3h0M515.0 417.5h0M514.4 412.6h0M515.6 411.3h0M514.1 409.0h0M513.6 407.6h0M513.4 401.9h0M513.1 392.6h0M514.5 391.7h0M516.0 391.5h0M519.3 390.2h0M509.3 389.7h0M519.0 389.1h0M519.0 389.0h0M516.7 388.0h0M513.5 383.6h0M522.1 383.1h0M513.5 381.6h0M520.1 381.0h0M507.2 380.3h0M511.1 378.5h0" stroke="#4DBEEE" stroke-opacity="0.55" stroke-width="3.0" stroke-linecap="round"/>
<path d="M513.9 415.2h0M514.0 405.6h0M514.3 402.6h0M513.9 397.3h0M516.4 397.0h0M515.8 395.1h0M513.2 394.1h0M517.2 390.4h0M519.6 388.5h0M517.1 387.0h0M520.1 383.6h0M517.0 383.2h0M518.3 383.0h0M518.3 382.6h0M522.0 381.3h0M516.8 380.2h0M515.6 379.5h0M519.1 379.1h0M519.9 378.9h0M516.7 377.6h0M515.3 375.3h0" stroke="#4DBEEE" stroke-opacity="0.55" stroke-width="3.0" stroke-linecap="round"/>
<path d="M513.8 410.6h0M513.8 408.5h0M514.3 399.2h0M512.1 391.2h0M517.5 390.5h0M512.6 389.6h0M513.3 388.3h0M516.8 388.1h0M515.3 387.4h0M515.0 386.7h0M520.1 386.5h0M510.9 385.3h0M516.8 384.9h0M517.3 383.8h0M506.3 382.7h0M513.2 382.4h0M512.8 381.4h0M518.5 380.6h0M510.6 379.6h0M514.7 376.1h0" stroke="#4DBEEE" stroke-opacity="0.55" stroke-width="3.0" stroke-linecap="round"/>
<path d="M513.2 410.0h0M514.3 400.8h0M512.9 399.7h0M513.3 398.2h0M514.5 390.8h0M513.1 389.3h0M510.8 388.7h0M507.5 386.1h0M511.6 385.7h0M518.2 385.5h0M516.1 384.8h0M517.5 384.7h0M513.6 384.4h0M511.0 384.0h0M516.5 381.9h0M519.6 380.0h0M517.6 379.3h0M508.0 379.1h0M515.6 378.3h0M514.7 378.2h0M515.1 377.2h0" stroke="#4DBEEE" stroke-opacity="0.55" stroke-width="3.0" stroke-linecap="round"/>
<path d="M539.9 412.7h0M539.0 411.9h0M534.1 410.8h0M527.3 407.0h0M528.8 406.6h0M537.8 406.5h0M534.0 406.3h0M538.5 406.2h0M535.8 406.0h0M538.5 404.9h0M530.4 402.4h0M536.3 402.1h0M531.6 401.8h0M535.7 401.1h0M530.1 399.4h0" stroke="#DD6410" stroke-opacity="0.55" stroke-width="3.0" stroke-linecap="round"/>
<path d="M531.9 418.4h0M529.6 416.9h0M535.6 415.9h0M537.3 415.2h0M537.0 414.5h0M531.8 414.2h0M534.1 413.6h0M528.6 413.0h0M539.2 410.0h0M536.2 408.4h0M530.4 407.2h0M534.7 405.8h0M529.8 405.1h0M530.2 404.3h0M537.4 403.1h0M530.9 400.5h0M530.0 400.1h0M535.7 398.5h0M533.1 393.6h0" stroke="#DD6410" stroke-opacity="0.55" stroke-width="3.0" stroke-linecap="round"/>
<path d="M538.7 413.9h0M537.5 413.1h0M530.2 410.5h0M533.2 409.4h0M531.8 409.2h0M532.5 405.8h0M528.3 404.0h0M534.3 401.5h0M531.9 400.6h0M531.7 396.8h0" stroke="#DD6410" stroke-opacity="0.55" stroke-width="3.0" stroke-linecap="round"/>
<path d="M533.9 418.7h0M536.7 416.6h0M533.6 416.1h0M533.8 415.4h0M537.6 414.8h0M537.2 411.4h0M527.4 411.0h0M535.9 410.5h0M525.3 408.5h0M539.2 408.0h0M525.4 407.9h0M537.5 407.7h0M530.0 407.5h0M527.6 405.4h0M533.4 405.0h0M536.1 399.5h0M533.9 396.3h0M532.5 394.6h0M533.1 379.5h0" stroke="#DD6410" stroke-opacity="0.55" stroke-width="3.0" stroke-linecap="round"/>
<path d="M534.0 417.8h0M535.2 417.4h0M536.0 417.1h0M535.2 416.4h0M535.8 415.6h0M530.4 412.1h0M530.2 411.8h0M540.0 411.3h0M537.0 410.2h0M532.0 409.6h0M532.9 409.1h0M536.5 408.9h0M530.4 408.7h0M538.2 407.4h0M536.8 403.5h0M533.8 402.8h0M535.2 398.9h0" stroke="#DD6410" stroke-opacity="0.55" stroke-width="3.0" stroke-linecap="round"/>
<path d="M529.7 414.4h0M528.6 413.3h0M535.5 412.5h0M539.9 412.3h0M526.7 411.6h0M539.9 411.1h0M531.2 410.0h0M534.2 409.7h0M532.4 408.2h0M535.5 406.8h0M526.9 405.5h0M526.9 404.5h0M532.7 398.2h0" stroke="#DD6410" stroke-opacity="0.55" stroke-width="3.0" stroke-linecap="round"/>
<path d="M549.7 383.6h0M555.5 387.7h0M548.0 397.2h0" stroke="#4DBEEE" stroke-opacity="0.55" stroke-width="3.0" stroke-linecap="round"/>
<path d="M551.7 391.7h0M553.9 391.5h0" stroke="#4DBEEE" stroke-opacity="0.55" stroke-width="3.0" stroke-linecap="round"/>
<path d="M551.9 388.9h0" stroke="#4DBEEE" stroke-opacity="0.55" stroke-width="3.0" stroke-linecap="round"/>
<path d="M548.8 388.6h0M555.1 397.3h0" stroke="#4DBEEE" stroke-opacity="0.55" stroke-width="3.0" stroke-linecap="round"/>
<path d="M556.4 390.9h0" stroke="#4DBEEE" stroke-opacity="0.55" stroke-width="3.0" stroke-linecap="round"/>
<path d="M569.9 422.8h0M573.3 417.2h0M568.7 416.7h0M572.5 413.1h0M572.5 412.4h0M565.9 410.9h0M565.2 410.1h0M563.2 409.6h0M564.6 409.3h0M573.4 407.7h0M565.3 407.5h0M567.6 405.3h0M567.9 405.3h0M575.6 404.9h0M570.6 403.1h0M575.2 401.8h0" stroke="#77AC30" stroke-opacity="0.55" stroke-width="3.0" stroke-linecap="round"/>
<path d="M571.4 419.3h0M568.2 418.6h0M574.2 418.2h0M569.2 415.1h0M575.1 414.7h0M574.7 414.2h0M567.1 409.9h0M576.3 409.4h0M569.4 408.1h0M568.8 406.4h0M570.7 404.2h0M566.5 402.0h0M567.3 400.2h0M573.5 398.2h0" stroke="#77AC30" stroke-opacity="0.55" stroke-width="3.0" stroke-linecap="round"/>
<path d="M571.7 422.3h0M571.1 421.1h0M569.8 418.0h0M577.7 412.7h0M565.7 410.7h0M571.7 408.8h0M565.0 408.5h0M569.1 405.9h0M570.8 403.6h0M571.0 395.3h0M570.7 387.3h0" stroke="#77AC30" stroke-opacity="0.55" stroke-width="3.0" stroke-linecap="round"/>
<path d="M570.4 420.3h0M572.2 416.8h0M569.4 415.8h0M575.5 415.4h0M570.8 413.6h0M570.0 411.9h0M577.2 411.7h0M573.9 411.2h0M577.4 411.0h0M568.4 410.2h0M571.1 408.2h0M577.6 407.0h0M566.8 406.0h0M565.0 403.0h0M571.0 402.7h0M570.1 400.9h0M572.0 398.3h0M569.9 397.7h0M571.2 390.2h0" stroke="#77AC30" stroke-opacity="0.55" stroke-width="3.0" stroke-linecap="round"/>
<path d="M574.5 417.6h0M572.1 413.5h0M577.4 412.2h0M574.8 411.4h0M572.5 410.4h0M566.9 408.6h0M568.9 407.9h0M574.6 404.5h0M564.9 404.1h0M573.3 403.8h0M566.8 399.4h0M570.2 396.8h0M569.2 392.1h0M571.5 388.8h0" stroke="#77AC30" stroke-opacity="0.55" stroke-width="3.0" stroke-linecap="round"/>
<path d="M572.8 416.3h0M565.3 414.5h0M573.9 412.1h0M563.0 409.1h0M570.6 407.2h0M568.6 406.8h0M574.6 406.6h0M564.2 405.7h0M575.9 404.7h0M574.9 403.4h0M565.9 401.3h0M571.4 400.0h0M574.9 398.9h0M569.7 397.0h0M567.7 396.2h0M572.0 395.6h0M571.4 394.9h0M569.9 393.8h0" stroke="#77AC30" stroke-opacity="0.55" stroke-width="3.0" stroke-linecap="round"/>
<path d="M609.2 420.5h0M607.6 414.7h0M605.2 412.8h0M606.8 411.9h0M611.6 411.4h0M609.5 410.5h0M603.6 406.2h0M605.5 404.2h0M611.0 403.6h0M602.1 402.3h0M614.9 402.1h0M612.2 400.3h0M605.1 399.6h0M605.4 399.2h0M601.0 398.7h0M612.3 397.9h0M604.5 396.3h0M612.5 394.6h0M610.6 393.6h0M604.2 393.3h0M607.6 383.7h0" stroke="#4DBEEE" stroke-opacity="0.55" stroke-width="3.0" stroke-linecap="round"/>
<path d="M607.7 419.4h0M605.5 409.4h0M604.7 405.5h0M606.1 404.8h0M604.1 403.3h0M613.1 402.7h0M611.7 398.3h0M608.7 396.9h0M601.8 395.7h0M608.8 391.4h0M604.7 390.7h0M608.9 389.8h0M609.3 386.7h0M608.4 386.0h0M609.1 381.8h0" stroke="#4DBEEE" stroke-opacity="0.55" stroke-width="3.0" stroke-linecap="round"/>
<path d="M606.7 417.1h0M610.7 415.0h0M606.8 413.0h0M605.3 407.6h0M607.8 406.8h0M614.1 405.2h0M605.8 405.1h0M604.1 403.9h0M605.9 403.1h0M612.6 402.5h0M608.8 401.2h0M600.4 400.9h0M609.2 400.1h0M611.7 399.4h0M615.4 399.0h0M608.2 398.5h0M604.2 397.5h0M615.7 397.1h0M606.9 396.5h0M612.2 392.6h0M610.8 392.2h0M611.6 391.9h0M607.8 390.4h0" stroke="#4DBEEE" stroke-opacity="0.55" stroke-width="3.0" stroke-linecap="round"/>
<path d="M608.9 416.1h0M607.9 415.6h0M605.1 408.1h0M605.5 405.7h0M609.2 404.7h0M605.5 403.5h0M608.5 401.0h0M613.9 396.6h0M608.9 394.8h0M611.1 388.7h0" stroke="#4DBEEE" stroke-opacity="0.55" stroke-width="3.0" stroke-linecap="round"/>
<path d="M609.7 411.0h0M611.6 410.1h0M612.2 409.0h0M603.2 407.1h0M612.4 406.0h0M610.2 404.0h0M604.7 402.9h0M601.7 401.7h0M608.3 401.5h0M615.3 400.7h0M605.3 398.8h0M607.0 398.1h0M607.0 397.2h0M613.7 396.0h0M613.9 394.0h0M603.9 393.1h0M609.2 391.1h0M606.0 388.5h0M608.5 388.2h0" stroke="#4DBEEE" stroke-opacity="0.55" stroke-width="3.0" stroke-linecap="round"/>
<path d="M607.5 418.4h0M608.4 414.1h0M607.7 413.8h0M609.1 412.1h0M611.6 408.5h0M609.0 404.4h0M613.6 401.9h0M607.2 400.4h0M615.4 399.9h0M612.2 397.7h0M607.8 395.9h0M611.0 395.1h0M606.7 389.6h0M605.2 389.3h0M609.7 384.4h0" stroke="#4DBEEE" stroke-opacity="0.55" stroke-width="3.0" stroke-linecap="round"/>
<path d="M624.8 413.2h0M630.2 411.9h0M624.0 410.4h0M630.7 409.4h0M628.4 407.3h0M625.7 407.0h0M626.4 404.7h0M629.8 403.8h0M624.7 402.4h0M621.2 401.0h0M621.9 400.3h0M629.1 399.8h0M628.7 398.5h0M623.5 398.0h0M625.6 397.2h0M625.0 394.2h0" stroke="#DD6410" stroke-opacity="0.55" stroke-width="3.0" stroke-linecap="round"/>
<path d="M629.4 411.2h0M627.9 409.9h0M630.2 405.7h0M619.7 404.3h0M629.4 400.0h0M622.8 399.5h0M630.5 392.2h0M630.2 391.8h0" stroke="#DD6410" stroke-opacity="0.55" stroke-width="3.0" stroke-linecap="round"/>
<path d="M627.5 415.3h0M626.5 412.1h0M625.5 411.6h0M629.9 410.7h0M630.1 409.0h0M627.1 408.8h0M630.9 408.4h0M631.4 406.1h0M621.0 405.0h0M633.3 404.6h0M634.0 402.9h0M622.9 402.5h0M632.2 399.2h0M621.6 398.3h0M629.4 398.2h0M629.0 397.8h0M630.6 396.3h0M622.7 395.2h0M625.2 394.0h0M628.9 392.4h0M625.3 389.7h0M626.4 388.1h0" stroke="#DD6410" stroke-opacity="0.55" stroke-width="3.0" stroke-linecap="round"/>
<path d="M630.8 410.2h0M631.6 405.9h0M633.3 405.4h0M633.6 404.5h0M634.4 403.3h0M628.6 403.1h0M630.3 402.8h0M623.2 402.3h0M630.0 401.9h0M627.0 401.7h0M629.3 395.5h0M630.9 393.8h0M628.3 392.9h0" stroke="#DD6410" stroke-opacity="0.55" stroke-width="3.0" stroke-linecap="round"/>
<path d="M628.5 414.6h0M626.5 412.7h0M625.1 407.7h0M623.4 406.5h0M621.3 405.9h0M631.8 405.3h0M633.8 401.5h0M620.5 400.9h0M630.6 400.5h0M631.1 399.3h0M624.8 397.4h0M632.5 396.9h0M625.3 396.5h0M626.6 393.3h0" stroke="#DD6410" stroke-opacity="0.55" stroke-width="3.0" stroke-linecap="round"/>
<path d="M625.8 414.0h0M625.3 408.0h0M621.9 405.1h0M633.6 404.2h0M629.5 403.9h0M622.9 403.6h0M629.3 403.5h0M623.9 402.0h0M622.2 401.3h0M623.2 400.7h0M633.6 399.9h0M627.6 398.9h0M625.5 398.7h0M622.8 395.8h0M627.3 395.0h0M631.1 394.7h0M628.8 392.7h0M624.9 390.8h0M628.0 388.7h0" stroke="#DD6410" stroke-opacity="0.55" stroke-width="3.0" stroke-linecap="round"/>
<path d="M647.3 416.2h0M645.8 405.1h0M639.5 402.2h0M647.9 401.6h0M648.6 401.3h0M644.9 400.3h0M653.8 396.7h0M641.4 395.6h0M650.1 394.1h0M641.4 393.8h0M644.0 391.9h0M641.4 388.9h0" stroke="#4DBEEE" stroke-opacity="0.55" stroke-width="3.0" stroke-linecap="round"/>
<path d="M645.3 415.8h0M646.4 410.6h0M651.6 404.0h0M639.5 401.8h0M646.4 399.2h0M645.0 395.0h0M638.7 394.9h0M643.9 393.2h0M646.0 388.4h0M647.8 388.2h0M647.1 387.2h0M645.8 387.0h0M642.6 385.0h0M644.5 381.8h0" stroke="#4DBEEE" stroke-opacity="0.55" stroke-width="3.0" stroke-linecap="round"/>
<path d="M647.9 418.0h0M643.3 409.6h0M642.6 406.5h0M649.2 405.9h0M652.0 404.3h0M648.5 402.6h0M642.4 400.0h0M652.5 396.9h0M642.7 396.0h0M643.1 395.5h0M650.3 395.3h0M650.2 393.6h0M650.9 391.3h0M647.0 390.9h0M649.3 390.3h0M648.5 387.9h0" stroke="#4DBEEE" stroke-opacity="0.55" stroke-width="3.0" stroke-linecap="round"/>
<path d="M645.7 421.3h0M644.2 414.6h0M643.0 412.9h0M644.2 411.1h0M641.8 408.0h0M650.8 403.9h0M653.3 400.5h0M649.5 399.5h0M639.3 399.0h0M642.3 398.2h0M652.2 397.2h0M646.8 394.6h0M649.5 392.9h0M648.4 389.4h0M647.4 385.7h0M645.2 385.4h0M648.9 383.9h0" stroke="#4DBEEE" stroke-opacity="0.55" stroke-width="3.0" stroke-linecap="round"/>
<path d="M646.8 420.1h0M647.3 412.0h0M646.2 410.3h0M645.7 408.5h0M641.7 405.3h0M648.0 404.5h0M651.6 403.5h0M641.0 403.3h0M640.7 402.9h0M641.7 402.0h0M650.9 398.5h0M640.4 398.1h0M642.3 397.9h0M650.1 397.7h0M651.8 396.5h0M654.1 395.8h0M646.4 394.2h0M643.5 393.4h0M646.9 392.6h0M645.1 392.2h0M643.5 391.4h0M645.5 389.6h0" stroke="#4DBEEE" stroke-opacity="0.55" stroke-width="3.0" stroke-linecap="round"/>
<path d="M647.3 419.1h0M645.1 415.1h0M645.8 414.0h0M647.5 413.6h0M643.4 412.5h0M649.1 409.3h0M649.5 407.6h0M648.2 407.1h0M640.0 403.1h0M641.9 401.1h0M642.2 400.9h0M648.8 399.9h0M642.1 398.7h0M652.8 397.4h0M652.5 397.1h0M648.1 396.4h0M651.9 394.4h0M651.3 389.9h0M649.7 386.7h0M643.4 386.3h0M647.5 383.4h0M647.6 382.8h0" stroke="#4DBEEE" stroke-opacity="0.55" stroke-width="3.0" stroke-linecap="round"/>
<path d="M666.8 421.1h0M663.4 416.8h0M664.5 416.4h0M662.6 415.7h0M662.9 413.3h0M661.8 412.6h0M668.7 411.8h0M663.5 409.0h0M663.8 408.7h0M665.4 408.1h0M657.8 408.0h0M669.1 406.7h0M664.7 406.4h0M661.4 405.7h0M669.1 404.9h0M665.0 404.8h0M671.9 404.5h0M672.2 403.7h0M661.3 403.5h0M660.9 401.0h0M670.1 399.5h0M666.3 399.2h0M666.0 398.9h0M665.7 394.3h0M664.7 393.3h0M666.7 391.2h0M667.4 390.2h0" stroke="#77AC30" stroke-opacity="0.55" stroke-width="3.0" stroke-linecap="round"/>
<path d="M666.1 419.7h0M663.7 417.8h0M665.8 414.9h0M662.3 413.5h0M660.1 411.4h0M670.0 408.6h0M665.0 407.8h0M662.3 405.3h0M665.3 402.2h0M666.2 402.1h0M669.3 401.5h0M663.9 401.2h0M663.7 400.0h0M669.5 395.5h0M665.2 391.6h0M663.4 390.6h0M665.9 389.8h0" stroke="#77AC30" stroke-opacity="0.55" stroke-width="3.0" stroke-linecap="round"/>
<path d="M663.1 422.2h0M664.6 418.4h0M662.4 409.5h0M666.7 407.0h0M663.2 405.5h0M670.8 404.3h0M670.7 404.2h0M658.7 401.8h0M660.7 400.5h0M665.9 400.3h0M665.0 398.3h0M659.5 397.3h0M662.7 396.5h0M660.3 395.9h0M661.6 392.7h0M665.7 388.5h0" stroke="#77AC30" stroke-opacity="0.55" stroke-width="3.0" stroke-linecap="round"/>
<path d="M664.7 423.1h0M663.4 420.4h0M667.3 418.9h0M664.0 416.1h0M663.8 414.0h0M660.3 410.7h0M664.6 410.0h0M668.2 408.4h0M665.2 407.3h0M659.7 407.2h0M665.1 406.5h0M663.2 403.0h0M663.7 402.8h0M661.4 401.3h0M667.2 400.7h0M666.0 399.9h0M664.9 397.0h0M663.4 393.8h0M665.8 392.4h0M666.2 385.7h0" stroke="#77AC30" stroke-opacity="0.55" stroke-width="3.0" stroke-linecap="round"/>
<path d="M662.0 417.5h0M667.2 414.6h0M669.8 407.6h0M668.7 403.8h0M668.0 403.1h0M669.0 397.8h0M666.5 395.2h0M668.5 394.5h0M666.1 391.9h0" stroke="#77AC30" stroke-opacity="0.55" stroke-width="3.0" stroke-linecap="round"/>
<path d="M669.6 412.3h0M668.7 410.4h0M670.6 409.1h0M669.5 406.1h0M662.1 406.0h0M667.5 405.2h0M672.4 402.5h0M664.6 399.4h0M660.8 398.6h0M669.2 398.5h0M663.2 389.5h0M665.7 387.6h0M664.7 384.9h0M664.3 383.4h0" stroke="#77AC30" stroke-opacity="0.55" stroke-width="3.0" stroke-linecap="round"/>
<path d="M423.2 355.1H460.8" stroke="#555" stroke-width="1"/>
<text transform="translate(442 354.2) scale(0.96 1.2)" text-anchor="middle" class="s">ns</text>
<path d="M442 363.4H479.6" stroke="#555" stroke-width="1"/>
<text transform="translate(460.8 362.5) scale(0.96 1.2)" text-anchor="middle" class="s">ns</text>
<path d="M423.2 371.4H442" stroke="#555" stroke-width="1"/>
<text transform="translate(432.6 370.5) scale(0.96 1.2)" text-anchor="middle" class="s">ns</text>
<path d="M460.8 371.4H479.6" stroke="#555" stroke-width="1"/>
<text x="470.2" y="373.4" text-anchor="middle" class="s">***</text>
<path d="M517.2 355.1H554.8" stroke="#555" stroke-width="1"/>
<text transform="translate(536 354.2) scale(0.96 1.2)" text-anchor="middle" class="s">ns</text>
<path d="M536 363.4H573.6" stroke="#555" stroke-width="1"/>
<text transform="translate(554.8 362.5) scale(0.96 1.2)" text-anchor="middle" class="s">ns</text>
<path d="M517.2 371.4H536" stroke="#555" stroke-width="1"/>
<text x="526.6" y="373.4" text-anchor="middle" class="s">***</text>
<path d="M554.8 371.4H573.6" stroke="#555" stroke-width="1"/>
<text x="564.2" y="373.4" text-anchor="middle" class="s">***</text>
<path d="M611.2 355.1H648.8" stroke="#555" stroke-width="1"/>
<text transform="translate(630 354.2) scale(0.96 1.2)" text-anchor="middle" class="s">ns</text>
<path d="M630 363.4H667.6" stroke="#555" stroke-width="1"/>
<text transform="translate(648.8 362.5) scale(0.96 1.2)" text-anchor="middle" class="s">ns</text>
<path d="M611.2 371.4H630" stroke="#555" stroke-width="1"/>
<text transform="translate(620.6 370.5) scale(0.96 1.2)" text-anchor="middle" class="s">ns</text>
<path d="M648.8 371.4H667.6" stroke="#555" stroke-width="1"/>
<text transform="translate(658.2 370.5) scale(0.96 1.2)" text-anchor="middle" class="s">ns</text>
<path d="M401.6 471.6V549.2H683.6" fill="none" stroke="#c2c2c2" stroke-width="1"/>
<path d="M401.6 549.2h3" stroke="#c2c2c2" stroke-width="1"/>
<text x="398.4" y="552.7" text-anchor="end" class="k">0</text>
<path d="M401.6 516.8h3" stroke="#c2c2c2" stroke-width="1"/>
<text x="398.4" y="520.3" text-anchor="end" class="k">0.5</text>
<path d="M401.6 484.4h3" stroke="#c2c2c2" stroke-width="1"/>
<text x="398.4" y="487.9" text-anchor="end" class="k">1</text>
<path d="M429.8 549.2v-2.5" stroke="#c2c2c2" stroke-width="1"/>
<text x="429.8" y="561.6" text-anchor="middle" class="k">3</text>
<path d="M467.4 549.2v-2.5" stroke="#c2c2c2" stroke-width="1"/>
<text x="467.4" y="561.6" text-anchor="middle" class="k">4</text>
<path d="M523.8 549.2v-2.5" stroke="#c2c2c2" stroke-width="1"/>
<text x="523.8" y="561.6" text-anchor="middle" class="k">3</text>
<path d="M561.4 549.2v-2.5" stroke="#c2c2c2" stroke-width="1"/>
<text x="561.4" y="561.6" text-anchor="middle" class="k">4</text>
<path d="M617.8 549.2v-2.5" stroke="#c2c2c2" stroke-width="1"/>
<text x="617.8" y="561.6" text-anchor="middle" class="k">3</text>
<path d="M655.4 549.2v-2.5" stroke="#c2c2c2" stroke-width="1"/>
<text x="655.4" y="561.6" text-anchor="middle" class="k">4</text>
<text transform="translate(370.3 510.4) rotate(-90)" text-anchor="middle" class="t">Fraction of</text>
<text transform="translate(381.8 510.4) rotate(-90)" text-anchor="middle" class="t">NAD(P)H-rich EVs</text>
<path d="M419.5 499.0h0M420.8 509.5h0M425.8 519.4h0" stroke="#4DBEEE" stroke-opacity="0.55" stroke-width="3.0" stroke-linecap="round"/>
<path d="M420.4 536.5h0" stroke="#4DBEEE" stroke-opacity="0.55" stroke-width="3.0" stroke-linecap="round"/>
<path d="M412.0 512.4h0M422.4 527.8h0" stroke="#4DBEEE" stroke-opacity="0.55" stroke-width="3.0" stroke-linecap="round"/>
<path d="M416.4 514.0h0" stroke="#4DBEEE" stroke-opacity="0.55" stroke-width="3.0" stroke-linecap="round"/>
<path d="M417.3 508.8h0" stroke="#4DBEEE" stroke-opacity="0.55" stroke-width="3.0" stroke-linecap="round"/>
<path d="M442.6 511.6h0M441.6 513.6h0M437.2 534.8h0M442.9 543.3h0" stroke="#DD6410" stroke-opacity="0.55" stroke-width="3.0" stroke-linecap="round"/>
<path d="M439.2 539.6h0" stroke="#DD6410" stroke-opacity="0.55" stroke-width="3.0" stroke-linecap="round"/>
<path d="M434.0 504.0h0M444.7 515.4h0" stroke="#DD6410" stroke-opacity="0.55" stroke-width="3.0" stroke-linecap="round"/>
<path d="M434.4 508.4h0M438.4 517.0h0M434.9 540.1h0" stroke="#DD6410" stroke-opacity="0.55" stroke-width="3.0" stroke-linecap="round"/>
<path d="M445.9 514.1h0M441.6 519.5h0M439.2 522.1h0M439.6 529.9h0M441.6 540.3h0" stroke="#DD6410" stroke-opacity="0.55" stroke-width="3.0" stroke-linecap="round"/>
<path d="M437.2 504.8h0M434.4 526.9h0" stroke="#DD6410" stroke-opacity="0.55" stroke-width="3.0" stroke-linecap="round"/>
<path d="M456.6 548.7h0M460.4 547.0h0M464.7 545.1h0M465.4 544.0h0M458.1 539.9h0M455.5 538.4h0M451.4 537.6h0M456.6 536.2h0M456.3 535.2h0M462.8 532.9h0M458.1 532.7h0M457.4 529.5h0M457.9 500.0h0" stroke="#4DBEEE" stroke-opacity="0.55" stroke-width="3.0" stroke-linecap="round"/>
<path d="M460.8 547.8h0M457.0 547.5h0M456.0 547.2h0M460.6 544.6h0M465.0 544.1h0M451.1 543.4h0M450.3 542.7h0M461.9 541.2h0M455.0 540.4h0M454.5 538.9h0M464.7 538.5h0M462.8 533.7h0M453.5 532.0h0M461.0 529.8h0M455.2 527.7h0M458.0 485.0h0" stroke="#4DBEEE" stroke-opacity="0.55" stroke-width="3.0" stroke-linecap="round"/>
<path d="M461.3 548.6h0M461.1 548.2h0M453.1 544.9h0M455.6 543.8h0M455.2 542.5h0M464.3 542.3h0M456.6 541.7h0M465.6 541.6h0M458.8 540.2h0M462.8 539.6h0M454.5 537.8h0M464.1 535.9h0M456.2 532.4h0M462.7 531.5h0M460.7 530.1h0M457.0 528.7h0" stroke="#4DBEEE" stroke-opacity="0.55" stroke-width="3.0" stroke-linecap="round"/>
<path d="M454.0 547.8h0M454.8 546.3h0M465.0 544.3h0M462.3 543.1h0M456.6 542.1h0M462.8 541.9h0M465.3 540.9h0M462.9 540.8h0M453.5 539.3h0M464.5 537.4h0M452.7 536.6h0M452.5 535.4h0M462.2 534.7h0M463.3 533.4h0M461.3 530.4h0M458.4 526.0h0M457.1 522.0h0M457.6 516.8h0" stroke="#4DBEEE" stroke-opacity="0.55" stroke-width="3.0" stroke-linecap="round"/>
<path d="M462.2 549.0h0M462.7 546.6h0M455.3 546.4h0M452.5 546.0h0M463.7 542.9h0M451.2 541.3h0M450.9 539.3h0M465.1 538.7h0M452.9 537.9h0M451.0 536.5h0M462.8 536.1h0M454.3 535.6h0M461.2 531.0h0M461.1 528.3h0M460.2 527.5h0M457.3 526.8h0M457.7 510.3h0" stroke="#4DBEEE" stroke-opacity="0.55" stroke-width="3.0" stroke-linecap="round"/>
<path d="M457.2 546.8h0M462.6 545.8h0M456.4 545.6h0M452.0 545.3h0M454.0 544.8h0M455.7 543.6h0M463.8 540.6h0M450.3 539.8h0M455.9 538.2h0M455.6 537.2h0M453.4 537.0h0M451.8 536.8h0M451.4 535.0h0M455.4 534.5h0M455.5 534.2h0M453.3 531.2h0M460.9 529.3h0M457.8 506.4h0" stroke="#4DBEEE" stroke-opacity="0.55" stroke-width="3.0" stroke-linecap="round"/>
<path d="M478.6 510.5h0M468.6 528.8h0M470.6 534.7h0M474.6 535.5h0M477.0 535.1h0M479.0 535.1h0" stroke="#77AC30" stroke-opacity="0.55" stroke-width="3.0" stroke-linecap="round"/>
<path d="M477.0 506.0h0M480.2 527.6h0M474.2 537.1h0M475.4 543.8h0" stroke="#77AC30" stroke-opacity="0.55" stroke-width="3.0" stroke-linecap="round"/>
<path d="M476.2 511.0h0M480.2 517.4h0M482.6 523.3h0M476.2 536.7h0M478.2 546.7h0" stroke="#77AC30" stroke-opacity="0.55" stroke-width="3.0" stroke-linecap="round"/>
<path d="M476.8 517.2h0M478.2 524.4h0M480.6 543.8h0M479.4 547.5h0" stroke="#77AC30" stroke-opacity="0.55" stroke-width="3.0" stroke-linecap="round"/>
<path d="M482.6 521.6h0M476.2 523.3h0M473.8 528.4h0M471.0 530.8h0M480.6 532.3h0M482.6 532.3h0M469.4 535.9h0M477.4 548.3h0" stroke="#77AC30" stroke-opacity="0.55" stroke-width="3.0" stroke-linecap="round"/>
<path d="M477.9 504.0h0M471.0 524.1h0M471.8 528.0h0M471.8 531.5h0M482.4 538.3h0M477.4 541.1h0M477.8 543.8h0" stroke="#77AC30" stroke-opacity="0.55" stroke-width="3.0" stroke-linecap="round"/>
<path d="M512.7 510.4h0M514.9 527.8h0M516.3 527.8h0M522.4 536.9h0M521.6 538.6h0M511.6 540.8h0M513.8 547.0h0M516.3 547.0h0M510.7 547.0h0" stroke="#4DBEEE" stroke-opacity="0.55" stroke-width="3.0" stroke-linecap="round"/>
<path d="M513.8 497.3h0M511.3 512.4h0M516.1 516.8h0M510.1 527.8h0M509.0 532.7h0M511.3 532.5h0M515.2 533.0h0M509.6 545.3h0" stroke="#4DBEEE" stroke-opacity="0.55" stroke-width="3.0" stroke-linecap="round"/>
<path d="M512.4 506.2h0M512.0 516.8h0M506.8 533.0h0M514.6 543.6h0" stroke="#4DBEEE" stroke-opacity="0.55" stroke-width="3.0" stroke-linecap="round"/>
<path d="M510.1 516.8h0M507.1 541.9h0M519.4 540.8h0M512.4 544.2h0" stroke="#4DBEEE" stroke-opacity="0.55" stroke-width="3.0" stroke-linecap="round"/>
<path d="M517.6 516.8h0M519.6 516.8h0M513.5 533.0h0" stroke="#4DBEEE" stroke-opacity="0.55" stroke-width="3.0" stroke-linecap="round"/>
<path d="M514.6 484.5h0M514.0 541.9h0M520.5 543.6h0" stroke="#4DBEEE" stroke-opacity="0.55" stroke-width="3.0" stroke-linecap="round"/>
<path d="M531.8 536.4h0M532.3 534.5h0M533.5 532.6h0M537.8 532.3h0M537.1 524.8h0M538.3 510.4h0M529.4 508.9h0M528.4 507.4h0M535.2 506.4h0M538.2 506.0h0" stroke="#DD6410" stroke-opacity="0.55" stroke-width="3.0" stroke-linecap="round"/>
<path d="M533.8 530.4h0M538.8 527.0h0M535.3 524.4h0M529.7 523.8h0M530.5 523.4h0M530.7 522.4h0M534.2 520.4h0M527.0 517.2h0M529.4 517.0h0M538.8 514.5h0M536.3 514.3h0M526.4 511.4h0M528.2 510.2h0M534.6 509.3h0M531.8 508.5h0M533.8 504.4h0M537.3 501.4h0M530.9 501.0h0" stroke="#DD6410" stroke-opacity="0.55" stroke-width="3.0" stroke-linecap="round"/>
<path d="M532.5 540.8h0M529.8 533.8h0M529.7 529.8h0M537.2 527.6h0M536.3 525.5h0M530.1 521.1h0M541.0 518.8h0M536.0 515.6h0M531.3 514.9h0M526.1 513.1h0M540.4 512.1h0M532.8 510.8h0M530.7 507.8h0M538.0 507.1h0" stroke="#DD6410" stroke-opacity="0.55" stroke-width="3.0" stroke-linecap="round"/>
<path d="M535.1 541.9h0M533.8 537.1h0M531.6 526.0h0M535.8 524.0h0M530.2 518.0h0M530.1 503.4h0M533.2 500.6h0M531.8 498.8h0" stroke="#DD6410" stroke-opacity="0.55" stroke-width="3.0" stroke-linecap="round"/>
<path d="M536.3 537.9h0M528.7 533.4h0M529.2 531.8h0M530.7 531.1h0M532.4 528.2h0M538.6 526.3h0M539.5 523.1h0M537.8 522.8h0M536.5 521.8h0M536.2 520.1h0M526.3 519.9h0M529.2 517.5h0M541.3 515.2h0M537.7 513.9h0M536.1 513.5h0M534.9 512.4h0M529.8 511.1h0M529.6 505.2h0M530.7 502.7h0M532.3 501.9h0M533.0 495.3h0" stroke="#DD6410" stroke-opacity="0.55" stroke-width="3.0" stroke-linecap="round"/>
<path d="M535.7 540.2h0M532.5 538.6h0M533.6 535.6h0M534.2 535.4h0M532.6 529.4h0M537.6 528.8h0M531.4 525.1h0M526.6 521.5h0M531.8 520.7h0M532.1 519.4h0M528.4 518.9h0M525.7 518.3h0M528.2 516.5h0M534.9 516.1h0M534.1 515.9h0M540.1 512.9h0M539.8 511.7h0M534.8 504.6h0M537.2 503.9h0M530.5 498.4h0M534.7 496.7h0" stroke="#DD6410" stroke-opacity="0.55" stroke-width="3.0" stroke-linecap="round"/>
<path d="M546.9 541.1h0" stroke="#4DBEEE" stroke-opacity="0.55" stroke-width="3.0" stroke-linecap="round"/>
<path d="M555.9 545.0h0M549.5 548.4h0" stroke="#4DBEEE" stroke-opacity="0.55" stroke-width="3.0" stroke-linecap="round"/>
<path d="M552.0 546.2h0" stroke="#4DBEEE" stroke-opacity="0.55" stroke-width="3.0" stroke-linecap="round"/>
<path d="M555.9 546.8h0" stroke="#4DBEEE" stroke-opacity="0.55" stroke-width="3.0" stroke-linecap="round"/>
<path d="M556.8 542.0h0" stroke="#4DBEEE" stroke-opacity="0.55" stroke-width="3.0" stroke-linecap="round"/>
<path d="M569.0 542.9h0M573.1 540.0h0M571.1 536.1h0M570.2 533.1h0M577.8 531.1h0M563.7 529.8h0M569.4 529.4h0M572.6 525.6h0M569.7 523.8h0M572.4 521.1h0M562.9 520.5h0M568.1 519.6h0M568.4 511.9h0M569.9 511.1h0M575.3 510.1h0M575.7 509.1h0M571.7 506.9h0M567.3 500.3h0M570.3 495.1h0M570.9 490.1h0" stroke="#77AC30" stroke-opacity="0.55" stroke-width="3.0" stroke-linecap="round"/>
<path d="M576.8 535.4h0M570.1 532.1h0M564.5 528.4h0M564.1 526.4h0M575.7 524.2h0M567.7 522.7h0M575.0 520.8h0M578.4 517.9h0M564.8 517.2h0M569.1 513.6h0M568.6 512.8h0M570.9 508.2h0M569.0 507.8h0M574.9 506.5h0M574.1 505.2h0M566.6 500.6h0M567.3 499.5h0" stroke="#77AC30" stroke-opacity="0.55" stroke-width="3.0" stroke-linecap="round"/>
<path d="M573.6 539.2h0M570.5 539.0h0M571.1 537.7h0M574.9 537.0h0M576.9 535.0h0M572.3 534.4h0M575.5 526.1h0M570.2 521.9h0M578.9 520.2h0M575.1 516.4h0M569.4 515.4h0M571.9 514.7h0M577.0 514.2h0M565.5 514.1h0M572.1 511.5h0M571.4 509.8h0M569.3 504.4h0M572.5 504.0h0" stroke="#77AC30" stroke-opacity="0.55" stroke-width="3.0" stroke-linecap="round"/>
<path d="M569.6 543.7h0M567.9 541.5h0M573.5 538.5h0M571.9 537.4h0M578.3 529.2h0M573.6 528.1h0M576.4 527.6h0M563.6 527.3h0M572.7 526.9h0M570.6 512.0h0M571.3 505.6h0M570.3 501.8h0M567.4 501.4h0M569.9 498.1h0M571.7 497.4h0M573.7 496.5h0M570.0 493.7h0" stroke="#77AC30" stroke-opacity="0.55" stroke-width="3.0" stroke-linecap="round"/>
<path d="M567.9 541.0h0M570.8 534.2h0M567.0 531.6h0M566.9 531.0h0M573.2 530.3h0M578.1 524.8h0M574.8 524.5h0M577.1 522.3h0M570.1 519.3h0M574.8 518.8h0M574.3 517.0h0M563.0 516.5h0M571.5 503.5h0M572.3 502.8h0M570.2 498.8h0" stroke="#77AC30" stroke-opacity="0.55" stroke-width="3.0" stroke-linecap="round"/>
<path d="M570.4 536.4h0M564.4 533.8h0M567.9 532.7h0M569.0 528.7h0M576.0 525.5h0M567.8 523.3h0M578.0 522.9h0M562.9 521.5h0M572.1 518.4h0M570.3 518.1h0M574.2 515.8h0M569.4 515.0h0M570.2 513.3h0M567.0 512.5h0M575.3 510.5h0M571.2 491.6h0" stroke="#77AC30" stroke-opacity="0.55" stroke-width="3.0" stroke-linecap="round"/>
<path d="M609.7 540.8h0M604.1 540.0h0M612.3 539.3h0M612.1 535.1h0M613.6 534.3h0M615.6 534.1h0M613.8 532.1h0M604.9 531.0h0M609.5 529.6h0M605.6 528.0h0M609.4 527.0h0M607.8 526.5h0M602.7 526.0h0M603.8 525.1h0M610.5 524.2h0M609.2 518.6h0M610.8 517.4h0M610.7 515.2h0M605.6 513.0h0M608.8 512.6h0M607.4 506.4h0" stroke="#4DBEEE" stroke-opacity="0.55" stroke-width="3.0" stroke-linecap="round"/>
<path d="M606.6 547.7h0M603.9 542.7h0M603.5 538.1h0M607.4 536.9h0M612.2 535.6h0M602.1 531.4h0M605.4 531.2h0M612.8 530.7h0M606.0 523.8h0M607.1 523.4h0M608.1 523.3h0M608.6 522.2h0M608.7 521.6h0M612.7 518.3h0M609.1 515.5h0M609.8 514.8h0M610.1 512.2h0M606.7 511.6h0M608.3 510.7h0M608.4 492.8h0" stroke="#4DBEEE" stroke-opacity="0.55" stroke-width="3.0" stroke-linecap="round"/>
<path d="M609.6 547.1h0M605.9 544.6h0M604.4 544.1h0M610.6 542.9h0M605.5 540.3h0M609.2 538.6h0M608.0 536.0h0M601.5 535.4h0M604.7 534.5h0M605.2 532.6h0M609.7 529.2h0M606.5 529.0h0M605.2 528.5h0M603.4 525.6h0M602.4 524.0h0M605.8 521.1h0M603.3 520.5h0M605.8 516.7h0M605.5 515.9h0" stroke="#4DBEEE" stroke-opacity="0.55" stroke-width="3.0" stroke-linecap="round"/>
<path d="M608.4 545.0h0M605.1 543.4h0M610.0 541.3h0M602.2 533.5h0M614.9 533.0h0M607.5 532.4h0M608.6 530.6h0M601.3 530.3h0M606.1 529.7h0M602.8 528.2h0M614.9 527.3h0M603.4 526.2h0M615.3 524.9h0M607.7 524.4h0M610.2 520.3h0M608.6 519.3h0M608.6 484.4h0" stroke="#4DBEEE" stroke-opacity="0.55" stroke-width="3.0" stroke-linecap="round"/>
<path d="M610.4 546.3h0M614.2 537.5h0M607.1 533.7h0M606.4 533.3h0M610.2 531.7h0M602.5 525.7h0M601.8 524.8h0M608.7 519.7h0M608.3 517.1h0M610.3 514.0h0" stroke="#4DBEEE" stroke-opacity="0.55" stroke-width="3.0" stroke-linecap="round"/>
<path d="M607.2 546.8h0M611.5 545.8h0M612.3 543.9h0M612.4 542.2h0M609.0 541.6h0M609.0 539.0h0M611.0 537.4h0M602.1 536.3h0M615.2 535.9h0M614.0 534.7h0M607.8 532.7h0M600.4 530.1h0M606.9 528.7h0M610.9 527.7h0M605.1 527.4h0M603.1 526.8h0M610.7 522.5h0M605.4 513.6h0M611.1 511.3h0" stroke="#4DBEEE" stroke-opacity="0.55" stroke-width="3.0" stroke-linecap="round"/>
<path d="M631.4 545.2h0M631.0 544.5h0M626.0 542.5h0M624.3 541.5h0M629.8 540.7h0M628.9 539.7h0M623.0 539.4h0M620.6 538.9h0M629.8 536.6h0M620.5 536.4h0M622.3 534.0h0M628.6 531.3h0M622.8 529.0h0M629.8 525.3h0M629.1 516.8h0M628.2 515.6h0M626.9 515.3h0M624.9 514.6h0M628.4 511.5h0" stroke="#DD6410" stroke-opacity="0.55" stroke-width="3.0" stroke-linecap="round"/>
<path d="M627.8 548.3h0M623.2 547.4h0M630.1 546.9h0M630.3 546.3h0M628.3 546.1h0M626.5 545.4h0M628.8 544.2h0M626.2 541.8h0M621.7 540.0h0M631.7 539.1h0M625.4 536.3h0M620.6 534.7h0M622.0 534.3h0M624.9 532.8h0M633.6 530.9h0M620.9 530.3h0M627.8 529.8h0M631.0 529.4h0M628.9 528.1h0M628.8 527.4h0M622.6 525.9h0M628.6 522.1h0M628.9 520.0h0M629.2 518.0h0M628.3 512.9h0M627.8 503.0h0" stroke="#DD6410" stroke-opacity="0.55" stroke-width="3.0" stroke-linecap="round"/>
<path d="M623.4 548.7h0M630.6 543.0h0M619.6 542.7h0M627.2 541.3h0M622.4 538.8h0M623.9 535.3h0M627.9 534.4h0M623.5 532.9h0M630.3 532.4h0M622.8 532.0h0M622.0 531.7h0M625.3 527.1h0M624.8 526.4h0M627.7 522.7h0M629.7 520.8h0M629.3 510.1h0M628.7 509.1h0M626.3 503.6h0" stroke="#DD6410" stroke-opacity="0.55" stroke-width="3.0" stroke-linecap="round"/>
<path d="M631.3 547.9h0M622.9 543.7h0M623.1 543.6h0M631.0 542.1h0M620.0 538.1h0M634.7 533.6h0M628.2 530.6h0M627.8 527.8h0M625.2 524.2h0M624.9 519.2h0M628.3 518.4h0M628.4 517.3h0M626.2 512.3h0M628.6 510.6h0M628.6 506.5h0" stroke="#DD6410" stroke-opacity="0.55" stroke-width="3.0" stroke-linecap="round"/>
<path d="M623.3 547.0h0M633.3 544.9h0M623.4 544.0h0M622.5 541.9h0M620.7 541.0h0M620.8 540.6h0M627.3 540.3h0M629.2 538.4h0M628.7 538.3h0M619.6 536.9h0M631.4 535.8h0M620.9 533.3h0M633.1 529.1h0M629.6 528.3h0M622.7 526.8h0M626.5 505.0h0" stroke="#DD6410" stroke-opacity="0.55" stroke-width="3.0" stroke-linecap="round"/>
<path d="M625.6 549.1h0M627.6 547.5h0M624.2 546.5h0M625.8 545.7h0M622.5 544.7h0M634.0 543.3h0M620.1 539.6h0M627.9 537.7h0M634.2 537.5h0M620.9 537.4h0M625.2 537.1h0M622.2 535.9h0M622.2 535.6h0M629.9 535.1h0M624.0 531.6h0M625.6 530.0h0M630.9 528.5h0M630.6 523.9h0M627.3 521.6h0M625.9 513.5h0" stroke="#DD6410" stroke-opacity="0.55" stroke-width="3.0" stroke-linecap="round"/>
<path d="M648.9 547.1h0M641.8 546.8h0M645.0 543.9h0M647.8 542.8h0M650.3 541.1h0M647.6 541.0h0M643.8 538.9h0M651.3 538.3h0M644.1 537.5h0M642.4 536.0h0M651.4 535.7h0M650.1 535.1h0M649.6 529.8h0M648.3 523.2h0M647.0 513.1h0M647.5 512.8h0M646.1 484.4h0" stroke="#4DBEEE" stroke-opacity="0.55" stroke-width="3.0" stroke-linecap="round"/>
<path d="M641.8 544.6h0M642.2 544.1h0M652.0 543.0h0M647.2 540.1h0M649.8 539.8h0M640.1 537.0h0M651.3 534.8h0M643.5 533.1h0M640.4 531.3h0M641.9 530.9h0M642.9 523.9h0M648.3 520.3h0M644.9 518.6h0M648.6 517.4h0M646.3 503.8h0" stroke="#4DBEEE" stroke-opacity="0.55" stroke-width="3.0" stroke-linecap="round"/>
<path d="M644.1 548.1h0M647.7 544.3h0M652.1 543.6h0M643.9 538.7h0M647.0 537.7h0M647.5 537.3h0M638.7 536.7h0M645.8 534.3h0M648.0 529.9h0M642.3 528.3h0M647.2 526.9h0M650.2 524.4h0M645.5 522.4h0M644.4 521.9h0M649.7 521.4h0M648.0 521.1h0M646.4 506.4h0M646.4 497.4h0" stroke="#4DBEEE" stroke-opacity="0.55" stroke-width="3.0" stroke-linecap="round"/>
<path d="M645.5 548.4h0M640.8 547.8h0M641.3 546.6h0M646.5 546.3h0M640.7 545.2h0M642.3 543.3h0M651.6 541.4h0M646.5 527.6h0M641.7 525.2h0M644.3 519.7h0M647.9 518.0h0M645.1 515.5h0M644.9 511.3h0" stroke="#4DBEEE" stroke-opacity="0.55" stroke-width="3.0" stroke-linecap="round"/>
<path d="M647.9 546.1h0M651.8 545.8h0M652.2 545.6h0M651.2 545.3h0M645.2 544.8h0M644.2 541.6h0M648.9 540.7h0M645.8 539.4h0M648.1 533.8h0M649.6 533.3h0M652.2 532.1h0M651.6 531.6h0M650.2 530.4h0M645.8 529.4h0M642.8 528.8h0M646.3 527.2h0M643.7 525.4h0M647.7 518.9h0M648.0 516.3h0M643.4 514.5h0M646.1 501.9h0" stroke="#4DBEEE" stroke-opacity="0.55" stroke-width="3.0" stroke-linecap="round"/>
<path d="M644.8 547.7h0M651.4 547.4h0M642.2 542.6h0M649.0 542.4h0M648.5 542.1h0M651.3 540.2h0M645.1 539.2h0M643.8 538.1h0M643.8 536.3h0M640.6 532.7h0M650.7 528.0h0M648.0 526.1h0M643.2 516.6h0" stroke="#4DBEEE" stroke-opacity="0.55" stroke-width="3.0" stroke-linecap="round"/>
<path d="M668.5 543.1h0M668.8 541.6h0M668.7 540.9h0M664.6 533.4h0M670.4 532.8h0M659.0 530.4h0M664.4 529.4h0M672.1 528.2h0M667.3 527.5h0M669.9 527.2h0M657.2 525.9h0M660.3 524.3h0M670.9 523.5h0M668.7 520.5h0M667.6 519.3h0M665.6 518.2h0M669.3 517.6h0M665.8 510.6h0M667.9 508.3h0" stroke="#77AC30" stroke-opacity="0.55" stroke-width="3.0" stroke-linecap="round"/>
<path d="M666.3 545.7h0M668.3 540.8h0M667.3 540.4h0M668.6 539.7h0M667.8 539.2h0M657.9 537.6h0M669.0 536.1h0M659.8 530.1h0M668.9 521.4h0M666.4 515.2h0M667.3 513.3h0M665.1 509.3h0M664.0 505.6h0M665.7 503.2h0M666.3 499.8h0M665.1 493.0h0" stroke="#77AC30" stroke-opacity="0.55" stroke-width="3.0" stroke-linecap="round"/>
<path d="M665.3 545.2h0M662.6 541.9h0M668.4 540.1h0M667.5 535.9h0M666.0 532.4h0M672.9 529.9h0M657.9 527.0h0M669.9 526.0h0M672.2 523.8h0M670.9 523.2h0M658.5 522.6h0M667.6 522.4h0M659.5 520.8h0M664.6 518.9h0M659.5 517.7h0M668.1 517.1h0M668.3 512.0h0M666.3 502.4h0M663.0 501.6h0M666.6 500.6h0M663.6 498.1h0M664.0 495.4h0" stroke="#77AC30" stroke-opacity="0.55" stroke-width="3.0" stroke-linecap="round"/>
<path d="M668.0 542.3h0M659.3 538.9h0M663.1 538.4h0M670.1 537.9h0M669.7 537.0h0M670.4 536.7h0M661.0 534.9h0M658.8 532.2h0M661.0 531.8h0M658.5 531.5h0M662.6 530.7h0M658.7 529.2h0M667.8 525.3h0M670.6 519.7h0M663.6 518.7h0M665.8 514.4h0M663.6 507.2h0M664.8 506.5h0M667.6 504.0h0" stroke="#77AC30" stroke-opacity="0.55" stroke-width="3.0" stroke-linecap="round"/>
<path d="M661.5 542.5h0M665.8 535.3h0M660.9 534.3h0M663.8 534.2h0M666.4 533.8h0M659.7 531.0h0M670.8 528.9h0M664.3 528.6h0M665.1 525.1h0M660.3 524.6h0M665.0 521.8h0M668.6 516.4h0M662.5 511.3h0M667.2 508.5h0" stroke="#77AC30" stroke-opacity="0.55" stroke-width="3.0" stroke-linecap="round"/>
<path d="M666.6 544.4h0M662.7 543.8h0M660.1 537.4h0M662.7 534.6h0M673.0 533.0h0M667.4 527.8h0M665.3 526.5h0M658.6 521.5h0M660.2 520.0h0M669.2 515.6h0M663.6 512.5h0M663.6 504.8h0M664.9 494.2h0" stroke="#77AC30" stroke-opacity="0.55" stroke-width="3.0" stroke-linecap="round"/>
<path d="M423.2 466H460.8" stroke="#555" stroke-width="1"/>
<text x="442" y="468" text-anchor="middle" class="s">**</text>
<path d="M442 473.6H479.6" stroke="#555" stroke-width="1"/>
<text transform="translate(460.8 472.7) scale(0.96 1.2)" text-anchor="middle" class="s">ns</text>
<path d="M423.2 481.4H442" stroke="#555" stroke-width="1"/>
<text transform="translate(432.6 480.5) scale(0.96 1.2)" text-anchor="middle" class="s">ns</text>
<path d="M460.8 481.4H479.6" stroke="#555" stroke-width="1"/>
<text transform="translate(470.2 480.5) scale(0.96 1.2)" text-anchor="middle" class="s">ns</text>
<path d="M517.2 466H554.8" stroke="#555" stroke-width="1"/>
<text transform="translate(536 465.1) scale(0.96 1.2)" text-anchor="middle" class="s">ns</text>
<path d="M536 473.6H573.6" stroke="#555" stroke-width="1"/>
<text transform="translate(554.8 472.7) scale(0.96 1.2)" text-anchor="middle" class="s">ns</text>
<path d="M517.2 481.4H536" stroke="#555" stroke-width="1"/>
<text transform="translate(526.6 480.5) scale(0.96 1.2)" text-anchor="middle" class="s">ns</text>
<path d="M554.8 481.4H573.6" stroke="#555" stroke-width="1"/>
<text x="564.2" y="483.4" text-anchor="middle" class="s">***</text>
<path d="M611.2 466H648.8" stroke="#555" stroke-width="1"/>
<text transform="translate(630 465.1) scale(0.96 1.2)" text-anchor="middle" class="s">ns</text>
<path d="M630 473.6H667.6" stroke="#555" stroke-width="1"/>
<text x="648.8" y="475.6" text-anchor="middle" class="s">*</text>
<path d="M611.2 481.4H630" stroke="#555" stroke-width="1"/>
<text transform="translate(620.6 480.5) scale(0.96 1.2)" text-anchor="middle" class="s">ns</text>
<path d="M648.8 481.4H667.6" stroke="#555" stroke-width="1"/>
<text x="658.2" y="483.4" text-anchor="middle" class="s">*</text>
<text x="7.1" y="17.0" text-anchor="middle" class="L">a</text>
<text x="7.1" y="127.8" text-anchor="middle" class="L">b</text>
<text x="7.1" y="238.5" text-anchor="middle" class="L">c</text>
<text x="7.1" y="349.0" text-anchor="middle" class="L">d</text>
<text x="7.1" y="460.2" text-anchor="middle" class="L">e</text>
<text x="362.6" y="17.0" text-anchor="middle" class="L">f</text>
<text x="362.6" y="133.0" text-anchor="middle" class="L">g</text>
<text x="362.6" y="242.0" text-anchor="middle" class="L">h</text>
<text x="362.6" y="350.9" text-anchor="middle" class="L">i</text>
<text x="362.6" y="460.0" text-anchor="middle" class="L">j</text>
<path d="M138.9 8.5V595.5" stroke="#a0a0a0" stroke-width="1.4" stroke-dasharray="2.2 1.7"/>
<path d="M233.4 8.5V595.5" stroke="#999" stroke-width="1.2" stroke-dasharray="2.2 1.7"/>
<path d="M498.4 8.5V595.5" stroke="#888" stroke-width="1.1" stroke-dasharray="2.2 1.7"/>
<path d="M592.4 8.5V595.5" stroke="#888" stroke-width="1.1" stroke-dasharray="2.2 1.7"/>
<text x="90.3" y="591.0" text-anchor="middle" class="W">Week 1</text>
<text x="185.35" y="591.0" text-anchor="middle" class="W">Week 3</text>
<text x="280.5" y="591.0" text-anchor="middle" class="W">Week 5</text>
<text x="449.9" y="591.0" text-anchor="middle" class="W">Week 1</text>
<text x="543.9" y="591.0" text-anchor="middle" class="W">Week 3</text>
<text x="638.8" y="591.0" text-anchor="middle" class="W">Week 5</text>
<rect x="17.5" y="603" width="660.7" height="21" fill="none" stroke="#606060" stroke-width="1.2"/>
<text x="113" y="617.9" text-anchor="middle" class="W" style="fill:#4DBEEE">Untreated (saline)</text>
<text x="332.2" y="617.9" text-anchor="middle" class="W" style="fill:#7AB33E">Responsive to treatment</text>
<text x="567.4" y="617.9" text-anchor="middle" class="W" style="fill:#E8894A">Resistant to treatment</text>
</svg></body></html>
